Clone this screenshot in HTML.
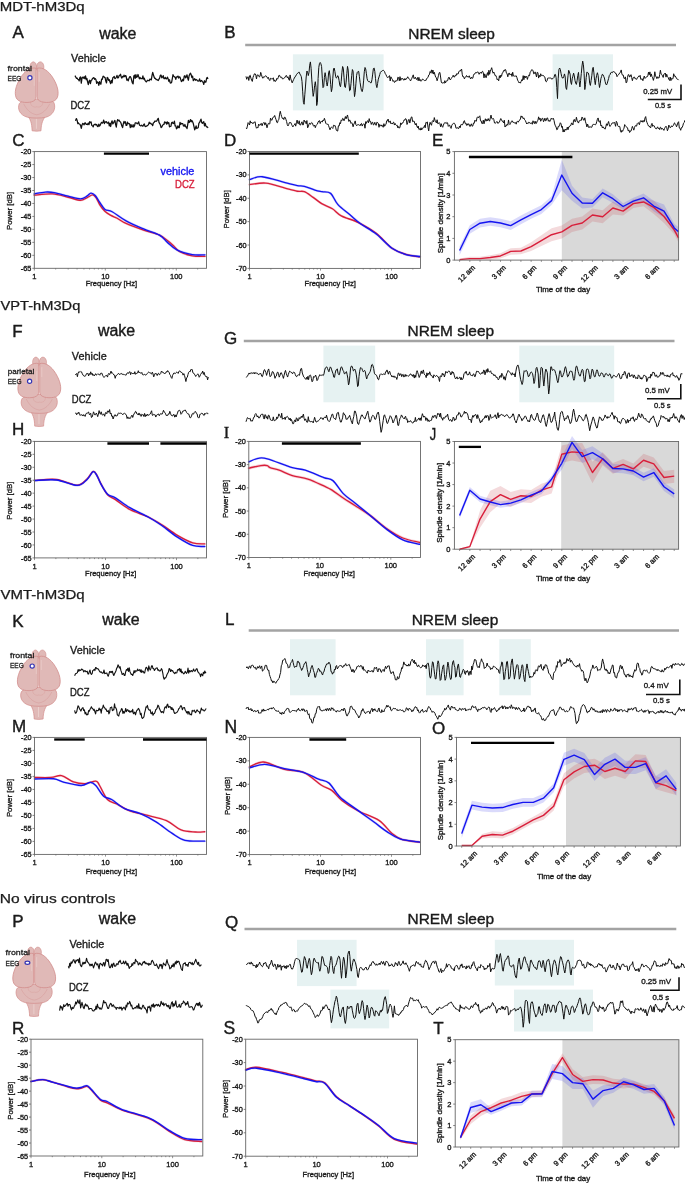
<!DOCTYPE html>
<html><head><meta charset="utf-8"><style>
html,body{margin:0;padding:0;background:#fff;}
body{width:685px;height:1183px;overflow:hidden;font-family:"Liberation Sans",sans-serif;}
svg{display:block;will-change:transform;filter:blur(0.35px);}
</style></head><body>
<svg width="685" height="1183" viewBox="0 0 685 1183" font-family="'Liberation Sans', sans-serif"><rect x="0" y="0" width="685" height="1183" fill="#ffffff"/>
<text x="-0.3" y="10.9" font-size="12.8" fill="#1a1a1a" textLength="85" lengthAdjust="spacingAndGlyphs" stroke="#1a1a1a" stroke-width="0.25">MDT-hM3Dq</text>
<text x="0.5" y="309.7" font-size="12.8" fill="#1a1a1a" textLength="79.8" lengthAdjust="spacingAndGlyphs" stroke="#1a1a1a" stroke-width="0.25">VPT-hM3Dq</text>
<text x="0.5" y="599.2" font-size="12.8" fill="#1a1a1a" textLength="84.2" lengthAdjust="spacingAndGlyphs" stroke="#1a1a1a" stroke-width="0.25">VMT-hM3Dq</text>
<text x="-0.3" y="903.2" font-size="12.8" fill="#1a1a1a" textLength="115.8" lengthAdjust="spacingAndGlyphs" stroke="#1a1a1a" stroke-width="0.25">No virus controls</text>
<text x="12.4" y="37.6" font-size="17.0" fill="#1a1a1a" stroke="#1a1a1a" stroke-width="0.40">A</text>
<text x="99.2" y="38.8" font-size="16" fill="#1a1a1a" textLength="37.2" lengthAdjust="spacingAndGlyphs" stroke="#1a1a1a" stroke-width="0.39">wake</text>
<g transform="translate(36.70,61.80)"><path d="M-9.8,53 C-6.5,57 -4.8,61 -4.6,69 Q0,69.8 4.3,69 C4.5,61 6.5,57 10,53 Z" fill="#e0b9b7" stroke="#d28d8b" stroke-width="0.7"/><path d="M-0.3,57 L-0.3,67" stroke="#ecd3d1" stroke-width="0.8"/><path d="M-17.5,42 C-19.5,47 -17,53.5 -9,55.5 C-4,56.5 4,56.5 9,55.5 C16.5,53.5 19.5,47 17.3,41 C15,36 -15,36 -17.5,42 Z" fill="#e0b9b7" stroke="#d28d8b" stroke-width="0.7"/><path d="M-13,42 C-10,48 -6,52 0,53 C6,52 10,48 13,42" fill="none" stroke="#d28d8b" stroke-width="0.5" opacity="0.7"/><path d="M-6,39 C-7,44 -3,46 0,45 C3,46 7,44 6,39" fill="none" stroke="#d28d8b" stroke-width="0.45" opacity="0.6"/><ellipse cx="-3.4" cy="5.2" rx="3.3" ry="5.2" fill="#e0b9b7" stroke="#d28d8b" stroke-width="0.6"/><ellipse cx="3.6" cy="5.2" rx="3.6" ry="5.2" fill="#e0b9b7" stroke="#d28d8b" stroke-width="0.6"/><path d="M-0.6,6.5 C-6,5 -12,9 -16.5,16.5 C-21,24 -22.6,31 -20.5,36 C-18.5,40.5 -11,41.5 -5,40 C-2,39 -0.6,37.5 -0.6,35 Z" fill="#e0b9b7" stroke="#d28d8b" stroke-width="0.8"/><path d="M0.4,6.5 C6,5 12,9 16.5,16.5 C21,24 22.6,31 20.5,36 C18.5,40.5 11,41.5 5,40 C2,39 0.4,37.5 0.4,35 Z" fill="#e0b9b7" stroke="#d28d8b" stroke-width="0.8"/><path d="M-2.5,14 L-2.5,24" stroke="#ecd0ce" stroke-width="0.6"/><path d="M2.5,10 L2.5,20" stroke="#ecd0ce" stroke-width="0.6"/></g>
<ellipse cx="29.90" cy="77.70" rx="2.1" ry="2.1" fill="#fff" stroke="#3535b5" stroke-width="1.2"/>
<text x="7.6" y="70.6" font-size="7.6" fill="#1a1a1a" textLength="24.4" lengthAdjust="spacingAndGlyphs" stroke="#1a1a1a" stroke-width="0.28">frontal</text>
<text x="7.6" y="80.6" font-size="7.6" fill="#1a1a1a" textLength="13.8" lengthAdjust="spacingAndGlyphs" stroke="#1a1a1a" stroke-width="0.28">EEG</text>
<text x="71" y="62.3" font-size="10.5" fill="#1a1a1a" textLength="35" lengthAdjust="spacingAndGlyphs" stroke="#1a1a1a" stroke-width="0.33">Vehicle</text>
<text x="70.5" y="108.8" font-size="10.5" fill="#1a1a1a" textLength="19.5" lengthAdjust="spacingAndGlyphs" stroke="#1a1a1a" stroke-width="0.33">DCZ</text>
<path d="M75.00,75.61 L75.70,76.99 L76.40,78.32 L77.10,78.07 L77.80,79.28 L78.50,79.57 L79.20,80.89 L79.90,77.45 L80.60,76.90 L81.30,83.12 L82.00,77.84 L82.70,77.12 L83.40,78.16 L84.10,76.79 L84.80,78.68 L85.50,75.87 L86.20,79.65 L86.90,78.50 L87.60,81.90 L88.30,84.59 L89.00,81.10 L89.70,80.24 L90.40,83.58 L91.10,80.62 L91.80,80.10 L92.50,78.59 L93.20,78.02 L93.90,77.64 L94.60,79.31 L95.30,78.68 L96.00,79.79 L96.70,83.27 L97.40,81.88 L98.10,82.47 L98.80,85.40 L99.50,81.53 L100.20,83.64 L100.90,84.11 L101.60,79.20 L102.30,79.29 L103.00,76.41 L103.70,76.24 L104.40,77.40 L105.10,77.62 L105.80,81.10 L106.50,82.92 L107.20,77.46 L107.90,78.02 L108.60,80.45 L109.30,79.78 L110.00,81.96 L110.70,83.65 L111.40,80.27 L112.10,82.80 L112.80,77.85 L113.50,77.28 L114.20,76.45 L114.90,78.60 L115.60,78.27 L116.30,77.25 L117.00,75.43 L117.70,77.96 L118.40,77.67 L119.10,75.79 L119.80,75.19 L120.50,74.26 L121.20,76.98 L121.90,78.08 L122.60,76.44 L123.30,76.90 L124.00,75.17 L124.70,76.72 L125.40,75.62 L126.10,76.13 L126.80,80.19 L127.50,79.25 L128.20,80.82 L128.90,78.47 L129.60,76.93 L130.30,76.58 L131.00,77.92 L131.70,80.47 L132.40,82.97 L133.10,83.85 L133.80,76.19 L134.50,75.18 L135.20,78.47 L135.90,74.69 L136.60,77.34 L137.30,76.83 L138.00,74.49 L138.70,76.68 L139.40,78.83 L140.10,77.49 L140.80,78.71 L141.50,78.48 L142.20,78.74 L142.90,75.92 L143.60,79.02 L144.30,78.16 L145.00,80.46 L145.70,81.33 L146.40,81.89 L147.10,80.89 L147.80,80.20 L148.50,80.54 L149.20,80.76 L149.90,79.05 L150.60,79.56 L151.30,79.95 L152.00,75.54 L152.70,72.47 L153.40,74.80 L154.10,77.08 L154.80,78.33 L155.50,78.40 L156.20,79.71 L156.90,79.59 L157.60,80.11 L158.30,80.50 L159.00,79.05 L159.70,77.93 L160.40,75.11 L161.10,75.12 L161.80,77.93 L162.50,77.09 L163.20,75.65 L163.90,78.73 L164.60,78.70 L165.30,77.40 L166.00,78.85 L166.70,78.83 L167.40,77.13 L168.10,78.66 L168.80,81.26 L169.50,79.74 L170.20,82.95 L170.90,83.07 L171.60,82.40 L172.30,78.70 L173.00,74.65 L173.70,76.17 L174.40,76.83 L175.10,77.12 L175.80,79.40 L176.50,76.83 L177.20,76.84 L177.90,76.05 L178.60,78.05 L179.30,76.83 L180.00,77.08 L180.70,79.36 L181.40,81.59 L182.10,81.00 L182.80,79.35 L183.50,80.76 L184.20,76.32 L184.90,75.67 L185.60,77.79 L186.30,76.88 L187.00,74.80 L187.70,78.05 L188.40,80.24 L189.10,75.77 L189.80,74.16 L190.50,73.20 L191.20,74.83 L191.90,77.52 L192.60,76.07 L193.30,80.56 L194.00,79.64 L194.70,78.65 L195.40,80.26 L196.10,79.49 L196.80,79.78 L197.50,80.64 L198.20,81.13 L198.90,80.73 L199.60,78.88 L200.30,81.64 L201.00,80.85 L201.70,80.46 L202.40,81.70 L203.10,82.16 L203.80,84.46 L204.50,80.74 L205.20,82.24 L205.90,82.16 L206.60,78.28 L207.30,77.53 L208.00,79.09" fill="none" stroke="#111111" stroke-width="1.25" stroke-linejoin="round"/>
<path d="M75.00,120.30 L75.70,120.24 L76.40,118.62 L77.10,120.19 L77.80,123.56 L78.50,123.01 L79.20,124.02 L79.90,124.24 L80.60,125.60 L81.30,128.28 L82.00,124.96 L82.70,123.41 L83.40,123.87 L84.10,124.80 L84.80,122.95 L85.50,122.95 L86.20,124.45 L86.90,124.23 L87.60,124.58 L88.30,123.11 L89.00,124.65 L89.70,121.65 L90.40,122.63 L91.10,121.96 L91.80,125.50 L92.50,125.79 L93.20,126.91 L93.90,124.75 L94.60,124.45 L95.30,124.19 L96.00,125.05 L96.70,124.52 L97.40,126.39 L98.10,126.61 L98.80,124.12 L99.50,126.12 L100.20,125.20 L100.90,123.36 L101.60,122.36 L102.30,123.19 L103.00,122.31 L103.70,120.05 L104.40,123.64 L105.10,121.84 L105.80,122.13 L106.50,121.64 L107.20,123.20 L107.90,123.19 L108.60,122.10 L109.30,125.86 L110.00,123.47 L110.70,126.51 L111.40,122.42 L112.10,120.78 L112.80,123.91 L113.50,122.97 L114.20,121.41 L114.90,120.40 L115.60,124.46 L116.30,127.05 L117.00,121.75 L117.70,119.56 L118.40,120.74 L119.10,120.21 L119.80,121.57 L120.50,121.95 L121.20,123.75 L121.90,126.01 L122.60,127.59 L123.30,123.92 L124.00,121.43 L124.70,123.13 L125.40,121.70 L126.10,125.41 L126.80,125.31 L127.50,122.09 L128.20,123.66 L128.90,123.66 L129.60,123.90 L130.30,127.58 L131.00,124.53 L131.70,126.96 L132.40,126.94 L133.10,124.56 L133.80,127.07 L134.50,125.80 L135.20,122.96 L135.90,122.87 L136.60,123.00 L137.30,123.83 L138.00,123.34 L138.70,121.83 L139.40,124.93 L140.10,125.49 L140.80,125.92 L141.50,125.23 L142.20,125.83 L142.90,126.27 L143.60,124.70 L144.30,123.97 L145.00,126.23 L145.70,126.56 L146.40,126.18 L147.10,125.86 L147.80,125.24 L148.50,124.58 L149.20,122.22 L149.90,123.32 L150.60,123.16 L151.30,124.15 L152.00,124.13 L152.70,125.69 L153.40,122.78 L154.10,122.46 L154.80,121.10 L155.50,121.20 L156.20,121.29 L156.90,120.68 L157.60,119.18 L158.30,118.29 L159.00,122.34 L159.70,123.57 L160.40,125.01 L161.10,127.57 L161.80,126.92 L162.50,125.42 L163.20,124.67 L163.90,124.51 L164.60,121.86 L165.30,122.84 L166.00,122.12 L166.70,124.22 L167.40,121.83 L168.10,123.48 L168.80,122.65 L169.50,126.78 L170.20,126.48 L170.90,126.27 L171.60,122.74 L172.30,122.18 L173.00,123.57 L173.70,123.40 L174.40,121.12 L175.10,125.95 L175.80,125.97 L176.50,128.83 L177.20,128.04 L177.90,125.78 L178.60,127.52 L179.30,127.61 L180.00,122.27 L180.70,124.29 L181.40,123.36 L182.10,123.71 L182.80,123.68 L183.50,126.01 L184.20,126.14 L184.90,124.46 L185.60,126.86 L186.30,126.90 L187.00,128.59 L187.70,124.68 L188.40,120.47 L189.10,122.52 L189.80,121.55 L190.50,119.55 L191.20,121.78 L191.90,120.45 L192.60,121.73 L193.30,123.55 L194.00,126.68 L194.70,129.81 L195.40,128.27 L196.10,125.93 L196.80,128.49 L197.50,128.03 L198.20,127.78 L198.90,123.16 L199.60,122.50 L200.30,120.83 L201.00,119.12 L201.70,122.49 L202.40,123.35 L203.10,122.50 L203.80,121.70 L204.50,125.96 L205.20,123.30 L205.90,125.93 L206.60,126.98 L207.30,126.77 L208.00,128.07" fill="none" stroke="#111111" stroke-width="1.25" stroke-linejoin="round"/>
<text x="224.2" y="37.5" font-size="17.0" fill="#1a1a1a" stroke="#1a1a1a" stroke-width="0.40">B</text>
<line x1="245.2" y1="45" x2="676" y2="45" stroke="#a3a3a3" stroke-width="2.6"/>
<text x="408.3" y="39.4" font-size="14.5" fill="#1a1a1a" textLength="86.6" lengthAdjust="spacingAndGlyphs" stroke="#1a1a1a" stroke-width="0.37">NREM sleep</text>
<rect x="292.90" y="54.30" width="90.70" height="56.10" fill="#e6f2f2"/>
<rect x="552.60" y="54.30" width="60.40" height="56.10" fill="#e6f2f2"/>
<path d="M246.00,76.38 L246.70,79.30 L247.40,77.27 L248.10,76.76 L248.80,80.47 L249.50,75.87 L250.20,75.22 L250.90,78.18 L251.60,80.03 L252.30,81.45 L253.00,77.51 L253.70,75.53 L254.40,73.88 L255.10,73.74 L255.80,75.29 L256.50,78.99 L257.20,74.75 L257.90,75.39 L258.60,75.22 L259.30,77.03 L260.00,76.43 L260.70,72.36 L261.40,74.42 L262.10,76.95 L262.80,78.26 L263.50,76.87 L264.20,77.37 L264.90,76.22 L265.60,75.82 L266.30,76.11 L267.00,77.10 L267.70,78.46 L268.40,77.36 L269.10,79.62 L269.80,80.58 L270.50,78.28 L271.20,78.36 L271.90,79.37 L272.60,78.74 L273.30,77.79 L274.00,81.30 L274.70,79.88 L275.40,81.53 L276.10,80.73 L276.80,78.43 L277.50,79.19 L278.20,77.70 L278.90,75.37 L279.60,75.36 L280.30,77.18 L281.00,77.45 L281.70,77.14 L282.40,78.94 L283.10,78.48 L283.80,78.62 L284.50,77.96 L285.20,76.91 L285.90,75.65 L286.60,75.61 L287.30,77.82 L288.00,76.75 L288.70,79.27 L289.40,80.36 L290.10,74.91 L290.80,78.79 L291.50,80.91 L292.20,82.86 L292.90,81.06 L293.60,79.61 L294.30,78.07 L295.00,76.96 L295.70,76.06 L296.40,74.70 L297.10,73.63 L297.80,73.32 L298.50,72.35 L299.20,72.11 L299.90,74.03 L300.60,75.10 L301.30,76.65 L302.00,81.43 L302.70,91.83 L303.40,102.37 L304.10,104.26 L304.80,94.78 L305.50,86.04 L306.20,76.99 L306.90,71.02 L307.60,72.03 L308.30,75.58 L309.00,72.53 L309.70,65.16 L310.40,61.91 L311.10,68.34 L311.80,79.92 L312.50,88.87 L313.20,96.35 L313.90,92.54 L314.60,85.71 L315.30,81.71 L316.00,87.39 L316.70,105.52 L317.40,102.28 L318.10,78.59 L318.80,67.40 L319.50,63.37 L320.20,62.46 L320.90,63.77 L321.60,66.63 L322.30,78.20 L323.00,87.63 L323.70,86.51 L324.40,77.51 L325.10,72.68 L325.80,76.80 L326.50,82.60 L327.20,86.04 L327.90,81.64 L328.60,72.94 L329.30,70.68 L330.00,75.99 L330.70,84.44 L331.40,91.70 L332.10,88.43 L332.80,78.20 L333.50,68.90 L334.20,68.03 L334.90,71.45 L335.60,76.19 L336.30,78.05 L337.00,77.46 L337.70,75.65 L338.40,76.84 L339.10,80.65 L339.80,85.28 L340.50,86.76 L341.20,81.72 L341.90,72.76 L342.60,66.50 L343.30,68.24 L344.00,77.30 L344.70,86.74 L345.40,87.53 L346.10,82.17 L346.80,73.72 L347.50,66.40 L348.20,70.07 L348.90,82.25 L349.60,90.78 L350.30,90.10 L351.00,83.60 L351.70,75.66 L352.40,69.54 L353.10,71.23 L353.80,86.41 L354.50,96.58 L355.20,92.48 L355.90,83.83 L356.60,75.36 L357.30,72.17 L358.00,71.45 L358.70,71.45 L359.40,76.73 L360.10,82.64 L360.80,87.07 L361.50,90.62 L362.20,91.63 L362.90,88.43 L363.60,80.85 L364.30,71.71 L365.00,67.47 L365.70,68.88 L366.40,73.76 L367.10,78.74 L367.80,80.84 L368.50,81.61 L369.20,81.47 L369.90,81.81 L370.60,82.89 L371.30,82.72 L372.00,79.48 L372.70,74.08 L373.40,68.61 L374.10,67.94 L374.80,71.43 L375.50,78.41 L376.20,84.92 L376.90,87.62 L377.60,83.47 L378.30,79.14 L379.00,76.97 L379.70,74.67 L380.40,72.35 L381.10,71.42 L381.80,71.39 L382.50,70.49 L383.20,70.24 L383.90,70.71 L384.60,71.68 L385.30,73.84 L386.00,74.76 L386.70,76.34 L387.40,77.58 L388.10,77.31 L388.80,76.80 L389.50,75.61 L390.20,80.99 L390.90,76.82 L391.60,78.29 L392.30,79.25 L393.00,81.33 L393.70,80.60 L394.40,82.42 L395.10,81.99 L395.80,80.56 L396.50,80.80 L397.20,80.72 L397.90,77.14 L398.60,77.63 L399.30,80.83 L400.00,76.67 L400.70,80.38 L401.40,78.61 L402.10,78.59 L402.80,78.50 L403.50,80.07 L404.20,80.05 L404.90,78.46 L405.60,79.88 L406.30,78.66 L407.00,78.41 L407.70,76.75 L408.40,78.21 L409.10,78.52 L409.80,79.57 L410.50,80.96 L411.20,79.71 L411.90,78.23 L412.60,76.24 L413.30,74.85 L414.00,78.73 L414.70,78.22 L415.40,77.19 L416.10,79.11 L416.80,79.52 L417.50,77.54 L418.20,80.76 L418.90,77.35 L419.60,80.58 L420.30,79.60 L421.00,81.29 L421.70,80.49 L422.40,79.08 L423.10,79.26 L423.80,80.17 L424.50,80.56 L425.20,80.37 L425.90,80.57 L426.60,78.71 L427.30,77.93 L428.00,77.44 L428.70,75.03 L429.40,74.70 L430.10,71.59 L430.80,72.80 L431.50,69.87 L432.20,73.42 L432.90,70.01 L433.60,74.07 L434.30,72.25 L435.00,75.04 L435.70,77.26 L436.40,77.70 L437.10,80.76 L437.80,78.39 L438.50,75.30 L439.20,72.72 L439.90,72.42 L440.60,77.02 L441.30,82.17 L442.00,83.16 L442.70,82.87 L443.40,82.53 L444.10,83.34 L444.80,80.66 L445.50,82.87 L446.20,81.24 L446.90,80.62 L447.60,80.73 L448.30,78.08 L449.00,77.11 L449.70,79.02 L450.40,79.97 L451.10,78.47 L451.80,77.80 L452.50,76.81 L453.20,75.22 L453.90,77.03 L454.60,77.03 L455.30,75.13 L456.00,75.82 L456.70,73.67 L457.40,73.98 L458.10,74.03 L458.80,71.83 L459.50,70.84 L460.20,71.17 L460.90,69.96 L461.60,69.08 L462.30,74.76 L463.00,76.96 L463.70,76.70 L464.40,78.86 L465.10,77.62 L465.80,76.58 L466.50,75.52 L467.20,77.15 L467.90,76.31 L468.60,77.28 L469.30,75.79 L470.00,77.82 L470.70,78.97 L471.40,77.19 L472.10,78.27 L472.80,78.18 L473.50,75.22 L474.20,73.91 L474.90,73.87 L475.60,72.48 L476.30,72.66 L477.00,72.81 L477.70,71.76 L478.40,72.44 L479.10,74.31 L479.80,72.69 L480.50,72.50 L481.20,73.41 L481.90,71.80 L482.60,71.27 L483.30,72.93 L484.00,77.88 L484.70,73.85 L485.40,75.97 L486.10,77.76 L486.80,75.02 L487.50,72.64 L488.20,75.44 L488.90,70.20 L489.60,74.32 L490.30,71.07 L491.00,69.51 L491.70,67.69 L492.40,70.92 L493.10,73.23 L493.80,72.00 L494.50,73.80 L495.20,75.74 L495.90,75.53 L496.60,77.46 L497.30,80.02 L498.00,79.30 L498.70,80.81 L499.40,75.73 L500.10,78.00 L500.80,75.09 L501.50,76.36 L502.20,73.16 L502.90,72.69 L503.60,70.55 L504.30,70.96 L505.00,69.38 L505.70,69.87 L506.40,72.97 L507.10,73.85 L507.80,76.80 L508.50,73.71 L509.20,72.93 L509.90,74.89 L510.60,74.42 L511.30,73.75 L512.00,76.42 L512.70,72.22 L513.40,75.93 L514.10,76.18 L514.80,76.15 L515.50,76.08 L516.20,75.79 L516.90,77.52 L517.60,80.10 L518.30,81.34 L519.00,82.92 L519.70,82.29 L520.40,83.17 L521.10,81.42 L521.80,79.64 L522.50,80.56 L523.20,75.64 L523.90,79.71 L524.60,75.93 L525.30,77.83 L526.00,76.05 L526.70,76.81 L527.40,79.42 L528.10,76.61 L528.80,75.15 L529.50,75.80 L530.20,72.06 L530.90,71.31 L531.60,69.74 L532.30,70.03 L533.00,70.37 L533.70,73.82 L534.40,73.53 L535.10,71.88 L535.80,74.00 L536.50,76.94 L537.20,72.31 L537.90,72.65 L538.60,78.08 L539.30,75.36 L540.00,76.91 L540.70,73.75 L541.40,75.56 L542.10,75.85 L542.80,75.21 L543.50,75.52 L544.20,76.69 L544.90,77.14 L545.60,81.16 L546.30,81.79 L547.00,80.78 L547.70,78.20 L548.40,78.07 L549.10,77.64 L549.80,78.25 L550.50,78.02 L551.20,78.21 L551.90,79.32 L552.60,78.39 L553.30,78.24 L554.00,77.54 L554.70,74.64 L555.40,74.41 L556.10,77.51 L556.80,87.49 L557.50,98.55 L558.20,78.82 L558.90,69.63 L559.60,68.02 L560.30,69.40 L561.00,73.26 L561.70,76.55 L562.40,78.03 L563.10,78.10 L563.80,76.34 L564.50,73.92 L565.20,77.03 L565.90,87.72 L566.60,89.45 L567.30,82.99 L568.00,75.80 L568.70,70.30 L569.40,72.06 L570.10,74.11 L570.80,82.09 L571.50,84.44 L572.20,78.82 L572.90,76.13 L573.60,73.14 L574.30,75.98 L575.00,80.53 L575.70,83.15 L576.40,84.41 L577.10,80.67 L577.80,75.48 L578.50,72.39 L579.20,81.28 L579.90,86.93 L580.60,80.60 L581.30,73.47 L582.00,65.95 L582.70,61.13 L583.40,64.77 L584.10,73.26 L584.80,89.56 L585.50,84.74 L586.20,77.52 L586.90,72.06 L587.60,72.47 L588.30,73.03 L589.00,75.84 L589.70,83.46 L590.40,85.41 L591.10,80.62 L591.80,75.81 L592.50,69.16 L593.20,67.32 L593.90,72.87 L594.60,80.33 L595.30,84.65 L596.00,78.70 L596.70,75.22 L597.40,72.72 L598.10,75.38 L598.80,82.39 L599.50,87.51 L600.20,83.74 L600.90,78.70 L601.60,76.41 L602.30,74.30 L603.00,74.74 L603.70,76.39 L604.40,77.96 L605.10,81.44 L605.80,84.05 L606.50,84.95 L607.20,83.64 L607.90,80.96 L608.60,78.56 L609.30,75.53 L610.00,74.73 L610.70,72.81 L611.40,72.35 L612.10,72.90 L612.80,71.70 L613.50,71.64 L614.20,71.94 L614.90,72.28 L615.60,73.73 L616.30,73.73 L617.00,76.65 L617.70,75.49 L618.40,74.84 L619.10,73.97 L619.80,72.66 L620.50,72.27 L621.20,69.93 L621.90,73.96 L622.60,75.22 L623.30,75.12 L624.00,78.48 L624.70,78.48 L625.40,76.88 L626.10,82.92 L626.80,82.28 L627.50,77.54 L628.20,74.68 L628.90,74.73 L629.60,77.13 L630.30,76.21 L631.00,74.66 L631.70,77.56 L632.40,80.70 L633.10,77.90 L633.80,77.12 L634.50,77.06 L635.20,78.93 L635.90,78.64 L636.60,79.44 L637.30,77.76 L638.00,77.35 L638.70,76.05 L639.40,76.62 L640.10,75.33 L640.80,79.35 L641.50,79.13 L642.20,78.85 L642.90,80.70 L643.60,77.64 L644.30,76.07 L645.00,78.44 L645.70,77.55 L646.40,77.00 L647.10,76.87 L647.80,75.91 L648.50,72.20 L649.20,74.81 L649.90,71.88 L650.60,76.57 L651.30,73.91 L652.00,76.68 L652.70,77.84 L653.40,80.39 L654.10,77.41 L654.80,71.75 L655.50,75.87 L656.20,76.94 L656.90,78.67 L657.60,76.77 L658.30,78.01 L659.00,78.07 L659.70,74.51 L660.40,70.23 L661.10,73.99 L661.80,74.63 L662.50,75.87 L663.20,77.45 L663.90,74.12 L664.60,73.78 L665.30,73.01 L666.00,77.11 L666.70,74.25 L667.40,76.41 L668.10,77.33 L668.80,79.27 L669.50,80.45 L670.20,76.99 L670.90,80.67 L671.60,78.38 L672.30,78.77 L673.00,78.70 L673.70,73.74 L674.40,76.17 L675.10,75.89 L675.80,76.93 L676.50,78.62 L677.20,79.10 L677.90,79.21 L678.60,80.14" fill="none" stroke="#111111" stroke-width="1.00" stroke-linejoin="round"/>
<path d="M246.00,127.94 L246.70,128.79 L247.40,126.14 L248.10,122.63 L248.80,123.54 L249.50,125.02 L250.20,120.84 L250.90,123.14 L251.60,122.11 L252.30,123.16 L253.00,123.83 L253.70,122.39 L254.40,122.27 L255.10,121.66 L255.80,126.37 L256.50,128.24 L257.20,127.33 L257.90,128.03 L258.60,124.12 L259.30,125.10 L260.00,125.35 L260.70,123.76 L261.40,123.45 L262.10,125.80 L262.80,123.59 L263.50,122.66 L264.20,122.50 L264.90,125.14 L265.60,122.74 L266.30,124.49 L267.00,127.79 L267.70,125.10 L268.40,123.33 L269.10,123.88 L269.80,123.88 L270.50,118.07 L271.20,119.73 L271.90,120.34 L272.60,117.93 L273.30,117.16 L274.00,116.97 L274.70,115.46 L275.40,117.91 L276.10,119.74 L276.80,122.36 L277.50,122.71 L278.20,120.38 L278.90,119.26 L279.60,114.15 L280.30,111.26 L281.00,114.43 L281.70,116.73 L282.40,118.52 L283.10,117.92 L283.80,119.59 L284.50,117.20 L285.20,117.35 L285.90,119.27 L286.60,121.54 L287.30,124.67 L288.00,125.95 L288.70,124.51 L289.40,122.55 L290.10,122.71 L290.80,122.48 L291.50,124.20 L292.20,125.67 L292.90,126.89 L293.60,125.52 L294.30,124.87 L295.00,123.58 L295.70,126.15 L296.40,122.79 L297.10,120.08 L297.80,123.48 L298.50,123.65 L299.20,120.75 L299.90,125.01 L300.60,125.06 L301.30,123.06 L302.00,121.79 L302.70,124.90 L303.40,124.77 L304.10,120.06 L304.80,121.83 L305.50,121.57 L306.20,123.86 L306.90,120.54 L307.60,127.84 L308.30,126.78 L309.00,124.06 L309.70,122.91 L310.40,124.38 L311.10,123.15 L311.80,122.50 L312.50,123.19 L313.20,125.64 L313.90,126.15 L314.60,125.04 L315.30,127.70 L316.00,125.65 L316.70,124.61 L317.40,124.10 L318.10,122.04 L318.80,120.97 L319.50,120.62 L320.20,123.56 L320.90,121.57 L321.60,121.50 L322.30,121.97 L323.00,119.98 L323.70,120.65 L324.40,118.32 L325.10,120.52 L325.80,123.30 L326.50,124.04 L327.20,124.39 L327.90,123.97 L328.60,125.68 L329.30,127.78 L330.00,129.80 L330.70,127.68 L331.40,127.19 L332.10,127.74 L332.80,128.47 L333.50,125.25 L334.20,125.77 L334.90,125.32 L335.60,127.18 L336.30,130.18 L337.00,130.93 L337.70,131.04 L338.40,125.84 L339.10,126.05 L339.80,122.70 L340.50,123.68 L341.20,119.93 L341.90,120.65 L342.60,118.37 L343.30,118.81 L344.00,120.76 L344.70,119.15 L345.40,116.52 L346.10,118.82 L346.80,116.73 L347.50,114.97 L348.20,118.58 L348.90,121.47 L349.60,119.88 L350.30,121.06 L351.00,123.38 L351.70,122.68 L352.40,123.91 L353.10,126.78 L353.80,124.13 L354.50,123.03 L355.20,120.90 L355.90,124.64 L356.60,125.71 L357.30,124.85 L358.00,124.77 L358.70,124.66 L359.40,124.97 L360.10,125.75 L360.80,124.00 L361.50,123.43 L362.20,126.07 L362.90,124.50 L363.60,123.77 L364.30,124.08 L365.00,128.22 L365.70,121.65 L366.40,123.35 L367.10,121.15 L367.80,120.72 L368.50,122.75 L369.20,118.64 L369.90,121.56 L370.60,121.51 L371.30,124.44 L372.00,122.44 L372.70,122.31 L373.40,124.96 L374.10,124.44 L374.80,122.29 L375.50,124.79 L376.20,125.39 L376.90,122.18 L377.60,122.52 L378.30,123.34 L379.00,127.30 L379.70,124.43 L380.40,125.27 L381.10,126.20 L381.80,124.88 L382.50,126.15 L383.20,127.28 L383.90,123.67 L384.60,126.27 L385.30,124.92 L386.00,124.38 L386.70,120.78 L387.40,120.90 L388.10,119.04 L388.80,122.28 L389.50,122.09 L390.20,120.90 L390.90,123.72 L391.60,122.93 L392.30,124.05 L393.00,122.69 L393.70,122.12 L394.40,125.05 L395.10,123.45 L395.80,124.89 L396.50,125.57 L397.20,125.22 L397.90,127.95 L398.60,126.57 L399.30,128.20 L400.00,127.14 L400.70,122.85 L401.40,124.48 L402.10,122.97 L402.80,123.01 L403.50,121.46 L404.20,119.74 L404.90,120.21 L405.60,118.57 L406.30,119.33 L407.00,124.49 L407.70,122.75 L408.40,119.81 L409.10,119.29 L409.80,123.05 L410.50,119.95 L411.20,117.25 L411.90,116.85 L412.60,121.61 L413.30,121.30 L414.00,120.95 L414.70,123.18 L415.40,124.99 L416.10,123.30 L416.80,125.98 L417.50,127.73 L418.20,126.01 L418.90,129.46 L419.60,128.78 L420.30,130.13 L421.00,127.74 L421.70,129.94 L422.40,128.14 L423.10,127.93 L423.80,127.53 L424.50,125.47 L425.20,127.78 L425.90,122.40 L426.60,122.93 L427.30,121.85 L428.00,127.25 L428.70,130.92 L429.40,124.99 L430.10,122.28 L430.80,124.09 L431.50,125.29 L432.20,121.47 L432.90,120.52 L433.60,121.99 L434.30,117.59 L435.00,120.24 L435.70,121.76 L436.40,122.87 L437.10,119.76 L437.80,123.69 L438.50,123.52 L439.20,122.58 L439.90,123.65 L440.60,126.77 L441.30,123.72 L442.00,126.32 L442.70,127.27 L443.40,125.14 L444.10,123.28 L444.80,122.77 L445.50,122.67 L446.20,123.56 L446.90,122.33 L447.60,122.95 L448.30,126.36 L449.00,125.49 L449.70,125.12 L450.40,127.41 L451.10,128.43 L451.80,125.32 L452.50,124.20 L453.20,123.75 L453.90,122.89 L454.60,123.54 L455.30,124.95 L456.00,128.26 L456.70,128.03 L457.40,127.51 L458.10,128.71 L458.80,128.39 L459.50,126.07 L460.20,127.71 L460.90,124.61 L461.60,124.53 L462.30,124.90 L463.00,123.96 L463.70,121.46 L464.40,120.61 L465.10,123.46 L465.80,123.06 L466.50,125.39 L467.20,123.74 L467.90,125.26 L468.60,123.69 L469.30,124.65 L470.00,126.54 L470.70,125.09 L471.40,123.82 L472.10,126.26 L472.80,125.97 L473.50,123.04 L474.20,123.32 L474.90,120.22 L475.60,121.11 L476.30,121.24 L477.00,117.75 L477.70,116.82 L478.40,117.84 L479.10,116.63 L479.80,115.81 L480.50,120.81 L481.20,120.86 L481.90,123.60 L482.60,123.52 L483.30,120.11 L484.00,123.82 L484.70,121.04 L485.40,118.77 L486.10,121.19 L486.80,119.40 L487.50,120.76 L488.20,118.57 L488.90,120.58 L489.60,121.00 L490.30,117.96 L491.00,115.10 L491.70,118.49 L492.40,119.16 L493.10,118.26 L493.80,119.51 L494.50,122.97 L495.20,123.42 L495.90,122.78 L496.60,121.63 L497.30,121.76 L498.00,123.47 L498.70,122.43 L499.40,122.16 L500.10,120.10 L500.80,118.54 L501.50,119.62 L502.20,121.32 L502.90,121.42 L503.60,122.93 L504.30,120.18 L505.00,127.04 L505.70,125.70 L506.40,125.89 L507.10,124.19 L507.80,125.23 L508.50,119.96 L509.20,123.75 L509.90,124.56 L510.60,123.34 L511.30,121.62 L512.00,120.72 L512.70,122.10 L513.40,122.10 L514.10,123.01 L514.80,122.80 L515.50,122.62 L516.20,124.17 L516.90,121.63 L517.60,121.43 L518.30,122.11 L519.00,120.63 L519.70,120.26 L520.40,118.94 L521.10,115.89 L521.80,117.30 L522.50,116.62 L523.20,118.78 L523.90,117.91 L524.60,119.76 L525.30,120.40 L526.00,122.13 L526.70,124.01 L527.40,123.07 L528.10,123.59 L528.80,122.14 L529.50,122.44 L530.20,123.58 L530.90,122.98 L531.60,122.85 L532.30,124.26 L533.00,120.79 L533.70,122.65 L534.40,123.63 L535.10,121.15 L535.80,123.59 L536.50,123.28 L537.20,121.03 L537.90,120.53 L538.60,116.85 L539.30,119.57 L540.00,118.01 L540.70,121.26 L541.40,119.86 L542.10,118.32 L542.80,118.35 L543.50,121.72 L544.20,120.60 L544.90,118.17 L545.60,120.82 L546.30,120.44 L547.00,117.85 L547.70,118.13 L548.40,121.23 L549.10,120.19 L549.80,121.53 L550.50,120.51 L551.20,118.23 L551.90,119.11 L552.60,118.95 L553.30,118.22 L554.00,120.38 L554.70,123.95 L555.40,125.83 L556.10,127.06 L556.80,129.77 L557.50,129.32 L558.20,126.47 L558.90,126.71 L559.60,124.81 L560.30,122.75 L561.00,123.76 L561.70,127.35 L562.40,126.34 L563.10,132.05 L563.80,129.57 L564.50,131.73 L565.20,129.00 L565.90,129.92 L566.60,129.84 L567.30,127.18 L568.00,129.76 L568.70,126.93 L569.40,126.88 L570.10,125.55 L570.80,125.51 L571.50,123.01 L572.20,123.35 L572.90,124.94 L573.60,120.21 L574.30,119.38 L575.00,121.83 L575.70,121.51 L576.40,117.24 L577.10,120.32 L577.80,121.95 L578.50,123.09 L579.20,120.82 L579.90,120.56 L580.60,120.29 L581.30,120.40 L582.00,116.98 L582.70,117.68 L583.40,120.00 L584.10,120.23 L584.80,117.82 L585.50,121.85 L586.20,123.88 L586.90,126.95 L587.60,124.05 L588.30,126.31 L589.00,127.78 L589.70,126.57 L590.40,126.92 L591.10,127.37 L591.80,127.22 L592.50,125.06 L593.20,124.25 L593.90,124.48 L594.60,124.47 L595.30,124.74 L596.00,124.29 L596.70,121.75 L597.40,119.27 L598.10,117.95 L598.80,121.47 L599.50,122.27 L600.20,120.58 L600.90,125.93 L601.60,125.08 L602.30,127.79 L603.00,126.78 L603.70,128.01 L604.40,128.13 L605.10,129.18 L605.80,126.88 L606.50,123.75 L607.20,125.53 L607.90,123.34 L608.60,121.49 L609.30,124.89 L610.00,126.48 L610.70,125.37 L611.40,124.48 L612.10,122.98 L612.80,122.88 L613.50,123.17 L614.20,122.20 L614.90,123.70 L615.60,126.30 L616.30,121.31 L617.00,122.49 L617.70,125.52 L618.40,126.55 L619.10,126.29 L619.80,126.61 L620.50,130.90 L621.20,132.32 L621.90,130.34 L622.60,131.40 L623.30,129.63 L624.00,128.17 L624.70,124.58 L625.40,125.74 L626.10,126.68 L626.80,127.37 L627.50,127.73 L628.20,130.83 L628.90,129.94 L629.60,132.47 L630.30,131.09 L631.00,131.08 L631.70,128.59 L632.40,126.36 L633.10,128.12 L633.80,130.17 L634.50,127.55 L635.20,125.79 L635.90,125.58 L636.60,126.14 L637.30,123.45 L638.00,122.71 L638.70,122.96 L639.40,124.74 L640.10,121.76 L640.80,120.60 L641.50,122.02 L642.20,120.61 L642.90,122.25 L643.60,120.58 L644.30,121.61 L645.00,117.94 L645.70,116.59 L646.40,120.84 L647.10,122.72 L647.80,124.56 L648.50,126.03 L649.20,126.08 L649.90,127.00 L650.60,127.93 L651.30,124.81 L652.00,123.38 L652.70,126.37 L653.40,125.64 L654.10,125.73 L654.80,127.30 L655.50,128.54 L656.20,129.02 L656.90,128.14 L657.60,126.84 L658.30,128.67 L659.00,127.95 L659.70,129.62 L660.40,127.16 L661.10,127.77 L661.80,129.37 L662.50,128.48 L663.20,129.07 L663.90,130.36 L664.60,128.33 L665.30,127.14 L666.00,126.19 L666.70,127.58 L667.40,130.76 L668.10,129.09 L668.80,125.08 L669.50,126.26 L670.20,127.81 L670.90,127.19 L671.60,125.78 L672.30,126.75 L673.00,125.55 L673.70,125.08 L674.40,122.86 L675.10,123.53 L675.80,124.67 L676.50,126.81 L677.20,125.01 L677.90,122.70 L678.60,121.69 L679.30,127.95 L680.00,128.25 L680.70,130.29 L681.40,127.60 L682.10,127.64 L682.80,125.82 L683.50,123.21 L684.20,122.54 L684.90,120.20" fill="none" stroke="#111111" stroke-width="1.00" stroke-linejoin="round"/>
<path d="M647.80,99.50 L681.00,99.50 L681.00,84.50" fill="none" stroke="#111" stroke-width="1.6"/>
<text x="643.3" y="93.6" font-size="7.8" fill="#1a1a1a" textLength="28.9" lengthAdjust="spacingAndGlyphs" stroke="#1a1a1a" stroke-width="0.35">0.25 mV</text>
<text x="654.9" y="108.3" font-size="7.8" fill="#1a1a1a" textLength="16.2" lengthAdjust="spacingAndGlyphs" stroke="#1a1a1a" stroke-width="0.35">0.5 s</text>
<text x="12.3" y="145.8" font-size="17.0" fill="#1a1a1a" stroke="#1a1a1a" stroke-width="0.40">C</text>
<path d="M34.30,195.17 C37.32,194.95 46.78,193.53 52.42,193.87 C58.07,194.22 63.51,196.16 68.18,197.24 C72.84,198.32 77.29,200.27 80.40,200.35 C83.52,200.44 84.82,198.67 86.87,197.76 C88.91,196.85 91.08,194.82 92.67,194.91 C94.27,195.00 95.24,196.64 96.43,198.28 C97.62,199.92 98.41,202.60 99.81,204.76 C101.21,206.92 102.98,209.47 104.83,211.25 C106.69,213.02 108.86,214.23 110.92,215.40 C112.98,216.56 114.66,216.91 117.18,218.25 C119.70,219.59 121.65,221.45 126.05,223.44 C130.45,225.42 138.00,228.23 143.57,230.18 C149.15,232.12 155.53,233.38 159.50,235.11 C163.48,236.83 165.14,238.82 167.43,240.55 C169.72,242.28 171.20,243.62 173.26,245.48 C175.32,247.34 176.62,249.97 179.79,251.70 C182.97,253.43 188.11,255.07 192.30,255.85 C196.48,256.63 202.82,256.28 204.92,256.37" fill="none" stroke="#d81e3a" stroke-opacity="0.2" stroke-width="2.34" stroke-linejoin="round" stroke-linecap="round"/>
<path d="M34.30,195.17 C37.32,194.95 46.78,193.53 52.42,193.87 C58.07,194.22 63.51,196.16 68.18,197.24 C72.84,198.32 77.29,200.27 80.40,200.35 C83.52,200.44 84.82,198.67 86.87,197.76 C88.91,196.85 91.08,194.82 92.67,194.91 C94.27,195.00 95.24,196.64 96.43,198.28 C97.62,199.92 98.41,202.60 99.81,204.76 C101.21,206.92 102.98,209.47 104.83,211.25 C106.69,213.02 108.86,214.23 110.92,215.40 C112.98,216.56 114.66,216.91 117.18,218.25 C119.70,219.59 121.65,221.45 126.05,223.44 C130.45,225.42 138.00,228.23 143.57,230.18 C149.15,232.12 155.53,233.38 159.50,235.11 C163.48,236.83 165.14,238.82 167.43,240.55 C169.72,242.28 171.20,243.62 173.26,245.48 C175.32,247.34 176.62,249.97 179.79,251.70 C182.97,253.43 188.11,255.07 192.30,255.85 C196.48,256.63 202.82,256.28 204.92,256.37" fill="none" stroke="#d81e3a" stroke-width="1.35" stroke-linejoin="round" stroke-linecap="round"/>
<path d="M34.30,193.87 C36.14,193.57 42.03,192.27 45.33,192.06 C48.63,191.84 50.28,191.88 54.09,192.57 C57.90,193.27 63.79,195.17 68.18,196.21 C72.56,197.24 77.29,198.80 80.40,198.80 C83.52,198.80 85.12,197.16 86.87,196.21 C88.62,195.25 89.52,193.22 90.91,193.09 C92.29,192.96 93.69,193.87 95.17,195.43 C96.66,196.98 98.18,200.10 99.81,202.43 C101.45,204.76 102.93,207.88 104.99,209.43 C107.05,210.99 108.67,209.86 112.18,211.77 C115.69,213.67 120.82,217.99 126.05,220.84 C131.28,223.69 138.00,226.50 143.57,228.88 C149.15,231.26 155.53,232.86 159.50,235.11 C163.48,237.35 164.54,239.90 167.43,242.37 C170.32,244.83 172.71,247.86 176.85,249.89 C180.99,251.92 187.62,253.73 192.30,254.56 C196.98,255.38 202.82,254.77 204.92,254.81" fill="none" stroke="#1414f0" stroke-opacity="0.2" stroke-width="2.34" stroke-linejoin="round" stroke-linecap="round"/>
<path d="M34.30,193.87 C36.14,193.57 42.03,192.27 45.33,192.06 C48.63,191.84 50.28,191.88 54.09,192.57 C57.90,193.27 63.79,195.17 68.18,196.21 C72.56,197.24 77.29,198.80 80.40,198.80 C83.52,198.80 85.12,197.16 86.87,196.21 C88.62,195.25 89.52,193.22 90.91,193.09 C92.29,192.96 93.69,193.87 95.17,195.43 C96.66,196.98 98.18,200.10 99.81,202.43 C101.45,204.76 102.93,207.88 104.99,209.43 C107.05,210.99 108.67,209.86 112.18,211.77 C115.69,213.67 120.82,217.99 126.05,220.84 C131.28,223.69 138.00,226.50 143.57,228.88 C149.15,231.26 155.53,232.86 159.50,235.11 C163.48,237.35 164.54,239.90 167.43,242.37 C170.32,244.83 172.71,247.86 176.85,249.89 C180.99,251.92 187.62,253.73 192.30,254.56 C196.98,255.38 202.82,254.77 204.92,254.81" fill="none" stroke="#1414f0" stroke-width="1.35" stroke-linejoin="round" stroke-linecap="round"/>
<rect x="34.30" y="151.60" width="172.20" height="116.70" fill="none" stroke="#666" stroke-width="0.9"/>
<line x1="32.30" y1="151.60" x2="34.30" y2="151.60" stroke="#666" stroke-width="0.8"/>
<text x="31.3" y="154.2" font-size="7.3" fill="#1a1a1a" text-anchor="end" stroke="#1a1a1a" stroke-width="0.35">-20</text>
<line x1="32.30" y1="164.57" x2="34.30" y2="164.57" stroke="#666" stroke-width="0.8"/>
<text x="31.3" y="167.17" font-size="7.3" fill="#1a1a1a" text-anchor="end" stroke="#1a1a1a" stroke-width="0.35">-25</text>
<line x1="32.30" y1="177.53" x2="34.30" y2="177.53" stroke="#666" stroke-width="0.8"/>
<text x="31.3" y="180.13" font-size="7.3" fill="#1a1a1a" text-anchor="end" stroke="#1a1a1a" stroke-width="0.35">-30</text>
<line x1="32.30" y1="190.50" x2="34.30" y2="190.50" stroke="#666" stroke-width="0.8"/>
<text x="31.3" y="193.1" font-size="7.3" fill="#1a1a1a" text-anchor="end" stroke="#1a1a1a" stroke-width="0.35">-35</text>
<line x1="32.30" y1="203.47" x2="34.30" y2="203.47" stroke="#666" stroke-width="0.8"/>
<text x="31.3" y="206.07" font-size="7.3" fill="#1a1a1a" text-anchor="end" stroke="#1a1a1a" stroke-width="0.35">-40</text>
<line x1="32.30" y1="216.43" x2="34.30" y2="216.43" stroke="#666" stroke-width="0.8"/>
<text x="31.3" y="219.03" font-size="7.3" fill="#1a1a1a" text-anchor="end" stroke="#1a1a1a" stroke-width="0.35">-45</text>
<line x1="32.30" y1="229.40" x2="34.30" y2="229.40" stroke="#666" stroke-width="0.8"/>
<text x="31.3" y="232" font-size="7.3" fill="#1a1a1a" text-anchor="end" stroke="#1a1a1a" stroke-width="0.35">-50</text>
<line x1="32.30" y1="242.37" x2="34.30" y2="242.37" stroke="#666" stroke-width="0.8"/>
<text x="31.3" y="244.97" font-size="7.3" fill="#1a1a1a" text-anchor="end" stroke="#1a1a1a" stroke-width="0.35">-55</text>
<line x1="32.30" y1="255.33" x2="34.30" y2="255.33" stroke="#666" stroke-width="0.8"/>
<text x="31.3" y="257.93" font-size="7.3" fill="#1a1a1a" text-anchor="end" stroke="#1a1a1a" stroke-width="0.35">-60</text>
<line x1="32.30" y1="268.30" x2="34.30" y2="268.30" stroke="#666" stroke-width="0.8"/>
<text x="31.3" y="270.9" font-size="7.3" fill="#1a1a1a" text-anchor="end" stroke="#1a1a1a" stroke-width="0.35">-65</text>
<line x1="34.30" y1="268.30" x2="34.30" y2="270.50" stroke="#666" stroke-width="0.7"/>
<line x1="55.67" y1="268.30" x2="55.67" y2="269.50" stroke="#666" stroke-width="0.7"/>
<line x1="68.18" y1="268.30" x2="68.18" y2="269.50" stroke="#666" stroke-width="0.7"/>
<line x1="77.05" y1="268.30" x2="77.05" y2="269.50" stroke="#666" stroke-width="0.7"/>
<line x1="83.93" y1="268.30" x2="83.93" y2="269.50" stroke="#666" stroke-width="0.7"/>
<line x1="89.55" y1="268.30" x2="89.55" y2="269.50" stroke="#666" stroke-width="0.7"/>
<line x1="94.30" y1="268.30" x2="94.30" y2="269.50" stroke="#666" stroke-width="0.7"/>
<line x1="98.42" y1="268.30" x2="98.42" y2="269.50" stroke="#666" stroke-width="0.7"/>
<line x1="102.05" y1="268.30" x2="102.05" y2="269.50" stroke="#666" stroke-width="0.7"/>
<text x="34.3" y="278.9" font-size="7.5" fill="#1a1a1a" text-anchor="middle" stroke="#1a1a1a" stroke-width="0.35">1</text>
<line x1="105.30" y1="268.30" x2="105.30" y2="270.50" stroke="#666" stroke-width="0.7"/>
<line x1="126.67" y1="268.30" x2="126.67" y2="269.50" stroke="#666" stroke-width="0.7"/>
<line x1="139.18" y1="268.30" x2="139.18" y2="269.50" stroke="#666" stroke-width="0.7"/>
<line x1="148.05" y1="268.30" x2="148.05" y2="269.50" stroke="#666" stroke-width="0.7"/>
<line x1="154.93" y1="268.30" x2="154.93" y2="269.50" stroke="#666" stroke-width="0.7"/>
<line x1="160.55" y1="268.30" x2="160.55" y2="269.50" stroke="#666" stroke-width="0.7"/>
<line x1="165.30" y1="268.30" x2="165.30" y2="269.50" stroke="#666" stroke-width="0.7"/>
<line x1="169.42" y1="268.30" x2="169.42" y2="269.50" stroke="#666" stroke-width="0.7"/>
<line x1="173.05" y1="268.30" x2="173.05" y2="269.50" stroke="#666" stroke-width="0.7"/>
<text x="105.3" y="278.9" font-size="7.5" fill="#1a1a1a" text-anchor="middle" stroke="#1a1a1a" stroke-width="0.35">10</text>
<line x1="176.30" y1="268.30" x2="176.30" y2="270.50" stroke="#666" stroke-width="0.7"/>
<line x1="197.67" y1="268.30" x2="197.67" y2="269.50" stroke="#666" stroke-width="0.7"/>
<text x="176.3" y="278.9" font-size="7.5" fill="#1a1a1a" text-anchor="middle" stroke="#1a1a1a" stroke-width="0.35">100</text>
<line x1="103.90" y1="153.70" x2="149.00" y2="153.70" stroke="#000" stroke-width="2.3"/>
<text x="160.6" y="174.6" font-size="10.5" fill="#1414f0" textLength="33.8" lengthAdjust="spacingAndGlyphs" stroke="#1414f0" stroke-width="0.33">vehicle</text>
<text x="175" y="187.9" font-size="10.5" fill="#d81e3a" textLength="19.7" lengthAdjust="spacingAndGlyphs" stroke="#d81e3a" stroke-width="0.33">DCZ</text>
<text transform="translate(12.3,210.9) rotate(-90)" x="0" y="0" font-size="8.0" fill="#1a1a1a" text-anchor="middle" textLength="38.2" lengthAdjust="spacingAndGlyphs" stroke="#1a1a1a" stroke-width="0.35">Power [dB]</text>
<text x="85.7" y="286.1" font-size="7.8" fill="#1a1a1a" textLength="51.4" lengthAdjust="spacingAndGlyphs" stroke="#1a1a1a" stroke-width="0.35">Frequency [Hz]</text>
<text x="224.1" y="146" font-size="17.0" fill="#1a1a1a" stroke="#1a1a1a" stroke-width="0.40">D</text>
<path d="M249.50,184.70 C252.23,184.43 259.93,182.48 265.86,183.06 C271.79,183.65 279.84,186.84 285.08,188.21 C290.31,189.57 294.07,190.66 297.28,191.25 C300.49,191.83 301.70,190.70 304.33,191.71 C306.97,192.73 310.18,195.34 313.08,197.32 C315.97,199.31 318.49,201.73 321.71,203.64 C324.93,205.55 329.12,206.75 332.38,208.78 C335.64,210.81 336.84,213.46 341.25,215.79 C345.66,218.13 353.03,219.89 358.86,222.81 C364.70,225.73 370.73,229.08 376.26,233.33 C381.78,237.58 387.06,244.79 392.02,248.29 C396.98,251.80 401.33,252.93 405.99,254.37 C410.66,255.81 417.66,256.52 420.00,256.94" fill="none" stroke="#d81e3a" stroke-opacity="0.2" stroke-width="2.34" stroke-linejoin="round" stroke-linecap="round"/>
<path d="M249.50,184.70 C252.23,184.43 259.93,182.48 265.86,183.06 C271.79,183.65 279.84,186.84 285.08,188.21 C290.31,189.57 294.07,190.66 297.28,191.25 C300.49,191.83 301.70,190.70 304.33,191.71 C306.97,192.73 310.18,195.34 313.08,197.32 C315.97,199.31 318.49,201.73 321.71,203.64 C324.93,205.55 329.12,206.75 332.38,208.78 C335.64,210.81 336.84,213.46 341.25,215.79 C345.66,218.13 353.03,219.89 358.86,222.81 C364.70,225.73 370.73,229.08 376.26,233.33 C381.78,237.58 387.06,244.79 392.02,248.29 C396.98,251.80 401.33,252.93 405.99,254.37 C410.66,255.81 417.66,256.52 420.00,256.94" fill="none" stroke="#d81e3a" stroke-width="1.35" stroke-linejoin="round" stroke-linecap="round"/>
<path d="M249.50,179.56 C251.62,179.09 256.28,176.24 262.21,176.75 C268.14,177.26 279.23,181.11 285.08,182.60 C290.92,184.08 294.07,185.01 297.28,185.63 C300.49,186.26 301.39,185.60 304.33,186.34 C307.28,187.08 311.99,189.18 314.94,190.08 C317.88,190.97 319.39,191.17 322.00,191.71 C324.62,192.26 328.03,191.25 330.65,193.35 C333.28,195.45 334.54,200.75 337.76,204.34 C340.97,207.92 346.16,211.63 349.96,214.86 C353.77,218.09 356.21,220.55 360.59,223.74 C364.97,226.94 371.02,229.94 376.26,234.03 C381.50,238.12 387.06,244.86 392.02,248.29 C396.98,251.72 401.33,253.24 405.99,254.61 C410.66,255.97 417.66,256.16 420.00,256.48" fill="none" stroke="#1414f0" stroke-opacity="0.2" stroke-width="2.34" stroke-linejoin="round" stroke-linecap="round"/>
<path d="M249.50,179.56 C251.62,179.09 256.28,176.24 262.21,176.75 C268.14,177.26 279.23,181.11 285.08,182.60 C290.92,184.08 294.07,185.01 297.28,185.63 C300.49,186.26 301.39,185.60 304.33,186.34 C307.28,187.08 311.99,189.18 314.94,190.08 C317.88,190.97 319.39,191.17 322.00,191.71 C324.62,192.26 328.03,191.25 330.65,193.35 C333.28,195.45 334.54,200.75 337.76,204.34 C340.97,207.92 346.16,211.63 349.96,214.86 C353.77,218.09 356.21,220.55 360.59,223.74 C364.97,226.94 371.02,229.94 376.26,234.03 C381.50,238.12 387.06,244.86 392.02,248.29 C396.98,251.72 401.33,253.24 405.99,254.61 C410.66,255.97 417.66,256.16 420.00,256.48" fill="none" stroke="#1414f0" stroke-width="1.35" stroke-linejoin="round" stroke-linecap="round"/>
<rect x="249.50" y="151.50" width="171.00" height="116.90" fill="none" stroke="#666" stroke-width="0.9"/>
<line x1="247.50" y1="151.50" x2="249.50" y2="151.50" stroke="#666" stroke-width="0.8"/>
<text x="246.5" y="154.1" font-size="7.3" fill="#1a1a1a" text-anchor="end" stroke="#1a1a1a" stroke-width="0.35">-20</text>
<line x1="247.50" y1="174.88" x2="249.50" y2="174.88" stroke="#666" stroke-width="0.8"/>
<text x="246.5" y="177.48" font-size="7.3" fill="#1a1a1a" text-anchor="end" stroke="#1a1a1a" stroke-width="0.35">-30</text>
<line x1="247.50" y1="198.26" x2="249.50" y2="198.26" stroke="#666" stroke-width="0.8"/>
<text x="246.5" y="200.86" font-size="7.3" fill="#1a1a1a" text-anchor="end" stroke="#1a1a1a" stroke-width="0.35">-40</text>
<line x1="247.50" y1="221.64" x2="249.50" y2="221.64" stroke="#666" stroke-width="0.8"/>
<text x="246.5" y="224.24" font-size="7.3" fill="#1a1a1a" text-anchor="end" stroke="#1a1a1a" stroke-width="0.35">-50</text>
<line x1="247.50" y1="245.02" x2="249.50" y2="245.02" stroke="#666" stroke-width="0.8"/>
<text x="246.5" y="247.62" font-size="7.3" fill="#1a1a1a" text-anchor="end" stroke="#1a1a1a" stroke-width="0.35">-60</text>
<line x1="247.50" y1="268.40" x2="249.50" y2="268.40" stroke="#666" stroke-width="0.8"/>
<text x="246.5" y="271" font-size="7.3" fill="#1a1a1a" text-anchor="end" stroke="#1a1a1a" stroke-width="0.35">-70</text>
<line x1="249.50" y1="268.40" x2="249.50" y2="270.60" stroke="#666" stroke-width="0.7"/>
<line x1="270.87" y1="268.40" x2="270.87" y2="269.60" stroke="#666" stroke-width="0.7"/>
<line x1="283.38" y1="268.40" x2="283.38" y2="269.60" stroke="#666" stroke-width="0.7"/>
<line x1="292.25" y1="268.40" x2="292.25" y2="269.60" stroke="#666" stroke-width="0.7"/>
<line x1="299.13" y1="268.40" x2="299.13" y2="269.60" stroke="#666" stroke-width="0.7"/>
<line x1="304.75" y1="268.40" x2="304.75" y2="269.60" stroke="#666" stroke-width="0.7"/>
<line x1="309.50" y1="268.40" x2="309.50" y2="269.60" stroke="#666" stroke-width="0.7"/>
<line x1="313.62" y1="268.40" x2="313.62" y2="269.60" stroke="#666" stroke-width="0.7"/>
<line x1="317.25" y1="268.40" x2="317.25" y2="269.60" stroke="#666" stroke-width="0.7"/>
<text x="249.5" y="279" font-size="7.5" fill="#1a1a1a" text-anchor="middle" stroke="#1a1a1a" stroke-width="0.35">1</text>
<line x1="320.50" y1="268.40" x2="320.50" y2="270.60" stroke="#666" stroke-width="0.7"/>
<line x1="341.87" y1="268.40" x2="341.87" y2="269.60" stroke="#666" stroke-width="0.7"/>
<line x1="354.38" y1="268.40" x2="354.38" y2="269.60" stroke="#666" stroke-width="0.7"/>
<line x1="363.25" y1="268.40" x2="363.25" y2="269.60" stroke="#666" stroke-width="0.7"/>
<line x1="370.13" y1="268.40" x2="370.13" y2="269.60" stroke="#666" stroke-width="0.7"/>
<line x1="375.75" y1="268.40" x2="375.75" y2="269.60" stroke="#666" stroke-width="0.7"/>
<line x1="380.50" y1="268.40" x2="380.50" y2="269.60" stroke="#666" stroke-width="0.7"/>
<line x1="384.62" y1="268.40" x2="384.62" y2="269.60" stroke="#666" stroke-width="0.7"/>
<line x1="388.25" y1="268.40" x2="388.25" y2="269.60" stroke="#666" stroke-width="0.7"/>
<text x="320.5" y="279" font-size="7.5" fill="#1a1a1a" text-anchor="middle" stroke="#1a1a1a" stroke-width="0.35">10</text>
<line x1="391.50" y1="268.40" x2="391.50" y2="270.60" stroke="#666" stroke-width="0.7"/>
<line x1="412.87" y1="268.40" x2="412.87" y2="269.60" stroke="#666" stroke-width="0.7"/>
<text x="391.5" y="279" font-size="7.5" fill="#1a1a1a" text-anchor="middle" stroke="#1a1a1a" stroke-width="0.35">100</text>
<line x1="249.50" y1="153.60" x2="358.80" y2="153.60" stroke="#000" stroke-width="2.3"/>
<text transform="translate(228.6,209.3) rotate(-90)" x="0" y="0" font-size="8.0" fill="#1a1a1a" text-anchor="middle" textLength="38.2" lengthAdjust="spacingAndGlyphs" stroke="#1a1a1a" stroke-width="0.35">Power [dB]</text>
<text x="304.5" y="286" font-size="7.8" fill="#1a1a1a" textLength="51.4" lengthAdjust="spacingAndGlyphs" stroke="#1a1a1a" stroke-width="0.35">Frequency [Hz]</text>
<text x="431.9" y="146.3" font-size="17.0" fill="#1a1a1a" stroke="#1a1a1a" stroke-width="0.40">E</text>
<rect x="561.80" y="151.60" width="116.80" height="108.50" fill="#d9d9d9"/>
<path d="M459.60,258.58 L469.82,256.85 L480.04,256.85 L490.26,255.33 L500.48,253.37 L510.70,248.17 L520.92,247.73 L531.14,242.31 L541.36,235.15 L551.58,228.20 L561.80,225.38 L572.02,218.87 L582.24,216.48 L592.46,208.45 L602.68,210.19 L612.90,201.51 L623.12,206.72 L633.34,199.34 L643.56,197.60 L653.78,200.86 L664.00,209.97 L674.22,225.60 L678.60,233.84 L678.60,242.52 L674.22,234.28 L664.00,222.99 L653.78,213.88 L643.56,206.28 L633.34,208.02 L623.12,215.40 L612.90,214.53 L602.68,223.21 L592.46,221.47 L582.24,229.50 L572.02,231.89 L561.80,238.40 L551.58,241.22 L541.36,246.00 L531.14,250.99 L520.92,254.24 L510.70,254.68 L500.48,258.58 L490.26,259.67 L480.04,260.10 L469.82,260.10 L459.60,260.10 Z" fill="rgba(200,70,80,0.2)" stroke="none"/>
<path d="M459.60,246.21 L469.82,225.16 L480.04,218.87 L490.26,217.13 L500.48,218.65 L510.70,221.26 L520.92,215.62 L531.14,210.19 L541.36,205.20 L551.58,196.30 L561.80,159.85 L572.02,185.67 L582.24,197.60 L592.46,198.91 L602.68,188.49 L612.90,194.35 L623.12,203.25 L633.34,197.82 L643.56,193.48 L653.78,200.64 L664.00,204.55 L674.22,223.64 L678.60,227.33 L678.60,236.01 L674.22,232.32 L664.00,217.57 L653.78,211.49 L643.56,202.16 L633.34,204.33 L623.12,209.76 L612.90,203.03 L602.68,197.17 L592.46,207.59 L582.24,208.45 L572.02,200.86 L561.80,190.23 L551.58,204.98 L541.36,213.88 L531.14,218.87 L520.92,224.30 L510.70,229.94 L500.48,227.33 L490.26,225.81 L480.04,227.55 L469.82,233.84 L459.60,254.89 Z" fill="rgba(70,70,235,0.2)" stroke="none"/>
<path d="M459.60,259.67 L469.82,258.58 L480.04,258.58 L490.26,257.50 L500.48,255.98 L510.70,251.42 L520.92,250.99 L531.14,246.65 L541.36,240.57 L551.58,234.71 L561.80,231.89 L572.02,225.38 L582.24,222.99 L592.46,214.96 L602.68,216.70 L612.90,208.02 L623.12,211.06 L633.34,203.68 L643.56,201.94 L653.78,207.37 L664.00,216.48 L674.22,229.94 L678.60,238.18" fill="none" stroke="#d81e3a" stroke-width="1.4" stroke-linejoin="round"/>
<path d="M459.60,250.55 L469.82,229.50 L480.04,223.21 L490.26,221.47 L500.48,222.99 L510.70,225.60 L520.92,219.96 L531.14,214.53 L541.36,209.54 L551.58,200.64 L561.80,175.04 L572.02,193.26 L582.24,203.03 L592.46,203.25 L602.68,192.83 L612.90,198.69 L623.12,206.50 L633.34,201.08 L643.56,197.82 L653.78,206.07 L664.00,211.06 L674.22,227.98 L678.60,231.67" fill="none" stroke="#1414f0" stroke-width="1.4" stroke-linejoin="round"/>
<rect x="454.40" y="151.60" width="224.20" height="108.50" fill="none" stroke="#666" stroke-width="0.9"/>
<line x1="452.40" y1="260.10" x2="454.40" y2="260.10" stroke="#666" stroke-width="0.8"/>
<text x="450.5" y="262.7" font-size="7.5" fill="#1a1a1a" text-anchor="end" stroke="#1a1a1a" stroke-width="0.35">0</text>
<line x1="452.40" y1="238.40" x2="454.40" y2="238.40" stroke="#666" stroke-width="0.8"/>
<text x="450.5" y="241" font-size="7.5" fill="#1a1a1a" text-anchor="end" stroke="#1a1a1a" stroke-width="0.35">1</text>
<line x1="452.40" y1="216.70" x2="454.40" y2="216.70" stroke="#666" stroke-width="0.8"/>
<text x="450.5" y="219.3" font-size="7.5" fill="#1a1a1a" text-anchor="end" stroke="#1a1a1a" stroke-width="0.35">2</text>
<line x1="452.40" y1="195.00" x2="454.40" y2="195.00" stroke="#666" stroke-width="0.8"/>
<text x="450.5" y="197.6" font-size="7.5" fill="#1a1a1a" text-anchor="end" stroke="#1a1a1a" stroke-width="0.35">3</text>
<line x1="452.40" y1="173.30" x2="454.40" y2="173.30" stroke="#666" stroke-width="0.8"/>
<text x="450.5" y="175.9" font-size="7.5" fill="#1a1a1a" text-anchor="end" stroke="#1a1a1a" stroke-width="0.35">4</text>
<line x1="452.40" y1="151.60" x2="454.40" y2="151.60" stroke="#666" stroke-width="0.8"/>
<text x="450.5" y="154.2" font-size="7.5" fill="#1a1a1a" text-anchor="end" stroke="#1a1a1a" stroke-width="0.35">5</text>
<line x1="459.60" y1="260.10" x2="459.60" y2="261.90" stroke="#666" stroke-width="0.7"/>
<line x1="469.82" y1="260.10" x2="469.82" y2="261.90" stroke="#666" stroke-width="0.7"/>
<line x1="480.04" y1="260.10" x2="480.04" y2="261.90" stroke="#666" stroke-width="0.7"/>
<line x1="490.26" y1="260.10" x2="490.26" y2="261.90" stroke="#666" stroke-width="0.7"/>
<line x1="500.48" y1="260.10" x2="500.48" y2="261.90" stroke="#666" stroke-width="0.7"/>
<line x1="510.70" y1="260.10" x2="510.70" y2="261.90" stroke="#666" stroke-width="0.7"/>
<line x1="520.92" y1="260.10" x2="520.92" y2="261.90" stroke="#666" stroke-width="0.7"/>
<line x1="531.14" y1="260.10" x2="531.14" y2="261.90" stroke="#666" stroke-width="0.7"/>
<line x1="541.36" y1="260.10" x2="541.36" y2="261.90" stroke="#666" stroke-width="0.7"/>
<line x1="551.58" y1="260.10" x2="551.58" y2="261.90" stroke="#666" stroke-width="0.7"/>
<line x1="561.80" y1="260.10" x2="561.80" y2="261.90" stroke="#666" stroke-width="0.7"/>
<line x1="572.02" y1="260.10" x2="572.02" y2="261.90" stroke="#666" stroke-width="0.7"/>
<line x1="582.24" y1="260.10" x2="582.24" y2="261.90" stroke="#666" stroke-width="0.7"/>
<line x1="592.46" y1="260.10" x2="592.46" y2="261.90" stroke="#666" stroke-width="0.7"/>
<line x1="602.68" y1="260.10" x2="602.68" y2="261.90" stroke="#666" stroke-width="0.7"/>
<line x1="612.90" y1="260.10" x2="612.90" y2="261.90" stroke="#666" stroke-width="0.7"/>
<line x1="623.12" y1="260.10" x2="623.12" y2="261.90" stroke="#666" stroke-width="0.7"/>
<line x1="633.34" y1="260.10" x2="633.34" y2="261.90" stroke="#666" stroke-width="0.7"/>
<line x1="643.56" y1="260.10" x2="643.56" y2="261.90" stroke="#666" stroke-width="0.7"/>
<line x1="653.78" y1="260.10" x2="653.78" y2="261.90" stroke="#666" stroke-width="0.7"/>
<line x1="664.00" y1="260.10" x2="664.00" y2="261.90" stroke="#666" stroke-width="0.7"/>
<line x1="674.22" y1="260.10" x2="674.22" y2="261.90" stroke="#666" stroke-width="0.7"/>
<text transform="translate(475.6,268.1) rotate(-45)" x="0" y="0" font-size="7.4" fill="#1a1a1a" text-anchor="end" stroke="#1a1a1a" stroke-width="0.35">12 am</text>
<text transform="translate(506.26,268.1) rotate(-45)" x="0" y="0" font-size="7.4" fill="#1a1a1a" text-anchor="end" stroke="#1a1a1a" stroke-width="0.35">3 pm</text>
<text transform="translate(536.92,268.1) rotate(-45)" x="0" y="0" font-size="7.4" fill="#1a1a1a" text-anchor="end" stroke="#1a1a1a" stroke-width="0.35">6 pm</text>
<text transform="translate(567.58,268.1) rotate(-45)" x="0" y="0" font-size="7.4" fill="#1a1a1a" text-anchor="end" stroke="#1a1a1a" stroke-width="0.35">9 pm</text>
<text transform="translate(598.24,268.1) rotate(-45)" x="0" y="0" font-size="7.4" fill="#1a1a1a" text-anchor="end" stroke="#1a1a1a" stroke-width="0.35">12 pm</text>
<text transform="translate(628.9,268.1) rotate(-45)" x="0" y="0" font-size="7.4" fill="#1a1a1a" text-anchor="end" stroke="#1a1a1a" stroke-width="0.35">3 am</text>
<text transform="translate(659.56,268.1) rotate(-45)" x="0" y="0" font-size="7.4" fill="#1a1a1a" text-anchor="end" stroke="#1a1a1a" stroke-width="0.35">6 am</text>
<line x1="468.90" y1="157.00" x2="572.40" y2="157.00" stroke="#000" stroke-width="2.3"/>
<text transform="translate(442.5,213.3) rotate(-90)" x="0" y="0" font-size="7.9" fill="#1a1a1a" text-anchor="middle" textLength="79.8" lengthAdjust="spacingAndGlyphs" stroke="#1a1a1a" stroke-width="0.35">Spindle density [1/min]</text>
<text x="535.9" y="291.5" font-size="7.8" fill="#1a1a1a" textLength="54.3" lengthAdjust="spacingAndGlyphs" stroke="#1a1a1a" stroke-width="0.35">Time of the day</text>
<text x="12.3" y="337.3" font-size="17.0" fill="#1a1a1a" stroke="#1a1a1a" stroke-width="0.40">F</text>
<text x="98" y="335.5" font-size="16" fill="#1a1a1a" textLength="37.2" lengthAdjust="spacingAndGlyphs" stroke="#1a1a1a" stroke-width="0.39">wake</text>
<g transform="translate(39.30,357.10)"><path d="M-9.8,53 C-6.5,57 -4.8,61 -4.6,69 Q0,69.8 4.3,69 C4.5,61 6.5,57 10,53 Z" fill="#e0b9b7" stroke="#d28d8b" stroke-width="0.7"/><path d="M-0.3,57 L-0.3,67" stroke="#ecd3d1" stroke-width="0.8"/><path d="M-17.5,42 C-19.5,47 -17,53.5 -9,55.5 C-4,56.5 4,56.5 9,55.5 C16.5,53.5 19.5,47 17.3,41 C15,36 -15,36 -17.5,42 Z" fill="#e0b9b7" stroke="#d28d8b" stroke-width="0.7"/><path d="M-13,42 C-10,48 -6,52 0,53 C6,52 10,48 13,42" fill="none" stroke="#d28d8b" stroke-width="0.5" opacity="0.7"/><path d="M-6,39 C-7,44 -3,46 0,45 C3,46 7,44 6,39" fill="none" stroke="#d28d8b" stroke-width="0.45" opacity="0.6"/><ellipse cx="-3.4" cy="5.2" rx="3.3" ry="5.2" fill="#e0b9b7" stroke="#d28d8b" stroke-width="0.6"/><ellipse cx="3.6" cy="5.2" rx="3.6" ry="5.2" fill="#e0b9b7" stroke="#d28d8b" stroke-width="0.6"/><path d="M-0.6,6.5 C-6,5 -12,9 -16.5,16.5 C-21,24 -22.6,31 -20.5,36 C-18.5,40.5 -11,41.5 -5,40 C-2,39 -0.6,37.5 -0.6,35 Z" fill="#e0b9b7" stroke="#d28d8b" stroke-width="0.8"/><path d="M0.4,6.5 C6,5 12,9 16.5,16.5 C21,24 22.6,31 20.5,36 C18.5,40.5 11,41.5 5,40 C2,39 0.4,37.5 0.4,35 Z" fill="#e0b9b7" stroke="#d28d8b" stroke-width="0.8"/><path d="M-2.5,14 L-2.5,24" stroke="#ecd0ce" stroke-width="0.6"/><path d="M2.5,10 L2.5,20" stroke="#ecd0ce" stroke-width="0.6"/></g>
<ellipse cx="29.60" cy="381.30" rx="2.1" ry="2.1" fill="#fff" stroke="#3535b5" stroke-width="1.2"/>
<text x="7.7" y="373.6" font-size="7.6" fill="#1a1a1a" textLength="26.5" lengthAdjust="spacingAndGlyphs" stroke="#1a1a1a" stroke-width="0.28">parietal</text>
<text x="7.7" y="383.8" font-size="7.6" fill="#1a1a1a" textLength="13.8" lengthAdjust="spacingAndGlyphs" stroke="#1a1a1a" stroke-width="0.28">EEG</text>
<text x="71.8" y="360" font-size="10.5" fill="#1a1a1a" textLength="35" lengthAdjust="spacingAndGlyphs" stroke="#1a1a1a" stroke-width="0.33">Vehicle</text>
<text x="71.8" y="403.2" font-size="10.5" fill="#1a1a1a" textLength="19.5" lengthAdjust="spacingAndGlyphs" stroke="#1a1a1a" stroke-width="0.33">DCZ</text>
<path d="M75.30,374.60 L76.00,374.38 L76.70,373.46 L77.40,376.70 L78.10,373.09 L78.80,371.74 L79.50,371.98 L80.20,372.08 L80.90,371.39 L81.60,372.02 L82.30,373.79 L83.00,375.01 L83.70,375.86 L84.40,376.14 L85.10,376.38 L85.80,375.28 L86.50,373.62 L87.20,373.54 L87.90,373.38 L88.60,375.97 L89.30,373.53 L90.00,374.63 L90.70,371.81 L91.40,374.35 L92.10,373.25 L92.80,375.37 L93.50,374.61 L94.20,375.97 L94.90,375.05 L95.60,373.69 L96.30,375.14 L97.00,374.57 L97.70,373.86 L98.40,374.20 L99.10,374.27 L99.80,375.23 L100.50,373.39 L101.20,373.27 L101.90,373.15 L102.60,375.28 L103.30,376.48 L104.00,377.48 L104.70,376.53 L105.40,376.05 L106.10,375.30 L106.80,375.58 L107.50,377.09 L108.20,374.26 L108.90,373.31 L109.60,374.60 L110.30,373.40 L111.00,371.11 L111.70,373.26 L112.40,372.97 L113.10,373.62 L113.80,374.94 L114.50,375.11 L115.20,378.32 L115.90,375.64 L116.60,375.45 L117.30,374.49 L118.00,373.84 L118.70,373.35 L119.40,374.57 L120.10,374.06 L120.80,373.77 L121.50,373.43 L122.20,374.56 L122.90,373.97 L123.60,374.37 L124.30,375.08 L125.00,374.37 L125.70,375.40 L126.40,374.74 L127.10,373.04 L127.80,372.79 L128.50,373.39 L129.20,372.02 L129.90,371.64 L130.60,374.63 L131.30,372.54 L132.00,373.42 L132.70,373.51 L133.40,373.34 L134.10,374.06 L134.80,371.70 L135.50,374.33 L136.20,373.34 L136.90,373.54 L137.60,372.94 L138.30,370.71 L139.00,372.94 L139.70,372.28 L140.40,372.97 L141.10,373.48 L141.80,372.43 L142.50,374.60 L143.20,374.97 L143.90,374.55 L144.60,374.22 L145.30,375.01 L146.00,375.16 L146.70,374.34 L147.40,373.35 L148.10,372.47 L148.80,371.95 L149.50,372.63 L150.20,372.68 L150.90,373.32 L151.60,374.21 L152.30,372.13 L153.00,373.76 L153.70,376.87 L154.40,375.46 L155.10,373.34 L155.80,373.62 L156.50,373.73 L157.20,375.52 L157.90,373.78 L158.60,373.20 L159.30,374.72 L160.00,374.44 L160.70,373.55 L161.40,371.12 L162.10,372.08 L162.80,371.98 L163.50,373.06 L164.20,373.26 L164.90,373.85 L165.60,372.93 L166.30,371.65 L167.00,372.19 L167.70,370.59 L168.40,371.65 L169.10,372.23 L169.80,374.51 L170.50,375.48 L171.20,377.45 L171.90,378.41 L172.60,375.30 L173.30,374.06 L174.00,372.81 L174.70,373.36 L175.40,373.54 L176.10,372.56 L176.80,372.10 L177.50,372.64 L178.20,373.42 L178.90,371.36 L179.60,371.02 L180.30,371.25 L181.00,372.51 L181.70,372.34 L182.40,373.28 L183.10,375.17 L183.80,373.59 L184.50,375.39 L185.20,378.29 L185.90,381.54 L186.60,377.72 L187.30,377.30 L188.00,374.42 L188.70,372.26 L189.40,371.47 L190.10,371.86 L190.80,369.56 L191.50,369.51 L192.20,369.47 L192.90,372.79 L193.60,373.06 L194.30,374.14 L195.00,375.01 L195.70,376.48 L196.40,375.50 L197.10,374.77 L197.80,373.81 L198.50,374.83 L199.20,377.27 L199.90,376.16 L200.60,374.43 L201.30,373.25 L202.00,373.01 L202.70,371.06 L203.40,374.36 L204.10,372.33 L204.80,375.12 L205.50,376.07 L206.20,377.03 L206.90,376.36 L207.60,379.92 L208.30,377.02" fill="none" stroke="#111111" stroke-width="1.00" stroke-linejoin="round"/>
<path d="M75.30,413.09 L76.00,413.15 L76.70,414.75 L77.40,412.84 L78.10,413.56 L78.80,412.15 L79.50,414.41 L80.20,415.48 L80.90,414.41 L81.60,414.90 L82.30,414.97 L83.00,416.06 L83.70,414.60 L84.40,415.33 L85.10,416.46 L85.80,414.20 L86.50,413.19 L87.20,413.50 L87.90,412.42 L88.60,412.03 L89.30,414.51 L90.00,414.48 L90.70,413.27 L91.40,417.48 L92.10,417.03 L92.80,414.88 L93.50,411.82 L94.20,413.36 L94.90,415.02 L95.60,414.68 L96.30,412.99 L97.00,414.46 L97.70,416.64 L98.40,414.06 L99.10,410.58 L99.80,413.21 L100.50,414.25 L101.20,411.80 L101.90,414.35 L102.60,415.27 L103.30,414.10 L104.00,414.20 L104.70,416.28 L105.40,412.79 L106.10,412.52 L106.80,413.77 L107.50,411.07 L108.20,410.94 L108.90,412.38 L109.60,409.55 L110.30,413.99 L111.00,413.00 L111.70,416.28 L112.40,415.96 L113.10,419.00 L113.80,416.99 L114.50,415.14 L115.20,414.62 L115.90,416.16 L116.60,415.82 L117.30,415.67 L118.00,413.76 L118.70,412.85 L119.40,413.45 L120.10,412.80 L120.80,413.42 L121.50,413.36 L122.20,414.22 L122.90,414.75 L123.60,413.57 L124.30,412.99 L125.00,413.75 L125.70,414.26 L126.40,415.08 L127.10,418.56 L127.80,416.87 L128.50,418.44 L129.20,417.64 L129.90,418.77 L130.60,417.73 L131.30,416.19 L132.00,415.13 L132.70,417.46 L133.40,415.59 L134.10,413.50 L134.80,413.16 L135.50,411.34 L136.20,411.86 L136.90,413.98 L137.60,414.19 L138.30,415.04 L139.00,412.94 L139.70,414.88 L140.40,414.42 L141.10,416.41 L141.80,414.22 L142.50,414.75 L143.20,414.66 L143.90,416.50 L144.60,413.41 L145.30,416.63 L146.00,414.71 L146.70,416.08 L147.40,414.07 L148.10,415.26 L148.80,415.16 L149.50,414.63 L150.20,414.09 L150.90,412.29 L151.60,410.76 L152.30,415.21 L153.00,415.38 L153.70,414.32 L154.40,414.67 L155.10,414.80 L155.80,417.06 L156.50,415.23 L157.20,415.01 L157.90,414.18 L158.60,413.96 L159.30,415.73 L160.00,414.26 L160.70,413.69 L161.40,413.95 L162.10,414.19 L162.80,412.38 L163.50,410.29 L164.20,412.09 L164.90,412.46 L165.60,413.84 L166.30,415.62 L167.00,415.19 L167.70,415.47 L168.40,413.89 L169.10,414.12 L169.80,411.30 L170.50,413.28 L171.20,415.29 L171.90,415.79 L172.60,416.02 L173.30,414.63 L174.00,414.39 L174.70,417.16 L175.40,414.89 L176.10,416.95 L176.80,414.86 L177.50,413.05 L178.20,410.90 L178.90,410.57 L179.60,410.24 L180.30,411.41 L181.00,414.31 L181.70,413.56 L182.40,411.87 L183.10,410.66 L183.80,411.21 L184.50,410.34 L185.20,409.91 L185.90,411.04 L186.60,412.51 L187.30,413.47 L188.00,413.97 L188.70,413.94 L189.40,415.92 L190.10,417.86 L190.80,417.58 L191.50,416.20 L192.20,413.84 L192.90,413.53 L193.60,414.10 L194.30,412.38 L195.00,411.45 L195.70,411.76 L196.40,413.38 L197.10,413.78 L197.80,417.32 L198.50,417.67 L199.20,417.79 L199.90,414.29 L200.60,414.14 L201.30,413.54 L202.00,412.97 L202.70,413.69 L203.40,414.98 L204.10,415.54 L204.80,413.24 L205.50,414.05 L206.20,413.52 L206.90,412.75 L207.60,413.72 L208.30,413.68" fill="none" stroke="#111111" stroke-width="1.00" stroke-linejoin="round"/>
<text x="224" y="343.9" font-size="17.0" fill="#1a1a1a" stroke="#1a1a1a" stroke-width="0.40">G</text>
<line x1="243.8" y1="341" x2="674.5" y2="341" stroke="#a3a3a3" stroke-width="2.6"/>
<text x="407.5" y="335.8" font-size="14.5" fill="#1a1a1a" textLength="86.6" lengthAdjust="spacingAndGlyphs" stroke="#1a1a1a" stroke-width="0.37">NREM sleep</text>
<rect x="323.40" y="345.60" width="51.80" height="56.70" fill="#e6f2f2"/>
<rect x="519.30" y="345.60" width="94.90" height="56.70" fill="#e6f2f2"/>
<path d="M246.30,377.47 L247.00,376.25 L247.70,375.81 L248.40,374.28 L249.10,372.94 L249.80,374.10 L250.50,373.37 L251.20,372.52 L251.90,373.61 L252.60,373.14 L253.30,373.42 L254.00,372.29 L254.70,373.93 L255.40,372.89 L256.10,372.47 L256.80,373.59 L257.50,373.31 L258.20,374.47 L258.90,374.71 L259.60,373.95 L260.30,373.03 L261.00,373.90 L261.70,376.24 L262.40,376.66 L263.10,374.29 L263.80,370.94 L264.50,369.59 L265.20,370.99 L265.90,372.52 L266.60,375.42 L267.30,372.76 L268.00,370.16 L268.70,368.94 L269.40,372.88 L270.10,376.76 L270.80,376.06 L271.50,374.86 L272.20,371.80 L272.90,371.63 L273.60,372.88 L274.30,375.00 L275.00,378.32 L275.70,376.32 L276.40,375.95 L277.10,372.58 L277.80,372.02 L278.50,373.83 L279.20,377.16 L279.90,375.77 L280.60,373.00 L281.30,372.66 L282.00,374.33 L282.70,375.72 L283.40,378.36 L284.10,375.47 L284.80,372.24 L285.50,370.42 L286.20,373.23 L286.90,375.27 L287.60,377.06 L288.30,374.61 L289.00,372.44 L289.70,371.11 L290.40,371.61 L291.10,372.51 L291.80,372.42 L292.50,373.85 L293.20,372.53 L293.90,371.95 L294.60,372.58 L295.30,374.59 L296.00,376.24 L296.70,376.74 L297.40,375.42 L298.10,374.98 L298.80,374.84 L299.50,375.30 L300.20,371.42 L300.90,368.68 L301.60,368.43 L302.30,373.03 L303.00,375.02 L303.70,376.85 L304.40,377.46 L305.10,378.61 L305.80,379.40 L306.50,377.35 L307.20,379.40 L307.90,376.35 L308.60,379.64 L309.30,375.64 L310.00,374.87 L310.70,375.43 L311.40,378.65 L312.10,381.76 L312.80,380.95 L313.50,376.55 L314.20,377.15 L314.90,376.78 L315.60,375.02 L316.30,377.15 L317.00,380.63 L317.70,379.90 L318.40,377.25 L319.10,376.14 L319.80,374.65 L320.50,375.39 L321.20,375.09 L321.90,375.47 L322.60,374.94 L323.30,375.48 L324.00,373.87 L324.70,370.12 L325.40,367.89 L326.10,367.34 L326.80,366.84 L327.50,368.46 L328.20,370.26 L328.90,371.76 L329.60,368.84 L330.30,366.89 L331.00,367.80 L331.70,369.91 L332.40,372.00 L333.10,373.88 L333.80,377.17 L334.50,377.32 L335.20,373.30 L335.90,370.18 L336.60,369.98 L337.30,368.82 L338.00,373.24 L338.70,374.62 L339.40,374.67 L340.10,371.05 L340.80,367.77 L341.50,366.72 L342.20,368.00 L342.90,370.27 L343.60,371.17 L344.30,373.72 L345.00,373.71 L345.70,372.39 L346.40,371.62 L347.10,374.38 L347.80,378.15 L348.50,384.96 L349.20,382.77 L349.90,375.53 L350.60,368.09 L351.30,366.15 L352.00,366.20 L352.70,368.13 L353.40,370.96 L354.10,370.31 L354.80,369.15 L355.50,370.75 L356.20,374.10 L356.90,379.09 L357.60,386.57 L358.30,385.66 L359.00,376.40 L359.70,371.17 L360.40,367.79 L361.10,367.70 L361.80,368.45 L362.50,370.26 L363.20,371.82 L363.90,371.39 L364.60,370.40 L365.30,371.59 L366.00,376.23 L366.70,378.98 L367.40,376.28 L368.10,375.03 L368.80,373.88 L369.50,372.79 L370.20,371.54 L370.90,368.68 L371.60,364.94 L372.30,364.36 L373.00,365.91 L373.70,368.60 L374.40,373.24 L375.10,374.44 L375.80,374.68 L376.50,375.19 L377.20,376.99 L377.90,379.17 L378.60,379.84 L379.30,377.35 L380.00,374.60 L380.70,373.90 L381.40,374.13 L382.10,374.64 L382.80,374.44 L383.50,374.03 L384.20,373.92 L384.90,374.68 L385.60,371.77 L386.30,371.70 L387.00,369.92 L387.70,372.44 L388.40,374.20 L389.10,371.53 L389.80,371.49 L390.50,374.55 L391.20,375.06 L391.90,376.93 L392.60,375.85 L393.30,377.21 L394.00,375.87 L394.70,377.47 L395.40,376.99 L396.10,377.20 L396.80,379.44 L397.50,376.53 L398.20,373.13 L398.90,373.18 L399.60,375.70 L400.30,374.08 L401.00,373.69 L401.70,376.65 L402.40,374.83 L403.10,374.28 L403.80,377.00 L404.50,376.63 L405.20,374.40 L405.90,376.49 L406.60,375.03 L407.30,375.51 L408.00,376.32 L408.70,375.94 L409.40,375.51 L410.10,374.10 L410.80,373.89 L411.50,375.31 L412.20,374.90 L412.90,376.53 L413.60,374.50 L414.30,378.07 L415.00,375.02 L415.70,377.30 L416.40,372.64 L417.10,370.67 L417.80,372.78 L418.50,374.78 L419.20,377.51 L419.90,375.90 L420.60,373.29 L421.30,370.90 L422.00,373.73 L422.70,371.63 L423.40,369.92 L424.10,373.88 L424.80,374.89 L425.50,375.51 L426.20,377.65 L426.90,372.83 L427.60,375.50 L428.30,373.23 L429.00,374.43 L429.70,371.78 L430.40,374.08 L431.10,375.73 L431.80,375.57 L432.50,376.76 L433.20,378.05 L433.90,374.79 L434.60,375.68 L435.30,376.48 L436.00,375.88 L436.70,375.41 L437.40,376.44 L438.10,376.62 L438.80,378.48 L439.50,381.47 L440.20,376.01 L440.90,376.02 L441.60,376.63 L442.30,373.25 L443.00,374.93 L443.70,373.79 L444.40,377.03 L445.10,374.65 L445.80,371.37 L446.50,372.40 L447.20,372.94 L447.90,371.62 L448.60,371.20 L449.30,371.19 L450.00,372.10 L450.70,374.97 L451.40,374.13 L452.10,371.45 L452.80,373.20 L453.50,372.40 L454.20,375.11 L454.90,377.61 L455.60,378.98 L456.30,378.04 L457.00,376.81 L457.70,378.85 L458.40,378.53 L459.10,377.66 L459.80,377.04 L460.50,379.58 L461.20,377.44 L461.90,379.93 L462.60,379.16 L463.30,377.94 L464.00,373.51 L464.70,372.83 L465.40,373.12 L466.10,371.24 L466.80,373.83 L467.50,375.02 L468.20,374.93 L468.90,373.87 L469.60,371.86 L470.30,374.91 L471.00,375.25 L471.70,375.55 L472.40,375.89 L473.10,374.24 L473.80,373.82 L474.50,376.51 L475.20,376.63 L475.90,373.67 L476.60,371.21 L477.30,371.57 L478.00,371.03 L478.70,372.12 L479.40,372.96 L480.10,374.00 L480.80,374.16 L481.50,373.54 L482.20,372.17 L482.90,373.52 L483.60,370.11 L484.30,370.38 L485.00,374.79 L485.70,371.82 L486.40,369.63 L487.10,372.49 L487.80,368.60 L488.50,371.53 L489.20,372.02 L489.90,371.59 L490.60,370.79 L491.30,373.17 L492.00,374.01 L492.70,373.78 L493.40,374.20 L494.10,375.90 L494.80,374.74 L495.50,375.59 L496.20,377.49 L496.90,376.97 L497.60,378.51 L498.30,379.90 L499.00,378.91 L499.70,376.07 L500.40,375.43 L501.10,377.48 L501.80,373.25 L502.50,374.41 L503.20,376.63 L503.90,379.26 L504.60,376.71 L505.30,380.18 L506.00,376.21 L506.70,373.59 L507.40,372.47 L508.10,370.45 L508.80,371.20 L509.50,371.97 L510.20,372.77 L510.90,373.84 L511.60,375.18 L512.30,372.73 L513.00,374.67 L513.70,374.27 L514.40,373.81 L515.10,376.99 L515.80,371.84 L516.50,367.96 L517.20,365.88 L517.90,364.93 L518.60,366.75 L519.30,371.17 L520.00,376.03 L520.70,379.70 L521.40,382.11 L522.10,384.51 L522.80,382.20 L523.50,374.95 L524.20,370.73 L524.90,371.44 L525.60,370.89 L526.30,370.48 L527.00,371.07 L527.70,374.09 L528.40,376.81 L529.10,376.07 L529.80,374.33 L530.50,372.54 L531.20,371.97 L531.90,372.45 L532.60,373.74 L533.30,377.78 L534.00,383.50 L534.70,381.30 L535.40,373.86 L536.10,368.43 L536.80,367.35 L537.50,370.00 L538.20,374.01 L538.90,387.95 L539.60,387.37 L540.30,375.52 L541.00,367.52 L541.70,367.56 L542.40,368.23 L543.10,379.03 L543.80,386.04 L544.50,379.86 L545.20,371.91 L545.90,369.13 L546.60,370.92 L547.30,372.68 L548.00,384.64 L548.70,393.95 L549.40,388.86 L550.10,375.79 L550.80,366.83 L551.50,366.87 L552.20,370.16 L552.90,370.39 L553.60,369.51 L554.30,369.79 L555.00,370.88 L555.70,373.55 L556.40,376.06 L557.10,380.18 L557.80,382.65 L558.50,380.38 L559.20,374.72 L559.90,370.54 L560.60,371.23 L561.30,375.85 L562.00,377.10 L562.70,376.18 L563.40,374.16 L564.10,372.29 L564.80,368.15 L565.50,366.66 L566.20,369.15 L566.90,373.50 L567.60,376.87 L568.30,376.18 L569.00,374.10 L569.70,371.87 L570.40,370.94 L571.10,371.61 L571.80,371.22 L572.50,373.85 L573.20,378.30 L573.90,380.29 L574.60,378.73 L575.30,371.83 L576.00,366.49 L576.70,366.06 L577.40,368.15 L578.10,371.54 L578.80,373.77 L579.50,375.80 L580.20,376.12 L580.90,373.54 L581.60,370.78 L582.30,369.31 L583.00,370.33 L583.70,376.71 L584.40,381.67 L585.10,381.33 L585.80,374.15 L586.50,369.41 L587.20,369.08 L587.90,369.12 L588.60,370.69 L589.30,374.90 L590.00,378.85 L590.70,377.61 L591.40,372.96 L592.10,369.11 L592.80,369.80 L593.50,373.12 L594.20,376.40 L594.90,377.05 L595.60,374.65 L596.30,371.47 L597.00,369.77 L597.70,371.25 L598.40,374.31 L599.10,376.14 L599.80,376.10 L600.50,374.44 L601.20,372.86 L601.90,373.14 L602.60,373.51 L603.30,375.58 L604.00,377.14 L604.70,375.75 L605.40,373.93 L606.10,373.28 L606.80,374.07 L607.50,375.06 L608.20,375.86 L608.90,375.25 L609.60,373.80 L610.30,374.31 L611.00,376.94 L611.70,378.30 L612.40,377.50 L613.10,375.73 L613.80,375.26 L614.50,375.61 L615.20,376.29 L615.90,377.16 L616.60,376.80 L617.30,375.79 L618.00,374.48 L618.70,373.38 L619.40,374.95 L620.10,378.41 L620.80,378.68 L621.50,378.41 L622.20,375.51 L622.90,374.05 L623.60,375.07 L624.30,371.74 L625.00,371.45 L625.70,374.73 L626.40,376.63 L627.10,378.44 L627.80,374.01 L628.50,373.04 L629.20,372.87 L629.90,376.85 L630.60,375.61 L631.30,375.84 L632.00,374.52 L632.70,375.53 L633.40,377.76 L634.10,374.89 L634.80,376.02 L635.50,378.34 L636.20,378.50 L636.90,377.40 L637.60,378.86 L638.30,374.87 L639.00,375.74 L639.70,376.16 L640.40,379.00 L641.10,377.58 L641.80,379.25 L642.50,378.54 L643.20,376.77 L643.90,375.14 L644.60,375.36 L645.30,376.30 L646.00,376.10 L646.70,381.60 L647.40,380.38 L648.10,377.51 L648.80,377.37 L649.50,376.95 L650.20,378.20 L650.90,374.08 L651.60,376.17 L652.30,373.56 L653.00,371.95 L653.70,372.98 L654.40,372.83 L655.10,376.36 L655.80,375.97 L656.50,374.84 L657.20,377.30 L657.90,376.75 L658.60,377.05 L659.30,375.57 L660.00,375.73 L660.70,372.27 L661.40,373.49 L662.10,374.52 L662.80,372.30 L663.50,373.20 L664.20,375.61 L664.90,375.75 L665.60,375.54 L666.30,375.33 L667.00,376.72 L667.70,374.92 L668.40,376.53 L669.10,376.08 L669.80,377.26 L670.50,374.54 L671.20,374.56 L671.90,373.68 L672.60,372.67 L673.30,376.04 L674.00,375.23 L674.70,375.97 L675.40,377.28 L676.10,376.23 L676.80,375.55 L677.50,377.99 L678.20,377.67 L678.90,380.32 L679.60,378.94 L680.30,377.42 L681.00,373.52 L681.70,373.80 L682.40,373.81" fill="none" stroke="#111111" stroke-width="1.00" stroke-linejoin="round"/>
<path d="M246.00,421.76 L246.70,419.58 L247.40,417.65 L248.10,418.05 L248.80,418.81 L249.50,418.69 L250.20,418.33 L250.90,421.23 L251.60,420.77 L252.30,421.18 L253.00,419.47 L253.70,417.29 L254.40,417.10 L255.10,414.35 L255.80,413.52 L256.50,414.56 L257.20,417.01 L257.90,415.90 L258.60,417.88 L259.30,418.02 L260.00,417.00 L260.70,415.04 L261.40,414.28 L262.10,414.44 L262.80,414.04 L263.50,417.65 L264.20,419.05 L264.90,414.63 L265.60,414.96 L266.30,418.18 L267.00,416.47 L267.70,419.20 L268.40,415.16 L269.10,415.36 L269.80,417.86 L270.50,419.95 L271.20,420.31 L271.90,420.51 L272.60,420.46 L273.30,416.87 L274.00,420.54 L274.70,420.60 L275.40,420.10 L276.10,419.85 L276.80,416.92 L277.50,418.51 L278.20,416.60 L278.90,413.87 L279.60,415.42 L280.30,416.51 L281.00,417.72 L281.70,413.24 L282.40,419.24 L283.10,418.31 L283.80,418.76 L284.50,417.47 L285.20,419.59 L285.90,416.96 L286.60,417.03 L287.30,416.35 L288.00,417.18 L288.70,418.78 L289.40,420.01 L290.10,418.00 L290.80,420.88 L291.50,419.49 L292.20,421.88 L292.90,423.90 L293.60,423.61 L294.30,420.77 L295.00,419.80 L295.70,421.91 L296.40,417.76 L297.10,418.64 L297.80,420.99 L298.50,420.53 L299.20,417.54 L299.90,418.84 L300.60,418.15 L301.30,416.16 L302.00,417.61 L302.70,415.89 L303.40,414.14 L304.10,418.40 L304.80,420.52 L305.50,418.82 L306.20,420.44 L306.90,422.26 L307.60,422.16 L308.30,416.70 L309.00,421.31 L309.70,420.81 L310.40,421.86 L311.10,421.72 L311.80,421.38 L312.50,421.63 L313.20,422.90 L313.90,420.37 L314.60,417.32 L315.30,419.59 L316.00,422.01 L316.70,422.05 L317.40,421.07 L318.10,421.08 L318.80,420.47 L319.50,419.44 L320.20,418.88 L320.90,417.48 L321.60,418.32 L322.30,418.17 L323.00,419.61 L323.70,418.09 L324.40,417.28 L325.10,417.10 L325.80,418.04 L326.50,415.11 L327.20,417.96 L327.90,420.54 L328.60,420.87 L329.30,421.57 L330.00,420.62 L330.70,418.04 L331.40,416.45 L332.10,414.12 L332.80,414.31 L333.50,417.76 L334.20,418.52 L334.90,418.59 L335.60,419.68 L336.30,416.84 L337.00,413.18 L337.70,412.71 L338.40,412.42 L339.10,416.67 L339.80,419.43 L340.50,422.06 L341.20,422.16 L341.90,419.92 L342.60,417.88 L343.30,412.77 L344.00,413.41 L344.70,415.08 L345.40,415.24 L346.10,419.42 L346.80,419.06 L347.50,419.12 L348.20,417.33 L348.90,417.20 L349.60,415.37 L350.30,417.42 L351.00,420.24 L351.70,422.49 L352.40,423.90 L353.10,419.09 L353.80,416.47 L354.50,411.14 L355.20,411.06 L355.90,413.23 L356.60,416.11 L357.30,421.97 L358.00,424.03 L358.70,424.43 L359.40,421.38 L360.10,419.44 L360.80,417.19 L361.50,415.06 L362.20,414.86 L362.90,416.36 L363.60,417.18 L364.30,418.43 L365.00,419.07 L365.70,416.56 L366.40,414.88 L367.10,412.79 L367.80,411.21 L368.50,415.31 L369.20,419.19 L369.90,422.16 L370.60,421.24 L371.30,418.62 L372.00,416.50 L372.70,415.30 L373.40,415.64 L374.10,416.58 L374.80,419.19 L375.50,419.37 L376.20,417.77 L376.90,414.29 L377.60,412.83 L378.30,412.00 L379.00,415.41 L379.70,421.36 L380.40,426.95 L381.10,432.34 L381.80,429.88 L382.50,424.99 L383.20,420.46 L383.90,415.84 L384.60,414.79 L385.30,417.32 L386.00,418.50 L386.70,422.48 L387.40,423.57 L388.10,421.98 L388.80,419.65 L389.50,417.95 L390.20,415.71 L390.90,416.47 L391.60,417.98 L392.30,419.91 L393.00,422.95 L393.70,421.76 L394.40,419.60 L395.10,418.32 L395.80,415.45 L396.50,415.50 L397.20,420.09 L397.90,425.36 L398.60,425.43 L399.30,421.44 L400.00,418.14 L400.70,417.53 L401.40,414.91 L402.10,415.92 L402.80,417.51 L403.50,418.27 L404.20,419.01 L404.90,417.13 L405.60,416.23 L406.30,419.49 L407.00,418.79 L407.70,422.59 L408.40,421.12 L409.10,421.27 L409.80,421.90 L410.50,420.59 L411.20,421.42 L411.90,422.61 L412.60,422.93 L413.30,422.73 L414.00,421.04 L414.70,421.55 L415.40,417.42 L416.10,421.57 L416.80,420.44 L417.50,420.05 L418.20,419.13 L418.90,417.95 L419.60,420.18 L420.30,417.89 L421.00,420.55 L421.70,416.93 L422.40,413.68 L423.10,415.66 L423.80,417.22 L424.50,416.15 L425.20,417.14 L425.90,420.51 L426.60,417.82 L427.30,418.72 L428.00,421.46 L428.70,419.80 L429.40,421.45 L430.10,420.79 L430.80,420.40 L431.50,420.28 L432.20,416.96 L432.90,415.74 L433.60,417.52 L434.30,416.26 L435.00,415.10 L435.70,416.59 L436.40,418.49 L437.10,415.63 L437.80,413.21 L438.50,414.26 L439.20,413.72 L439.90,416.93 L440.60,413.12 L441.30,418.05 L442.00,417.86 L442.70,420.26 L443.40,417.62 L444.10,418.14 L444.80,418.14 L445.50,416.22 L446.20,416.24 L446.90,416.17 L447.60,414.08 L448.30,417.92 L449.00,420.17 L449.70,420.81 L450.40,419.54 L451.10,419.91 L451.80,421.58 L452.50,420.71 L453.20,417.03 L453.90,417.83 L454.60,420.58 L455.30,419.16 L456.00,419.61 L456.70,415.76 L457.40,414.84 L458.10,415.19 L458.80,412.34 L459.50,412.84 L460.20,414.22 L460.90,416.90 L461.60,416.98 L462.30,415.29 L463.00,414.66 L463.70,413.94 L464.40,411.29 L465.10,413.36 L465.80,412.00 L466.50,412.99 L467.20,413.25 L467.90,415.20 L468.60,418.77 L469.30,419.99 L470.00,419.06 L470.70,419.72 L471.40,422.66 L472.10,417.87 L472.80,415.48 L473.50,417.24 L474.20,415.12 L474.90,415.60 L475.60,414.38 L476.30,415.52 L477.00,418.63 L477.70,414.69 L478.40,417.39 L479.10,418.53 L479.80,421.34 L480.50,423.03 L481.20,420.69 L481.90,421.84 L482.60,419.33 L483.30,419.10 L484.00,418.77 L484.70,416.98 L485.40,415.59 L486.10,418.02 L486.80,415.55 L487.50,415.74 L488.20,415.83 L488.90,420.44 L489.60,419.30 L490.30,414.47 L491.00,417.45 L491.70,417.99 L492.40,417.43 L493.10,417.26 L493.80,416.73 L494.50,416.29 L495.20,414.73 L495.90,417.00 L496.60,418.84 L497.30,415.13 L498.00,412.67 L498.70,417.69 L499.40,415.41 L500.10,415.84 L500.80,414.57 L501.50,414.34 L502.20,415.26 L502.90,414.91 L503.60,415.25 L504.30,416.51 L505.00,416.55 L505.70,415.31 L506.40,414.90 L507.10,414.63 L507.80,415.90 L508.50,416.64 L509.20,417.96 L509.90,417.98 L510.60,417.66 L511.30,416.38 L512.00,416.50 L512.70,413.95 L513.40,413.91 L514.10,416.72 L514.80,420.31 L515.50,420.93 L516.20,422.94 L516.90,420.40 L517.60,418.60 L518.30,415.63 L519.00,414.14 L519.70,416.05 L520.40,417.36 L521.10,417.94 L521.80,420.73 L522.50,420.34 L523.20,418.41 L523.90,418.43 L524.60,416.37 L525.30,416.19 L526.00,416.58 L526.70,419.24 L527.40,419.84 L528.10,421.60 L528.80,420.59 L529.50,421.94 L530.20,418.61 L530.90,414.98 L531.60,414.44 L532.30,417.82 L533.00,418.22 L533.70,419.90 L534.40,420.33 L535.10,419.94 L535.80,417.38 L536.50,415.95 L537.20,412.99 L537.90,414.73 L538.60,418.81 L539.30,421.11 L540.00,421.98 L540.70,422.72 L541.40,419.79 L542.10,417.83 L542.80,415.13 L543.50,414.75 L544.20,417.56 L544.90,420.54 L545.60,424.74 L546.30,426.45 L547.00,423.32 L547.70,419.42 L548.40,416.15 L549.10,413.63 L549.80,416.07 L550.50,420.44 L551.20,422.52 L551.90,422.01 L552.60,419.95 L553.30,417.04 L554.00,415.93 L554.70,412.00 L555.40,419.62 L556.10,421.43 L556.80,426.62 L557.50,429.46 L558.20,430.36 L558.90,426.97 L559.60,419.74 L560.30,414.43 L561.00,412.11 L561.70,411.38 L562.40,411.78 L563.10,415.37 L563.80,417.76 L564.50,420.75 L565.20,418.24 L565.90,418.38 L566.60,418.65 L567.30,415.81 L568.00,415.62 L568.70,418.69 L569.40,420.12 L570.10,423.62 L570.80,423.10 L571.50,421.28 L572.20,417.30 L572.90,412.04 L573.60,409.06 L574.30,412.22 L575.00,416.64 L575.70,420.07 L576.40,421.94 L577.10,421.05 L577.80,418.79 L578.50,416.74 L579.20,415.04 L579.90,416.09 L580.60,416.98 L581.30,417.26 L582.00,418.87 L582.70,420.44 L583.40,420.80 L584.10,419.58 L584.80,418.45 L585.50,414.90 L586.20,414.31 L586.90,416.89 L587.60,419.07 L588.30,422.46 L589.00,426.81 L589.70,430.70 L590.40,426.97 L591.10,424.09 L591.80,421.85 L592.50,418.97 L593.20,416.92 L593.90,418.67 L594.60,421.37 L595.30,424.05 L596.00,426.11 L596.70,428.05 L597.40,427.65 L598.10,423.04 L598.80,419.95 L599.50,416.81 L600.20,417.74 L600.90,417.90 L601.60,420.24 L602.30,420.25 L603.00,420.47 L603.70,418.43 L604.40,417.84 L605.10,414.95 L605.80,416.77 L606.50,417.01 L607.20,418.43 L607.90,416.49 L608.60,417.64 L609.30,417.52 L610.00,416.72 L610.70,414.93 L611.40,414.26 L612.10,412.35 L612.80,415.24 L613.50,415.50 L614.20,419.23 L614.90,415.77 L615.60,417.23 L616.30,417.62 L617.00,417.58 L617.70,421.73 L618.40,422.10 L619.10,421.28 L619.80,423.05 L620.50,423.69 L621.20,421.73 L621.90,419.65 L622.60,418.44 L623.30,418.43 L624.00,418.88 L624.70,419.58 L625.40,420.59 L626.10,423.39 L626.80,422.08 L627.50,419.38 L628.20,422.75 L628.90,420.01 L629.60,420.70 L630.30,420.75 L631.00,417.78 L631.70,418.41 L632.40,418.42 L633.10,416.79 L633.80,419.88 L634.50,421.43 L635.20,418.98 L635.90,418.77 L636.60,419.88 L637.30,418.23 L638.00,415.95 L638.70,413.16 L639.40,416.01 L640.10,417.13 L640.80,417.71 L641.50,414.02 L642.20,414.38 L642.90,415.98 L643.60,418.17 L644.30,418.89 L645.00,418.78 L645.70,418.41 L646.40,420.66 L647.10,421.36 L647.80,420.97 L648.50,421.89 L649.20,422.78 L649.90,420.98 L650.60,418.83 L651.30,419.05 L652.00,417.40 L652.70,417.30 L653.40,415.86 L654.10,418.30 L654.80,420.61 L655.50,422.10 L656.20,423.26 L656.90,426.84 L657.60,426.24 L658.30,425.28 L659.00,422.27 L659.70,420.17 L660.40,419.47 L661.10,415.51 L661.80,416.44 L662.50,417.14 L663.20,416.15 L663.90,417.76 L664.60,417.17 L665.30,418.95 L666.00,418.73 L666.70,417.98 L667.40,419.63 L668.10,421.69 L668.80,419.36 L669.50,421.63 L670.20,417.53 L670.90,418.42 L671.60,417.28 L672.30,418.00 L673.00,415.79 L673.70,413.50 L674.40,416.81 L675.10,418.40 L675.80,416.65 L676.50,417.12 L677.20,418.72 L677.90,420.62 L678.60,420.99 L679.30,422.49 L680.00,418.20 L680.70,415.61 L681.40,414.60 L682.10,418.46 L682.80,415.58 L683.50,416.40 L684.20,419.50 L684.90,417.40" fill="none" stroke="#111111" stroke-width="1.00" stroke-linejoin="round"/>
<path d="M647.00,398.80 L680.80,398.80 L680.80,384.10" fill="none" stroke="#111" stroke-width="1.6"/>
<text x="644.9" y="392.7" font-size="7.8" fill="#1a1a1a" textLength="24.9" lengthAdjust="spacingAndGlyphs" stroke="#1a1a1a" stroke-width="0.35">0.5 mV</text>
<text x="654.1" y="407.8" font-size="7.8" fill="#1a1a1a" textLength="16.5" lengthAdjust="spacingAndGlyphs" stroke="#1a1a1a" stroke-width="0.35">0.5 s</text>
<text x="11.9" y="434.9" font-size="17.0" fill="#1a1a1a" stroke="#1a1a1a" stroke-width="0.40">H</text>
<path d="M34.50,480.49 C38.14,480.32 49.21,478.68 56.33,479.46 C63.46,480.23 72.12,485.24 77.25,485.15 C82.37,485.07 84.41,481.23 87.07,478.94 C89.72,476.65 91.49,471.99 93.15,471.43 C94.81,470.87 95.75,473.55 97.04,475.57 C98.32,477.60 99.09,480.41 100.85,483.60 C102.61,486.79 105.16,492.06 107.59,494.73 C110.02,497.41 111.73,497.19 115.43,499.65 C119.14,502.11 124.34,506.60 129.81,509.49 C135.28,512.38 142.97,514.49 148.25,517.00 C153.52,519.50 156.66,521.48 161.46,524.50 C166.26,527.52 171.82,532.05 177.02,535.12 C182.22,538.18 188.06,541.42 192.68,542.88 C197.30,544.35 202.74,543.75 204.75,543.92" fill="none" stroke="#d81e3a" stroke-opacity="0.2" stroke-width="2.16" stroke-linejoin="round" stroke-linecap="round"/>
<path d="M34.50,480.49 C38.14,480.32 49.21,478.68 56.33,479.46 C63.46,480.23 72.12,485.24 77.25,485.15 C82.37,485.07 84.41,481.23 87.07,478.94 C89.72,476.65 91.49,471.99 93.15,471.43 C94.81,470.87 95.75,473.55 97.04,475.57 C98.32,477.60 99.09,480.41 100.85,483.60 C102.61,486.79 105.16,492.06 107.59,494.73 C110.02,497.41 111.73,497.19 115.43,499.65 C119.14,502.11 124.34,506.60 129.81,509.49 C135.28,512.38 142.97,514.49 148.25,517.00 C153.52,519.50 156.66,521.48 161.46,524.50 C166.26,527.52 171.82,532.05 177.02,535.12 C182.22,538.18 188.06,541.42 192.68,542.88 C197.30,544.35 202.74,543.75 204.75,543.92" fill="none" stroke="#d81e3a" stroke-width="1.35" stroke-linejoin="round" stroke-linecap="round"/>
<path d="M34.50,480.49 C38.14,480.41 49.21,479.15 56.33,479.97 C63.46,480.79 72.12,485.50 77.25,485.41 C82.37,485.32 84.41,481.74 87.07,479.46 C89.72,477.17 91.49,472.29 93.15,471.69 C94.81,471.09 95.75,473.80 97.04,475.83 C98.32,477.86 99.09,480.79 100.85,483.86 C102.61,486.92 105.16,491.88 107.59,494.21 C110.02,496.54 111.73,495.59 115.43,497.84 C119.14,500.08 124.34,504.48 129.81,507.68 C135.28,510.87 142.97,514.06 148.25,517.00 C153.52,519.93 156.66,521.96 161.46,525.28 C166.26,528.60 171.82,533.56 177.02,536.93 C182.22,540.30 188.06,543.88 192.68,545.47 C197.30,547.07 202.74,546.34 204.75,546.51" fill="none" stroke="#1414f0" stroke-opacity="0.2" stroke-width="2.16" stroke-linejoin="round" stroke-linecap="round"/>
<path d="M34.50,480.49 C38.14,480.41 49.21,479.15 56.33,479.97 C63.46,480.79 72.12,485.50 77.25,485.41 C82.37,485.32 84.41,481.74 87.07,479.46 C89.72,477.17 91.49,472.29 93.15,471.69 C94.81,471.09 95.75,473.80 97.04,475.83 C98.32,477.86 99.09,480.79 100.85,483.86 C102.61,486.92 105.16,491.88 107.59,494.21 C110.02,496.54 111.73,495.59 115.43,497.84 C119.14,500.08 124.34,504.48 129.81,507.68 C135.28,510.87 142.97,514.06 148.25,517.00 C153.52,519.93 156.66,521.96 161.46,525.28 C166.26,528.60 171.82,533.56 177.02,536.93 C182.22,540.30 188.06,543.88 192.68,545.47 C197.30,547.07 202.74,546.34 204.75,546.51" fill="none" stroke="#1414f0" stroke-width="1.35" stroke-linejoin="round" stroke-linecap="round"/>
<rect x="34.50" y="441.40" width="172.00" height="116.50" fill="none" stroke="#666" stroke-width="0.9"/>
<line x1="32.50" y1="441.40" x2="34.50" y2="441.40" stroke="#666" stroke-width="0.8"/>
<text x="31.5" y="444" font-size="7.3" fill="#1a1a1a" text-anchor="end" stroke="#1a1a1a" stroke-width="0.35">-20</text>
<line x1="32.50" y1="454.34" x2="34.50" y2="454.34" stroke="#666" stroke-width="0.8"/>
<text x="31.5" y="456.94" font-size="7.3" fill="#1a1a1a" text-anchor="end" stroke="#1a1a1a" stroke-width="0.35">-25</text>
<line x1="32.50" y1="467.29" x2="34.50" y2="467.29" stroke="#666" stroke-width="0.8"/>
<text x="31.5" y="469.89" font-size="7.3" fill="#1a1a1a" text-anchor="end" stroke="#1a1a1a" stroke-width="0.35">-30</text>
<line x1="32.50" y1="480.23" x2="34.50" y2="480.23" stroke="#666" stroke-width="0.8"/>
<text x="31.5" y="482.83" font-size="7.3" fill="#1a1a1a" text-anchor="end" stroke="#1a1a1a" stroke-width="0.35">-35</text>
<line x1="32.50" y1="493.18" x2="34.50" y2="493.18" stroke="#666" stroke-width="0.8"/>
<text x="31.5" y="495.78" font-size="7.3" fill="#1a1a1a" text-anchor="end" stroke="#1a1a1a" stroke-width="0.35">-40</text>
<line x1="32.50" y1="506.12" x2="34.50" y2="506.12" stroke="#666" stroke-width="0.8"/>
<text x="31.5" y="508.72" font-size="7.3" fill="#1a1a1a" text-anchor="end" stroke="#1a1a1a" stroke-width="0.35">-45</text>
<line x1="32.50" y1="519.07" x2="34.50" y2="519.07" stroke="#666" stroke-width="0.8"/>
<text x="31.5" y="521.67" font-size="7.3" fill="#1a1a1a" text-anchor="end" stroke="#1a1a1a" stroke-width="0.35">-50</text>
<line x1="32.50" y1="532.01" x2="34.50" y2="532.01" stroke="#666" stroke-width="0.8"/>
<text x="31.5" y="534.61" font-size="7.3" fill="#1a1a1a" text-anchor="end" stroke="#1a1a1a" stroke-width="0.35">-55</text>
<line x1="32.50" y1="544.96" x2="34.50" y2="544.96" stroke="#666" stroke-width="0.8"/>
<text x="31.5" y="547.56" font-size="7.3" fill="#1a1a1a" text-anchor="end" stroke="#1a1a1a" stroke-width="0.35">-60</text>
<line x1="32.50" y1="557.90" x2="34.50" y2="557.90" stroke="#666" stroke-width="0.8"/>
<text x="31.5" y="560.5" font-size="7.3" fill="#1a1a1a" text-anchor="end" stroke="#1a1a1a" stroke-width="0.35">-65</text>
<line x1="34.50" y1="557.90" x2="34.50" y2="560.10" stroke="#666" stroke-width="0.7"/>
<line x1="55.87" y1="557.90" x2="55.87" y2="559.10" stroke="#666" stroke-width="0.7"/>
<line x1="68.38" y1="557.90" x2="68.38" y2="559.10" stroke="#666" stroke-width="0.7"/>
<line x1="77.25" y1="557.90" x2="77.25" y2="559.10" stroke="#666" stroke-width="0.7"/>
<line x1="84.13" y1="557.90" x2="84.13" y2="559.10" stroke="#666" stroke-width="0.7"/>
<line x1="89.75" y1="557.90" x2="89.75" y2="559.10" stroke="#666" stroke-width="0.7"/>
<line x1="94.50" y1="557.90" x2="94.50" y2="559.10" stroke="#666" stroke-width="0.7"/>
<line x1="98.62" y1="557.90" x2="98.62" y2="559.10" stroke="#666" stroke-width="0.7"/>
<line x1="102.25" y1="557.90" x2="102.25" y2="559.10" stroke="#666" stroke-width="0.7"/>
<text x="34.5" y="568.5" font-size="7.5" fill="#1a1a1a" text-anchor="middle" stroke="#1a1a1a" stroke-width="0.35">1</text>
<line x1="105.50" y1="557.90" x2="105.50" y2="560.10" stroke="#666" stroke-width="0.7"/>
<line x1="126.87" y1="557.90" x2="126.87" y2="559.10" stroke="#666" stroke-width="0.7"/>
<line x1="139.38" y1="557.90" x2="139.38" y2="559.10" stroke="#666" stroke-width="0.7"/>
<line x1="148.25" y1="557.90" x2="148.25" y2="559.10" stroke="#666" stroke-width="0.7"/>
<line x1="155.13" y1="557.90" x2="155.13" y2="559.10" stroke="#666" stroke-width="0.7"/>
<line x1="160.75" y1="557.90" x2="160.75" y2="559.10" stroke="#666" stroke-width="0.7"/>
<line x1="165.50" y1="557.90" x2="165.50" y2="559.10" stroke="#666" stroke-width="0.7"/>
<line x1="169.62" y1="557.90" x2="169.62" y2="559.10" stroke="#666" stroke-width="0.7"/>
<line x1="173.25" y1="557.90" x2="173.25" y2="559.10" stroke="#666" stroke-width="0.7"/>
<text x="105.5" y="568.5" font-size="7.5" fill="#1a1a1a" text-anchor="middle" stroke="#1a1a1a" stroke-width="0.35">10</text>
<line x1="176.50" y1="557.90" x2="176.50" y2="560.10" stroke="#666" stroke-width="0.7"/>
<line x1="197.87" y1="557.90" x2="197.87" y2="559.10" stroke="#666" stroke-width="0.7"/>
<text x="176.5" y="568.5" font-size="7.5" fill="#1a1a1a" text-anchor="middle" stroke="#1a1a1a" stroke-width="0.35">100</text>
<line x1="107.40" y1="443.50" x2="149.00" y2="443.50" stroke="#000" stroke-width="2.3"/>
<line x1="160.40" y1="443.50" x2="206.50" y2="443.50" stroke="#000" stroke-width="2.3"/>
<text transform="translate(12.4,500.6) rotate(-90)" x="0" y="0" font-size="8.0" fill="#1a1a1a" text-anchor="middle" textLength="38.2" lengthAdjust="spacingAndGlyphs" stroke="#1a1a1a" stroke-width="0.35">Power [dB]</text>
<text x="85" y="575.9" font-size="7.8" fill="#1a1a1a" textLength="51.4" lengthAdjust="spacingAndGlyphs" stroke="#1a1a1a" stroke-width="0.35">Frequency [Hz]</text>
<text x="223.8" y="437.5" font-size="16.5" fill="#1a1a1a" font-family="'Liberation Serif', serif" stroke="#1a1a1a" stroke-width="0.40">I</text>
<path d="M248.80,468.10 C250.81,467.68 257.81,465.97 260.89,465.55 C263.97,465.12 265.74,465.20 267.27,465.55 C268.79,465.90 268.03,466.86 270.02,467.64 C272.01,468.41 275.48,468.88 279.20,470.19 C282.91,471.51 287.52,474.06 292.31,475.53 C297.09,477.00 302.65,477.27 307.91,479.02 C313.16,480.76 319.88,484.16 323.84,485.98 C327.80,487.80 328.40,487.88 331.68,489.93 C334.96,491.98 339.61,495.66 343.55,498.29 C347.48,500.92 350.69,502.74 355.28,505.72 C359.86,508.70 365.79,512.34 371.05,516.17 C376.31,520.00 381.57,525.07 386.86,528.71 C392.15,532.35 397.34,535.71 402.78,538.00 C408.23,540.28 416.75,541.67 419.54,542.41" fill="none" stroke="#d81e3a" stroke-opacity="0.2" stroke-width="2.88" stroke-linejoin="round" stroke-linecap="round"/>
<path d="M248.80,468.10 C250.81,467.68 257.81,465.97 260.89,465.55 C263.97,465.12 265.74,465.20 267.27,465.55 C268.79,465.90 268.03,466.86 270.02,467.64 C272.01,468.41 275.48,468.88 279.20,470.19 C282.91,471.51 287.52,474.06 292.31,475.53 C297.09,477.00 302.65,477.27 307.91,479.02 C313.16,480.76 319.88,484.16 323.84,485.98 C327.80,487.80 328.40,487.88 331.68,489.93 C334.96,491.98 339.61,495.66 343.55,498.29 C347.48,500.92 350.69,502.74 355.28,505.72 C359.86,508.70 365.79,512.34 371.05,516.17 C376.31,520.00 381.57,525.07 386.86,528.71 C392.15,532.35 397.34,535.71 402.78,538.00 C408.23,540.28 416.75,541.67 419.54,542.41" fill="none" stroke="#d81e3a" stroke-width="1.35" stroke-linejoin="round" stroke-linecap="round"/>
<path d="M248.80,461.83 C250.34,461.25 254.98,458.85 258.05,458.35 C261.13,457.85 261.56,457.27 267.27,458.81 C272.97,460.36 285.97,465.74 292.31,467.64 C298.65,469.53 300.05,468.53 305.31,470.19 C310.56,471.86 319.24,475.88 323.84,477.62 C328.44,479.36 329.63,477.93 332.91,480.64 C336.20,483.35 339.82,490.12 343.55,493.88 C347.27,497.63 350.69,499.45 355.28,503.17 C359.86,506.88 365.79,511.80 371.05,516.17 C376.31,520.54 381.57,525.46 386.86,529.40 C392.15,533.35 397.34,537.38 402.78,539.85 C408.23,542.33 416.75,543.53 419.54,544.26" fill="none" stroke="#1414f0" stroke-opacity="0.2" stroke-width="2.16" stroke-linejoin="round" stroke-linecap="round"/>
<path d="M248.80,461.83 C250.34,461.25 254.98,458.85 258.05,458.35 C261.13,457.85 261.56,457.27 267.27,458.81 C272.97,460.36 285.97,465.74 292.31,467.64 C298.65,469.53 300.05,468.53 305.31,470.19 C310.56,471.86 319.24,475.88 323.84,477.62 C328.44,479.36 329.63,477.93 332.91,480.64 C336.20,483.35 339.82,490.12 343.55,493.88 C347.27,497.63 350.69,499.45 355.28,503.17 C359.86,506.88 365.79,511.80 371.05,516.17 C376.31,520.54 381.57,525.46 386.86,529.40 C392.15,533.35 397.34,537.38 402.78,539.85 C408.23,542.33 416.75,543.53 419.54,544.26" fill="none" stroke="#1414f0" stroke-width="1.35" stroke-linejoin="round" stroke-linecap="round"/>
<rect x="248.80" y="441.40" width="171.70" height="116.10" fill="none" stroke="#666" stroke-width="0.9"/>
<line x1="246.80" y1="441.40" x2="248.80" y2="441.40" stroke="#666" stroke-width="0.8"/>
<text x="245.8" y="444" font-size="7.3" fill="#1a1a1a" text-anchor="end" stroke="#1a1a1a" stroke-width="0.35">-20</text>
<line x1="246.80" y1="464.62" x2="248.80" y2="464.62" stroke="#666" stroke-width="0.8"/>
<text x="245.8" y="467.22" font-size="7.3" fill="#1a1a1a" text-anchor="end" stroke="#1a1a1a" stroke-width="0.35">-30</text>
<line x1="246.80" y1="487.84" x2="248.80" y2="487.84" stroke="#666" stroke-width="0.8"/>
<text x="245.8" y="490.44" font-size="7.3" fill="#1a1a1a" text-anchor="end" stroke="#1a1a1a" stroke-width="0.35">-40</text>
<line x1="246.80" y1="511.06" x2="248.80" y2="511.06" stroke="#666" stroke-width="0.8"/>
<text x="245.8" y="513.66" font-size="7.3" fill="#1a1a1a" text-anchor="end" stroke="#1a1a1a" stroke-width="0.35">-50</text>
<line x1="246.80" y1="534.28" x2="248.80" y2="534.28" stroke="#666" stroke-width="0.8"/>
<text x="245.8" y="536.88" font-size="7.3" fill="#1a1a1a" text-anchor="end" stroke="#1a1a1a" stroke-width="0.35">-60</text>
<line x1="246.80" y1="557.50" x2="248.80" y2="557.50" stroke="#666" stroke-width="0.8"/>
<text x="245.8" y="560.1" font-size="7.3" fill="#1a1a1a" text-anchor="end" stroke="#1a1a1a" stroke-width="0.35">-70</text>
<line x1="248.80" y1="557.50" x2="248.80" y2="559.70" stroke="#666" stroke-width="0.7"/>
<line x1="270.17" y1="557.50" x2="270.17" y2="558.70" stroke="#666" stroke-width="0.7"/>
<line x1="282.68" y1="557.50" x2="282.68" y2="558.70" stroke="#666" stroke-width="0.7"/>
<line x1="291.55" y1="557.50" x2="291.55" y2="558.70" stroke="#666" stroke-width="0.7"/>
<line x1="298.43" y1="557.50" x2="298.43" y2="558.70" stroke="#666" stroke-width="0.7"/>
<line x1="304.05" y1="557.50" x2="304.05" y2="558.70" stroke="#666" stroke-width="0.7"/>
<line x1="308.80" y1="557.50" x2="308.80" y2="558.70" stroke="#666" stroke-width="0.7"/>
<line x1="312.92" y1="557.50" x2="312.92" y2="558.70" stroke="#666" stroke-width="0.7"/>
<line x1="316.55" y1="557.50" x2="316.55" y2="558.70" stroke="#666" stroke-width="0.7"/>
<text x="248.8" y="568.1" font-size="7.5" fill="#1a1a1a" text-anchor="middle" stroke="#1a1a1a" stroke-width="0.35">1</text>
<line x1="319.80" y1="557.50" x2="319.80" y2="559.70" stroke="#666" stroke-width="0.7"/>
<line x1="341.17" y1="557.50" x2="341.17" y2="558.70" stroke="#666" stroke-width="0.7"/>
<line x1="353.68" y1="557.50" x2="353.68" y2="558.70" stroke="#666" stroke-width="0.7"/>
<line x1="362.55" y1="557.50" x2="362.55" y2="558.70" stroke="#666" stroke-width="0.7"/>
<line x1="369.43" y1="557.50" x2="369.43" y2="558.70" stroke="#666" stroke-width="0.7"/>
<line x1="375.05" y1="557.50" x2="375.05" y2="558.70" stroke="#666" stroke-width="0.7"/>
<line x1="379.80" y1="557.50" x2="379.80" y2="558.70" stroke="#666" stroke-width="0.7"/>
<line x1="383.92" y1="557.50" x2="383.92" y2="558.70" stroke="#666" stroke-width="0.7"/>
<line x1="387.55" y1="557.50" x2="387.55" y2="558.70" stroke="#666" stroke-width="0.7"/>
<text x="319.8" y="568.1" font-size="7.5" fill="#1a1a1a" text-anchor="middle" stroke="#1a1a1a" stroke-width="0.35">10</text>
<line x1="390.80" y1="557.50" x2="390.80" y2="559.70" stroke="#666" stroke-width="0.7"/>
<line x1="412.17" y1="557.50" x2="412.17" y2="558.70" stroke="#666" stroke-width="0.7"/>
<text x="390.8" y="568.1" font-size="7.5" fill="#1a1a1a" text-anchor="middle" stroke="#1a1a1a" stroke-width="0.35">100</text>
<line x1="281.90" y1="443.50" x2="360.90" y2="443.50" stroke="#000" stroke-width="2.3"/>
<text transform="translate(227.9,499) rotate(-90)" x="0" y="0" font-size="8.0" fill="#1a1a1a" text-anchor="middle" textLength="38.2" lengthAdjust="spacingAndGlyphs" stroke="#1a1a1a" stroke-width="0.35">Power [dB]</text>
<text x="303.5" y="575.9" font-size="7.8" fill="#1a1a1a" textLength="51.4" lengthAdjust="spacingAndGlyphs" stroke="#1a1a1a" stroke-width="0.35">Frequency [Hz]</text>
<text x="429.8" y="439.6" font-size="17.0" fill="#1a1a1a" textLength="6.4" lengthAdjust="spacingAndGlyphs" stroke="#1a1a1a" stroke-width="0.40">J</text>
<rect x="561.20" y="441.50" width="117.40" height="107.70" fill="#d9d9d9"/>
<path d="M459.60,548.77 L469.82,545.54 L480.04,510.43 L490.26,490.83 L500.48,486.09 L510.70,491.90 L520.92,489.32 L531.14,489.97 L541.36,483.72 L551.58,480.49 L561.80,445.59 L572.02,443.22 L582.24,443.01 L592.46,461.75 L602.68,452.27 L612.90,463.04 L623.12,458.95 L633.34,463.47 L643.56,453.78 L653.78,457.44 L664.00,471.01 L674.22,469.72 L674.22,482.64 L664.00,483.93 L653.78,470.36 L643.56,466.70 L633.34,474.24 L623.12,469.72 L612.90,473.81 L602.68,465.19 L592.46,483.29 L582.24,462.39 L572.02,460.46 L561.80,462.82 L551.58,493.41 L541.36,496.64 L531.14,502.89 L520.92,502.24 L510.70,506.98 L500.48,503.32 L490.26,512.37 L480.04,527.66 L469.82,547.69 L459.60,549.20 Z" fill="rgba(200,70,80,0.2)" stroke="none"/>
<path d="M459.60,512.37 L469.82,486.95 L480.04,495.78 L490.26,498.80 L500.48,501.38 L510.70,499.87 L520.92,496.64 L531.14,491.90 L541.36,487.81 L551.58,475.96 L561.80,456.79 L572.02,435.90 L582.24,450.12 L592.46,446.24 L602.68,453.35 L612.90,464.12 L623.12,464.55 L633.34,466.70 L643.56,472.73 L653.78,468.21 L664.00,482.43 L674.22,489.53 L674.22,498.15 L664.00,491.04 L653.78,476.83 L643.56,481.35 L633.34,475.32 L623.12,473.16 L612.90,472.73 L602.68,464.12 L592.46,459.16 L582.24,463.04 L572.02,448.82 L561.80,469.72 L551.58,482.43 L541.36,494.27 L531.14,498.37 L520.92,503.10 L510.70,506.34 L500.48,507.84 L490.26,505.26 L480.04,502.24 L469.82,493.41 L459.60,518.83 Z" fill="rgba(70,70,235,0.2)" stroke="none"/>
<path d="M459.60,549.20 L469.82,546.62 L480.04,519.04 L490.26,501.60 L500.48,494.70 L510.70,499.44 L520.92,495.78 L531.14,496.43 L541.36,490.18 L551.58,486.95 L561.80,454.21 L572.02,451.84 L582.24,452.70 L592.46,472.52 L602.68,458.73 L612.90,468.43 L623.12,464.33 L633.34,468.86 L643.56,460.24 L653.78,463.90 L664.00,477.47 L674.22,476.18" fill="none" stroke="#d81e3a" stroke-width="1.4" stroke-linejoin="round"/>
<path d="M459.60,515.60 L469.82,490.18 L480.04,499.01 L490.26,502.03 L500.48,504.61 L510.70,503.10 L520.92,499.87 L531.14,495.13 L541.36,491.04 L551.58,479.19 L561.80,463.26 L572.02,442.36 L582.24,456.58 L592.46,452.70 L602.68,458.73 L612.90,468.43 L623.12,468.86 L633.34,471.01 L643.56,477.04 L653.78,472.52 L664.00,486.73 L674.22,493.84" fill="none" stroke="#1414f0" stroke-width="1.4" stroke-linejoin="round"/>
<rect x="454.40" y="441.50" width="224.20" height="107.70" fill="none" stroke="#666" stroke-width="0.9"/>
<line x1="452.40" y1="549.20" x2="454.40" y2="549.20" stroke="#666" stroke-width="0.8"/>
<text x="450.5" y="551.8" font-size="7.5" fill="#1a1a1a" text-anchor="end" stroke="#1a1a1a" stroke-width="0.35">0</text>
<line x1="452.40" y1="527.66" x2="454.40" y2="527.66" stroke="#666" stroke-width="0.8"/>
<text x="450.5" y="530.26" font-size="7.5" fill="#1a1a1a" text-anchor="end" stroke="#1a1a1a" stroke-width="0.35">1</text>
<line x1="452.40" y1="506.12" x2="454.40" y2="506.12" stroke="#666" stroke-width="0.8"/>
<text x="450.5" y="508.72" font-size="7.5" fill="#1a1a1a" text-anchor="end" stroke="#1a1a1a" stroke-width="0.35">2</text>
<line x1="452.40" y1="484.58" x2="454.40" y2="484.58" stroke="#666" stroke-width="0.8"/>
<text x="450.5" y="487.18" font-size="7.5" fill="#1a1a1a" text-anchor="end" stroke="#1a1a1a" stroke-width="0.35">3</text>
<line x1="452.40" y1="463.04" x2="454.40" y2="463.04" stroke="#666" stroke-width="0.8"/>
<text x="450.5" y="465.64" font-size="7.5" fill="#1a1a1a" text-anchor="end" stroke="#1a1a1a" stroke-width="0.35">4</text>
<line x1="452.40" y1="441.50" x2="454.40" y2="441.50" stroke="#666" stroke-width="0.8"/>
<text x="450.5" y="444.1" font-size="7.5" fill="#1a1a1a" text-anchor="end" stroke="#1a1a1a" stroke-width="0.35">5</text>
<line x1="459.60" y1="549.20" x2="459.60" y2="551.00" stroke="#666" stroke-width="0.7"/>
<line x1="469.82" y1="549.20" x2="469.82" y2="551.00" stroke="#666" stroke-width="0.7"/>
<line x1="480.04" y1="549.20" x2="480.04" y2="551.00" stroke="#666" stroke-width="0.7"/>
<line x1="490.26" y1="549.20" x2="490.26" y2="551.00" stroke="#666" stroke-width="0.7"/>
<line x1="500.48" y1="549.20" x2="500.48" y2="551.00" stroke="#666" stroke-width="0.7"/>
<line x1="510.70" y1="549.20" x2="510.70" y2="551.00" stroke="#666" stroke-width="0.7"/>
<line x1="520.92" y1="549.20" x2="520.92" y2="551.00" stroke="#666" stroke-width="0.7"/>
<line x1="531.14" y1="549.20" x2="531.14" y2="551.00" stroke="#666" stroke-width="0.7"/>
<line x1="541.36" y1="549.20" x2="541.36" y2="551.00" stroke="#666" stroke-width="0.7"/>
<line x1="551.58" y1="549.20" x2="551.58" y2="551.00" stroke="#666" stroke-width="0.7"/>
<line x1="561.80" y1="549.20" x2="561.80" y2="551.00" stroke="#666" stroke-width="0.7"/>
<line x1="572.02" y1="549.20" x2="572.02" y2="551.00" stroke="#666" stroke-width="0.7"/>
<line x1="582.24" y1="549.20" x2="582.24" y2="551.00" stroke="#666" stroke-width="0.7"/>
<line x1="592.46" y1="549.20" x2="592.46" y2="551.00" stroke="#666" stroke-width="0.7"/>
<line x1="602.68" y1="549.20" x2="602.68" y2="551.00" stroke="#666" stroke-width="0.7"/>
<line x1="612.90" y1="549.20" x2="612.90" y2="551.00" stroke="#666" stroke-width="0.7"/>
<line x1="623.12" y1="549.20" x2="623.12" y2="551.00" stroke="#666" stroke-width="0.7"/>
<line x1="633.34" y1="549.20" x2="633.34" y2="551.00" stroke="#666" stroke-width="0.7"/>
<line x1="643.56" y1="549.20" x2="643.56" y2="551.00" stroke="#666" stroke-width="0.7"/>
<line x1="653.78" y1="549.20" x2="653.78" y2="551.00" stroke="#666" stroke-width="0.7"/>
<line x1="664.00" y1="549.20" x2="664.00" y2="551.00" stroke="#666" stroke-width="0.7"/>
<line x1="674.22" y1="549.20" x2="674.22" y2="551.00" stroke="#666" stroke-width="0.7"/>
<text transform="translate(475.6,557.2) rotate(-45)" x="0" y="0" font-size="7.4" fill="#1a1a1a" text-anchor="end" stroke="#1a1a1a" stroke-width="0.35">12 am</text>
<text transform="translate(506.26,557.2) rotate(-45)" x="0" y="0" font-size="7.4" fill="#1a1a1a" text-anchor="end" stroke="#1a1a1a" stroke-width="0.35">3 pm</text>
<text transform="translate(536.92,557.2) rotate(-45)" x="0" y="0" font-size="7.4" fill="#1a1a1a" text-anchor="end" stroke="#1a1a1a" stroke-width="0.35">6 pm</text>
<text transform="translate(567.58,557.2) rotate(-45)" x="0" y="0" font-size="7.4" fill="#1a1a1a" text-anchor="end" stroke="#1a1a1a" stroke-width="0.35">9 pm</text>
<text transform="translate(598.24,557.2) rotate(-45)" x="0" y="0" font-size="7.4" fill="#1a1a1a" text-anchor="end" stroke="#1a1a1a" stroke-width="0.35">12 pm</text>
<text transform="translate(628.9,557.2) rotate(-45)" x="0" y="0" font-size="7.4" fill="#1a1a1a" text-anchor="end" stroke="#1a1a1a" stroke-width="0.35">3 am</text>
<text transform="translate(659.56,557.2) rotate(-45)" x="0" y="0" font-size="7.4" fill="#1a1a1a" text-anchor="end" stroke="#1a1a1a" stroke-width="0.35">6 am</text>
<line x1="458.80" y1="446.90" x2="481.00" y2="446.90" stroke="#000" stroke-width="2.3"/>
<text transform="translate(442.2,502.8) rotate(-90)" x="0" y="0" font-size="7.9" fill="#1a1a1a" text-anchor="middle" textLength="79.8" lengthAdjust="spacingAndGlyphs" stroke="#1a1a1a" stroke-width="0.35">Spindle density [1/min]</text>
<text x="535.9" y="580.6" font-size="7.8" fill="#1a1a1a" textLength="54.3" lengthAdjust="spacingAndGlyphs" stroke="#1a1a1a" stroke-width="0.35">Time of the day</text>
<text x="12.3" y="626.8" font-size="17.0" fill="#1a1a1a" stroke="#1a1a1a" stroke-width="0.40">K</text>
<text x="102.3" y="625" font-size="16" fill="#1a1a1a" textLength="37.2" lengthAdjust="spacingAndGlyphs" stroke="#1a1a1a" stroke-width="0.39">wake</text>
<g transform="translate(38.80,650.00)"><path d="M-9.8,53 C-6.5,57 -4.8,61 -4.6,69 Q0,69.8 4.3,69 C4.5,61 6.5,57 10,53 Z" fill="#e0b9b7" stroke="#d28d8b" stroke-width="0.7"/><path d="M-0.3,57 L-0.3,67" stroke="#ecd3d1" stroke-width="0.8"/><path d="M-17.5,42 C-19.5,47 -17,53.5 -9,55.5 C-4,56.5 4,56.5 9,55.5 C16.5,53.5 19.5,47 17.3,41 C15,36 -15,36 -17.5,42 Z" fill="#e0b9b7" stroke="#d28d8b" stroke-width="0.7"/><path d="M-13,42 C-10,48 -6,52 0,53 C6,52 10,48 13,42" fill="none" stroke="#d28d8b" stroke-width="0.5" opacity="0.7"/><path d="M-6,39 C-7,44 -3,46 0,45 C3,46 7,44 6,39" fill="none" stroke="#d28d8b" stroke-width="0.45" opacity="0.6"/><ellipse cx="-3.4" cy="5.2" rx="3.3" ry="5.2" fill="#e0b9b7" stroke="#d28d8b" stroke-width="0.6"/><ellipse cx="3.6" cy="5.2" rx="3.6" ry="5.2" fill="#e0b9b7" stroke="#d28d8b" stroke-width="0.6"/><path d="M-0.6,6.5 C-6,5 -12,9 -16.5,16.5 C-21,24 -22.6,31 -20.5,36 C-18.5,40.5 -11,41.5 -5,40 C-2,39 -0.6,37.5 -0.6,35 Z" fill="#e0b9b7" stroke="#d28d8b" stroke-width="0.8"/><path d="M0.4,6.5 C6,5 12,9 16.5,16.5 C21,24 22.6,31 20.5,36 C18.5,40.5 11,41.5 5,40 C2,39 0.4,37.5 0.4,35 Z" fill="#e0b9b7" stroke="#d28d8b" stroke-width="0.8"/><path d="M-2.5,14 L-2.5,24" stroke="#ecd0ce" stroke-width="0.6"/><path d="M2.5,10 L2.5,20" stroke="#ecd0ce" stroke-width="0.6"/></g>
<ellipse cx="32.20" cy="666.10" rx="2.1" ry="2.1" fill="#fff" stroke="#3535b5" stroke-width="1.2"/>
<text x="10" y="658.4" font-size="7.6" fill="#1a1a1a" textLength="24.4" lengthAdjust="spacingAndGlyphs" stroke="#1a1a1a" stroke-width="0.28">frontal</text>
<text x="10" y="668.1" font-size="7.6" fill="#1a1a1a" textLength="13.8" lengthAdjust="spacingAndGlyphs" stroke="#1a1a1a" stroke-width="0.28">EEG</text>
<text x="70" y="653.8" font-size="10.5" fill="#1a1a1a" textLength="35" lengthAdjust="spacingAndGlyphs" stroke="#1a1a1a" stroke-width="0.33">Vehicle</text>
<text x="70" y="695.8" font-size="10.5" fill="#1a1a1a" textLength="19.5" lengthAdjust="spacingAndGlyphs" stroke="#1a1a1a" stroke-width="0.33">DCZ</text>
<path d="M74.60,675.68 L75.30,674.22 L76.00,673.43 L76.70,673.18 L77.40,672.59 L78.10,669.53 L78.80,671.19 L79.50,669.71 L80.20,670.44 L80.90,670.31 L81.60,669.02 L82.30,669.47 L83.00,669.92 L83.70,671.91 L84.40,670.93 L85.10,670.51 L85.80,671.72 L86.50,671.61 L87.20,671.19 L87.90,673.92 L88.60,674.05 L89.30,671.65 L90.00,669.95 L90.70,673.51 L91.40,674.32 L92.10,673.57 L92.80,670.43 L93.50,670.19 L94.20,669.24 L94.90,670.59 L95.60,667.46 L96.30,667.85 L97.00,668.83 L97.70,668.66 L98.40,669.26 L99.10,670.56 L99.80,671.80 L100.50,672.17 L101.20,671.80 L101.90,672.75 L102.60,673.27 L103.30,672.98 L104.00,669.96 L104.70,673.69 L105.40,673.34 L106.10,673.32 L106.80,672.96 L107.50,674.93 L108.20,676.28 L108.90,674.04 L109.60,671.48 L110.30,672.35 L111.00,671.39 L111.70,672.57 L112.40,671.24 L113.10,674.03 L113.80,675.52 L114.50,673.81 L115.20,672.41 L115.90,671.00 L116.60,668.52 L117.30,667.37 L118.00,664.90 L118.70,666.07 L119.40,668.01 L120.10,666.63 L120.80,670.15 L121.50,672.08 L122.20,674.52 L122.90,673.91 L123.60,673.40 L124.30,675.51 L125.00,675.42 L125.70,671.71 L126.40,669.62 L127.10,670.28 L127.80,668.29 L128.50,671.46 L129.20,667.71 L129.90,671.42 L130.60,673.06 L131.30,674.52 L132.00,674.38 L132.70,675.53 L133.40,673.36 L134.10,670.64 L134.80,672.74 L135.50,670.81 L136.20,671.05 L136.90,671.12 L137.60,669.13 L138.30,670.45 L139.00,670.30 L139.70,669.70 L140.40,671.92 L141.10,669.76 L141.80,672.52 L142.50,670.94 L143.20,671.19 L143.90,672.85 L144.60,673.06 L145.30,669.97 L146.00,667.48 L146.70,667.36 L147.40,668.98 L148.10,671.06 L148.80,665.91 L149.50,668.43 L150.20,670.11 L150.90,668.63 L151.60,665.78 L152.30,665.87 L153.00,668.57 L153.70,668.51 L154.40,670.52 L155.10,669.47 L155.80,668.54 L156.50,667.94 L157.20,667.91 L157.90,670.23 L158.60,669.85 L159.30,670.87 L160.00,670.97 L160.70,670.35 L161.40,668.66 L162.10,669.79 L162.80,673.18 L163.50,677.48 L164.20,679.21 L164.90,677.81 L165.60,677.88 L166.30,676.48 L167.00,674.45 L167.70,673.22 L168.40,672.00 L169.10,668.52 L169.80,668.99 L170.50,671.51 L171.20,669.78 L171.90,670.88 L172.60,670.57 L173.30,672.13 L174.00,672.85 L174.70,673.69 L175.40,672.28 L176.10,673.05 L176.80,672.78 L177.50,670.18 L178.20,669.30 L178.90,670.09 L179.60,668.46 L180.30,671.78 L181.00,669.10 L181.70,672.81 L182.40,671.89 L183.10,673.05 L183.80,673.81 L184.50,673.08 L185.20,671.33 L185.90,672.40 L186.60,673.30 L187.30,672.27 L188.00,668.05 L188.70,673.10 L189.40,670.59 L190.10,671.81 L190.80,670.92 L191.50,670.63 L192.20,671.71 L192.90,670.76 L193.60,668.99 L194.30,671.06 L195.00,671.28 L195.70,670.14 L196.40,668.83 L197.10,668.77 L197.80,671.72 L198.50,672.34 L199.20,673.54 L199.90,674.22 L200.60,676.63 L201.30,673.83 L202.00,674.61 L202.70,675.78 L203.40,672.19 L204.10,673.57 L204.80,671.01 L205.50,672.81 L206.20,672.47" fill="none" stroke="#111111" stroke-width="1.10" stroke-linejoin="round"/>
<path d="M74.60,710.48 L75.30,713.13 L76.00,712.90 L76.70,711.79 L77.40,708.40 L78.10,705.73 L78.80,706.71 L79.50,708.85 L80.20,709.72 L80.90,711.12 L81.60,709.20 L82.30,708.03 L83.00,707.65 L83.70,710.50 L84.40,709.94 L85.10,713.84 L85.80,712.39 L86.50,714.82 L87.20,714.38 L87.90,714.61 L88.60,710.57 L89.30,711.29 L90.00,709.32 L90.70,708.29 L91.40,706.78 L92.10,708.30 L92.80,708.60 L93.50,710.24 L94.20,709.28 L94.90,711.83 L95.60,713.87 L96.30,710.22 L97.00,710.49 L97.70,710.82 L98.40,710.24 L99.10,708.06 L99.80,710.00 L100.50,709.24 L101.20,713.25 L101.90,708.67 L102.60,708.02 L103.30,705.06 L104.00,707.15 L104.70,707.79 L105.40,709.18 L106.10,709.03 L106.80,711.32 L107.50,711.48 L108.20,710.45 L108.90,713.84 L109.60,712.39 L110.30,707.71 L111.00,707.37 L111.70,707.02 L112.40,710.60 L113.10,709.83 L113.80,709.88 L114.50,703.69 L115.20,707.78 L115.90,707.91 L116.60,709.75 L117.30,714.76 L118.00,715.34 L118.70,716.03 L119.40,713.08 L120.10,711.72 L120.80,710.94 L121.50,708.60 L122.20,709.05 L122.90,713.50 L123.60,711.31 L124.30,713.09 L125.00,711.62 L125.70,708.45 L126.40,711.64 L127.10,709.92 L127.80,709.68 L128.50,711.37 L129.20,710.69 L129.90,712.40 L130.60,711.35 L131.30,710.82 L132.00,712.03 L132.70,709.31 L133.40,713.74 L134.10,713.03 L134.80,712.13 L135.50,714.81 L136.20,712.09 L136.90,710.18 L137.60,709.88 L138.30,708.38 L139.00,709.22 L139.70,710.93 L140.40,714.76 L141.10,713.21 L141.80,717.57 L142.50,718.52 L143.20,717.63 L143.90,716.87 L144.60,712.98 L145.30,710.30 L146.00,706.90 L146.70,707.12 L147.40,705.39 L148.10,708.53 L148.80,709.81 L149.50,710.15 L150.20,709.83 L150.90,713.44 L151.60,713.70 L152.30,711.85 L153.00,715.27 L153.70,713.79 L154.40,713.45 L155.10,712.07 L155.80,709.49 L156.50,709.28 L157.20,707.77 L157.90,705.18 L158.60,705.79 L159.30,708.28 L160.00,709.72 L160.70,711.39 L161.40,712.56 L162.10,711.48 L162.80,712.21 L163.50,712.92 L164.20,709.70 L164.90,707.21 L165.60,706.86 L166.30,708.05 L167.00,704.83 L167.70,704.17 L168.40,707.34 L169.10,706.38 L169.80,707.05 L170.50,706.91 L171.20,709.48 L171.90,707.50 L172.60,709.69 L173.30,709.10 L174.00,712.14 L174.70,713.35 L175.40,713.19 L176.10,712.76 L176.80,712.58 L177.50,711.42 L178.20,710.29 L178.90,708.58 L179.60,708.14 L180.30,706.41 L181.00,705.61 L181.70,706.97 L182.40,709.78 L183.10,707.81 L183.80,707.81 L184.50,707.60 L185.20,710.18 L185.90,710.99 L186.60,712.82 L187.30,711.54 L188.00,714.23 L188.70,711.49 L189.40,713.00 L190.10,714.70 L190.80,714.28 L191.50,714.86 L192.20,710.31 L192.90,711.12 L193.60,710.99 L194.30,710.16 L195.00,711.98 L195.70,712.61 L196.40,711.02 L197.10,709.89 L197.80,710.92 L198.50,711.35 L199.20,711.78 L199.90,713.68 L200.60,711.16 L201.30,708.07 L202.00,709.89 L202.70,709.77 L203.40,709.93 L204.10,711.03 L204.80,710.46 L205.50,709.55 L206.20,708.55" fill="none" stroke="#111111" stroke-width="1.10" stroke-linejoin="round"/>
<text x="224.9" y="625.2" font-size="17.0" fill="#1a1a1a" stroke="#1a1a1a" stroke-width="0.40">L</text>
<line x1="248.7" y1="630.5" x2="679" y2="630.5" stroke="#a3a3a3" stroke-width="2.6"/>
<text x="411.7" y="625.2" font-size="14.5" fill="#1a1a1a" textLength="86.6" lengthAdjust="spacingAndGlyphs" stroke="#1a1a1a" stroke-width="0.37">NREM sleep</text>
<rect x="290.00" y="639.20" width="45.60" height="56.10" fill="#e6f2f2"/>
<rect x="426.00" y="639.20" width="37.60" height="56.10" fill="#e6f2f2"/>
<rect x="499.30" y="639.20" width="31.50" height="56.10" fill="#e6f2f2"/>
<path d="M246.30,667.96 L247.00,666.69 L247.70,667.77 L248.40,668.83 L249.10,666.65 L249.80,665.83 L250.50,668.28 L251.20,666.43 L251.90,665.14 L252.60,665.07 L253.30,665.91 L254.00,667.70 L254.70,667.70 L255.40,667.26 L256.10,669.59 L256.80,668.90 L257.50,666.64 L258.20,668.10 L258.90,666.92 L259.60,665.70 L260.30,668.53 L261.00,667.17 L261.70,665.94 L262.40,671.14 L263.10,670.63 L263.80,669.68 L264.50,668.20 L265.20,665.33 L265.90,665.35 L266.60,665.44 L267.30,669.11 L268.00,670.48 L268.70,670.00 L269.40,674.42 L270.10,676.52 L270.80,678.56 L271.50,681.03 L272.20,680.78 L272.90,682.90 L273.60,681.24 L274.30,681.34 L275.00,682.45 L275.70,683.29 L276.40,682.01 L277.10,680.80 L277.80,680.28 L278.50,678.81 L279.20,678.21 L279.90,674.91 L280.60,672.52 L281.30,665.77 L282.00,664.26 L282.70,660.28 L283.40,660.30 L284.10,659.40 L284.80,658.46 L285.50,660.21 L286.20,663.25 L286.90,663.52 L287.60,664.81 L288.30,668.12 L289.00,667.41 L289.70,667.20 L290.40,663.68 L291.10,662.50 L291.80,661.63 L292.50,659.51 L293.20,662.70 L293.90,665.80 L294.60,667.48 L295.30,666.55 L296.00,666.27 L296.70,666.67 L297.40,661.46 L298.10,661.07 L298.80,662.82 L299.50,662.78 L300.20,667.23 L300.90,667.99 L301.60,670.45 L302.30,669.37 L303.00,667.51 L303.70,665.42 L304.40,663.53 L305.10,663.16 L305.80,661.68 L306.50,664.28 L307.20,669.28 L307.90,672.41 L308.60,676.85 L309.30,673.87 L310.00,673.01 L310.70,669.42 L311.40,666.83 L312.10,665.43 L312.80,667.68 L313.50,670.70 L314.20,672.56 L314.90,677.41 L315.60,677.20 L316.30,673.73 L317.00,672.27 L317.70,670.40 L318.40,668.28 L319.10,669.05 L319.80,671.51 L320.50,670.86 L321.20,672.05 L321.90,673.80 L322.60,675.03 L323.30,672.16 L324.00,671.81 L324.70,668.47 L325.40,667.02 L326.10,665.12 L326.80,663.77 L327.50,663.86 L328.20,663.91 L328.90,662.15 L329.60,663.37 L330.30,664.76 L331.00,671.68 L331.70,671.77 L332.40,674.19 L333.10,672.63 L333.80,672.81 L334.50,669.11 L335.20,669.88 L335.90,666.26 L336.60,665.51 L337.30,668.91 L338.00,667.91 L338.70,666.56 L339.40,665.81 L340.10,665.50 L340.80,665.63 L341.50,665.73 L342.20,667.20 L342.90,667.45 L343.60,665.57 L344.30,666.09 L345.00,664.88 L345.70,663.64 L346.40,665.70 L347.10,665.73 L347.80,665.02 L348.50,664.82 L349.20,664.33 L349.90,666.33 L350.60,668.29 L351.30,670.00 L352.00,672.00 L352.70,669.44 L353.40,669.61 L354.10,672.54 L354.80,670.74 L355.50,669.79 L356.20,669.35 L356.90,666.64 L357.60,666.57 L358.30,665.64 L359.00,666.27 L359.70,667.11 L360.40,665.54 L361.10,665.89 L361.80,665.92 L362.50,669.24 L363.20,666.61 L363.90,670.42 L364.60,669.63 L365.30,670.55 L366.00,671.44 L366.70,672.66 L367.40,673.03 L368.10,670.08 L368.80,671.20 L369.50,671.20 L370.20,671.23 L370.90,671.78 L371.60,670.60 L372.30,670.56 L373.00,672.22 L373.70,670.99 L374.40,667.53 L375.10,667.93 L375.80,668.37 L376.50,667.16 L377.20,670.30 L377.90,671.90 L378.60,668.72 L379.30,668.99 L380.00,668.79 L380.70,671.14 L381.40,672.41 L382.10,670.33 L382.80,669.82 L383.50,669.69 L384.20,671.52 L384.90,668.47 L385.60,666.32 L386.30,668.65 L387.00,667.56 L387.70,665.99 L388.40,666.02 L389.10,665.66 L389.80,669.72 L390.50,672.16 L391.20,673.74 L391.90,672.18 L392.60,672.13 L393.30,671.73 L394.00,674.94 L394.70,676.27 L395.40,679.84 L396.10,679.45 L396.80,680.09 L397.50,676.65 L398.20,678.63 L398.90,678.65 L399.60,675.44 L400.30,672.93 L401.00,671.41 L401.70,667.65 L402.40,668.49 L403.10,665.70 L403.80,661.89 L404.50,664.01 L405.20,664.94 L405.90,664.41 L406.60,666.10 L407.30,665.03 L408.00,666.17 L408.70,663.91 L409.40,665.73 L410.10,665.49 L410.80,661.53 L411.50,660.57 L412.20,659.16 L412.90,660.70 L413.60,662.78 L414.30,660.13 L415.00,664.00 L415.70,662.33 L416.40,664.32 L417.10,666.27 L417.80,666.74 L418.50,664.87 L419.20,666.33 L419.90,667.07 L420.60,667.82 L421.30,667.41 L422.00,667.02 L422.70,665.04 L423.40,665.70 L424.10,665.56 L424.80,666.97 L425.50,665.37 L426.20,668.61 L426.90,663.91 L427.60,663.36 L428.30,663.16 L429.00,667.65 L429.70,675.92 L430.40,678.20 L431.10,675.99 L431.80,667.54 L432.50,661.76 L433.20,662.66 L433.90,668.32 L434.60,674.24 L435.30,678.86 L436.00,678.91 L436.70,671.75 L437.40,664.48 L438.10,660.82 L438.80,663.18 L439.50,672.21 L440.20,680.43 L440.90,679.69 L441.60,673.82 L442.30,669.46 L443.00,666.00 L443.70,664.87 L444.40,674.55 L445.10,680.31 L445.80,678.53 L446.50,674.30 L447.20,667.42 L447.90,662.10 L448.60,665.31 L449.30,672.09 L450.00,677.29 L450.70,679.51 L451.40,678.03 L452.10,665.82 L452.80,661.95 L453.50,660.61 L454.20,665.18 L454.90,667.33 L455.60,677.23 L456.30,676.47 L457.00,670.51 L457.70,666.02 L458.40,663.96 L459.10,668.93 L459.80,676.86 L460.50,677.40 L461.20,673.92 L461.90,673.88 L462.60,670.74 L463.30,669.29 L464.00,670.05 L464.70,673.29 L465.40,674.46 L466.10,670.89 L466.80,672.32 L467.50,670.51 L468.20,672.14 L468.90,675.35 L469.60,672.09 L470.30,670.99 L471.00,674.56 L471.70,666.10 L472.40,669.65 L473.10,664.84 L473.80,662.92 L474.50,659.50 L475.20,659.67 L475.90,659.97 L476.60,663.96 L477.30,666.50 L478.00,667.58 L478.70,666.43 L479.40,667.64 L480.10,662.64 L480.80,661.74 L481.50,658.81 L482.20,661.25 L482.90,661.96 L483.60,664.14 L484.30,668.49 L485.00,667.43 L485.70,667.53 L486.40,666.57 L487.10,663.04 L487.80,665.79 L488.50,666.31 L489.20,666.74 L489.90,666.87 L490.60,669.58 L491.30,668.31 L492.00,669.11 L492.70,668.15 L493.40,666.10 L494.10,666.35 L494.80,667.19 L495.50,667.41 L496.20,667.99 L496.90,669.51 L497.60,669.32 L498.30,669.59 L499.00,672.62 L499.70,673.43 L500.40,667.16 L501.10,666.04 L501.80,661.85 L502.50,662.62 L503.20,671.50 L503.90,679.63 L504.60,678.93 L505.30,671.66 L506.00,667.68 L506.70,661.75 L507.40,661.44 L508.10,668.57 L508.80,679.16 L509.50,678.26 L510.20,676.39 L510.90,665.49 L511.60,660.82 L512.30,658.91 L513.00,665.85 L513.70,672.72 L514.40,679.15 L515.10,675.03 L515.80,669.61 L516.50,665.93 L517.20,664.55 L517.90,665.32 L518.60,670.73 L519.30,679.18 L520.00,677.41 L520.70,673.20 L521.40,668.56 L522.10,664.76 L522.80,665.43 L523.50,674.64 L524.20,679.45 L524.90,681.58 L525.60,673.22 L526.30,667.94 L527.00,663.93 L527.70,668.40 L528.40,671.41 L529.10,675.39 L529.80,677.99 L530.50,676.07 L531.20,677.02 L531.90,677.10 L532.60,676.72 L533.30,675.73 L534.00,672.40 L534.70,674.09 L535.40,670.53 L536.10,669.62 L536.80,670.81 L537.50,670.82 L538.20,666.70 L538.90,665.68 L539.60,667.18 L540.30,665.85 L541.00,664.34 L541.70,668.76 L542.40,669.21 L543.10,670.42 L543.80,666.53 L544.50,668.30 L545.20,664.67 L545.90,665.17 L546.60,665.06 L547.30,667.64 L548.00,669.55 L548.70,673.24 L549.40,673.61 L550.10,674.68 L550.80,676.14 L551.50,678.11 L552.20,679.04 L552.90,679.77 L553.60,673.34 L554.30,672.10 L555.00,671.59 L555.70,670.26 L556.40,665.65 L557.10,667.34 L557.80,661.51 L558.50,662.41 L559.20,662.56 L559.90,659.60 L560.60,661.14 L561.30,666.45 L562.00,664.66 L562.70,664.19 L563.40,663.65 L564.10,662.27 L564.80,663.81 L565.50,662.12 L566.20,662.67 L566.90,658.55 L567.60,660.30 L568.30,661.07 L569.00,659.31 L569.70,658.28 L570.40,662.16 L571.10,660.15 L571.80,660.93 L572.50,662.87 L573.20,663.81 L573.90,664.92 L574.60,665.86 L575.30,666.47 L576.00,666.04 L576.70,667.22 L577.40,665.03 L578.10,666.43 L578.80,666.01 L579.50,663.65 L580.20,668.20 L580.90,668.91 L581.60,671.24 L582.30,670.42 L583.00,670.89 L583.70,673.44 L584.40,679.32 L585.10,680.87 L585.80,678.26 L586.50,680.53 L587.20,682.85 L587.90,681.65 L588.60,678.88 L589.30,677.95 L590.00,675.02 L590.70,671.29 L591.40,669.31 L592.10,668.45 L592.80,664.95 L593.50,667.11 L594.20,668.46 L594.90,667.69 L595.60,667.38 L596.30,666.20 L597.00,667.37 L597.70,670.72 L598.40,670.26 L599.10,669.54 L599.80,670.25 L600.50,668.77 L601.20,668.05 L601.90,662.23 L602.60,658.94 L603.30,661.78 L604.00,664.69 L604.70,669.07 L605.40,670.34 L606.10,668.87 L606.80,670.98 L607.50,670.37 L608.20,673.49 L608.90,672.33 L609.60,673.99 L610.30,672.47 L611.00,668.99 L611.70,667.93 L612.40,665.03 L613.10,665.25 L613.80,673.03 L614.50,672.53 L615.20,677.00 L615.90,677.48 L616.60,678.03 L617.30,674.84 L618.00,672.56 L618.70,672.23 L619.40,669.60 L620.10,665.57 L620.80,665.28 L621.50,668.76 L622.20,666.34 L622.90,668.88 L623.60,670.86 L624.30,674.42 L625.00,674.30 L625.70,676.73 L626.40,677.15 L627.10,674.34 L627.80,674.60 L628.50,673.86 L629.20,676.63 L629.90,674.89 L630.60,676.14 L631.30,676.96 L632.00,675.91 L632.70,677.60 L633.40,674.08 L634.10,671.92 L634.80,669.64 L635.50,671.05 L636.20,670.48 L636.90,664.24 L637.60,662.97 L638.30,663.39 L639.00,667.58 L639.70,668.34 L640.40,672.35 L641.10,672.52 L641.80,675.19 L642.50,674.56 L643.20,670.80 L643.90,670.14 L644.60,670.07 L645.30,671.10 L646.00,670.60 L646.70,669.84 L647.40,671.82 L648.10,672.43 L648.80,673.23 L649.50,672.78 L650.20,672.20 L650.90,668.14 L651.60,666.47 L652.30,666.86 L653.00,668.42 L653.70,668.64 L654.40,668.80 L655.10,668.51 L655.80,669.65 L656.50,669.64 L657.20,670.75 L657.90,669.24 L658.60,670.26 L659.30,670.96 L660.00,670.62 L660.70,671.71 L661.40,671.89 L662.10,669.74 L662.80,671.63 L663.50,671.92 L664.20,670.41 L664.90,668.06 L665.60,669.56 L666.30,668.42 L667.00,666.88 L667.70,667.44 L668.40,667.74 L669.10,667.24 L669.80,666.84 L670.50,665.90 L671.20,665.07 L671.90,668.37 L672.60,664.26 L673.30,663.83 L674.00,665.01 L674.70,665.29 L675.40,663.33 L676.10,664.60 L676.80,663.89 L677.50,664.11 L678.20,663.75 L678.90,663.98 L679.60,665.31 L680.30,665.48 L681.00,665.00 L681.70,663.37 L682.40,663.87 L683.10,665.33 L683.80,665.34 L684.50,663.68" fill="none" stroke="#111111" stroke-width="1.00" stroke-linejoin="round"/>
<path d="M246.00,708.98 L246.70,707.49 L247.40,707.71 L248.10,707.09 L248.80,710.01 L249.50,709.27 L250.20,709.76 L250.90,708.43 L251.60,710.94 L252.30,709.60 L253.00,711.17 L253.70,711.70 L254.40,710.57 L255.10,710.51 L255.80,711.84 L256.50,711.40 L257.20,710.78 L257.90,709.96 L258.60,713.03 L259.30,713.40 L260.00,712.55 L260.70,713.30 L261.40,711.71 L262.10,709.64 L262.80,711.46 L263.50,708.94 L264.20,711.10 L264.90,709.99 L265.60,710.58 L266.30,710.43 L267.00,709.57 L267.70,709.48 L268.40,709.94 L269.10,708.52 L269.80,708.76 L270.50,708.46 L271.20,707.78 L271.90,709.11 L272.60,708.33 L273.30,707.31 L274.00,708.21 L274.70,709.47 L275.40,710.26 L276.10,711.25 L276.80,710.64 L277.50,711.39 L278.20,710.68 L278.90,711.88 L279.60,712.52 L280.30,713.95 L281.00,712.54 L281.70,714.44 L282.40,712.40 L283.10,712.71 L283.80,714.00 L284.50,711.44 L285.20,710.89 L285.90,710.41 L286.60,708.69 L287.30,708.35 L288.00,708.88 L288.70,708.72 L289.40,711.80 L290.10,712.60 L290.80,711.68 L291.50,711.37 L292.20,710.60 L292.90,710.38 L293.60,710.54 L294.30,710.72 L295.00,710.34 L295.70,711.20 L296.40,711.67 L297.10,709.67 L297.80,709.99 L298.50,708.25 L299.20,710.34 L299.90,710.57 L300.60,710.65 L301.30,710.13 L302.00,708.71 L302.70,710.71 L303.40,708.93 L304.10,709.16 L304.80,711.47 L305.50,711.20 L306.20,710.61 L306.90,710.15 L307.60,713.53 L308.30,714.79 L309.00,713.71 L309.70,718.13 L310.40,719.25 L311.10,718.94 L311.80,722.45 L312.50,723.26 L313.20,721.29 L313.90,717.31 L314.60,717.47 L315.30,713.68 L316.00,713.56 L316.70,709.20 L317.40,707.56 L318.10,706.40 L318.80,707.18 L319.50,706.46 L320.20,710.09 L320.90,709.75 L321.60,710.87 L322.30,711.15 L323.00,710.12 L323.70,710.22 L324.40,710.25 L325.10,710.00 L325.80,708.80 L326.50,711.06 L327.20,708.43 L327.90,709.04 L328.60,710.63 L329.30,708.22 L330.00,709.40 L330.70,710.62 L331.40,707.68 L332.10,708.92 L332.80,707.87 L333.50,710.35 L334.20,709.60 L334.90,710.48 L335.60,711.55 L336.30,712.07 L337.00,710.51 L337.70,710.85 L338.40,711.10 L339.10,711.27 L339.80,711.31 L340.50,711.11 L341.20,710.11 L341.90,708.99 L342.60,709.71 L343.30,710.87 L344.00,708.05 L344.70,708.66 L345.40,711.02 L346.10,713.96 L346.80,715.89 L347.50,715.77 L348.20,713.46 L348.90,713.24 L349.60,710.45 L350.30,706.67 L351.00,706.04 L351.70,706.29 L352.40,708.12 L353.10,709.59 L353.80,709.14 L354.50,709.93 L355.20,710.96 L355.90,712.90 L356.60,713.83 L357.30,714.94 L358.00,715.75 L358.70,717.99 L359.40,717.11 L360.10,715.49 L360.80,714.12 L361.50,710.41 L362.20,710.97 L362.90,708.63 L363.60,710.40 L364.30,711.86 L365.00,713.21 L365.70,713.52 L366.40,712.20 L367.10,711.44 L367.80,712.06 L368.50,711.41 L369.20,711.65 L369.90,713.72 L370.60,710.81 L371.30,709.57 L372.00,708.22 L372.70,711.77 L373.40,709.14 L374.10,710.36 L374.80,708.76 L375.50,710.63 L376.20,710.96 L376.90,711.50 L377.60,711.64 L378.30,709.08 L379.00,707.97 L379.70,711.58 L380.40,711.87 L381.10,712.70 L381.80,709.70 L382.50,711.77 L383.20,711.27 L383.90,712.01 L384.60,709.36 L385.30,708.47 L386.00,707.39 L386.70,705.30 L387.40,707.08 L388.10,705.42 L388.80,706.72 L389.50,707.32 L390.20,706.77 L390.90,710.27 L391.60,710.84 L392.30,709.56 L393.00,708.56 L393.70,708.22 L394.40,709.11 L395.10,708.18 L395.80,709.16 L396.50,709.85 L397.20,709.33 L397.90,710.88 L398.60,710.16 L399.30,709.94 L400.00,710.24 L400.70,709.71 L401.40,710.53 L402.10,710.23 L402.80,710.08 L403.50,711.79 L404.20,711.77 L404.90,711.57 L405.60,710.74 L406.30,707.87 L407.00,708.10 L407.70,709.89 L408.40,710.44 L409.10,708.20 L409.80,708.72 L410.50,709.11 L411.20,710.06 L411.90,711.89 L412.60,710.31 L413.30,710.87 L414.00,708.88 L414.70,707.31 L415.40,706.57 L416.10,707.95 L416.80,707.42 L417.50,710.67 L418.20,709.81 L418.90,712.16 L419.60,713.13 L420.30,712.40 L421.00,710.46 L421.70,710.53 L422.40,709.28 L423.10,711.91 L423.80,712.23 L424.50,711.39 L425.20,710.93 L425.90,710.51 L426.60,712.09 L427.30,709.64 L428.00,707.94 L428.70,706.47 L429.40,707.31 L430.10,707.89 L430.80,710.07 L431.50,710.68 L432.20,712.36 L432.90,711.26 L433.60,711.85 L434.30,712.19 L435.00,713.31 L435.70,715.60 L436.40,716.20 L437.10,717.80 L437.80,719.29 L438.50,717.28 L439.20,715.36 L439.90,716.96 L440.60,716.40 L441.30,715.35 L442.00,714.08 L442.70,712.33 L443.40,711.10 L444.10,710.60 L444.80,708.24 L445.50,709.71 L446.20,709.35 L446.90,707.20 L447.60,706.40 L448.30,704.95 L449.00,708.01 L449.70,708.64 L450.40,710.12 L451.10,706.90 L451.80,706.01 L452.50,707.85 L453.20,707.92 L453.90,707.74 L454.60,707.01 L455.30,709.44 L456.00,709.46 L456.70,709.90 L457.40,710.74 L458.10,710.60 L458.80,710.34 L459.50,708.28 L460.20,708.44 L460.90,709.83 L461.60,710.25 L462.30,708.44 L463.00,709.38 L463.70,709.09 L464.40,708.80 L465.10,708.17 L465.80,711.03 L466.50,709.97 L467.20,709.53 L467.90,710.28 L468.60,709.32 L469.30,709.18 L470.00,709.34 L470.70,709.98 L471.40,708.15 L472.10,705.97 L472.80,705.86 L473.50,707.57 L474.20,707.45 L474.90,707.01 L475.60,706.56 L476.30,709.35 L477.00,709.33 L477.70,711.64 L478.40,709.16 L479.10,709.42 L479.80,709.99 L480.50,708.85 L481.20,709.01 L481.90,707.97 L482.60,707.56 L483.30,708.16 L484.00,707.10 L484.70,707.28 L485.40,708.04 L486.10,708.22 L486.80,709.77 L487.50,708.22 L488.20,707.50 L488.90,706.89 L489.60,707.93 L490.30,711.47 L491.00,712.45 L491.70,708.55 L492.40,709.75 L493.10,709.55 L493.80,708.20 L494.50,707.54 L495.20,709.50 L495.90,709.90 L496.60,711.79 L497.30,710.61 L498.00,710.53 L498.70,708.62 L499.40,709.43 L500.10,707.19 L500.80,707.52 L501.50,707.28 L502.20,705.74 L502.90,708.99 L503.60,706.92 L504.30,706.10 L505.00,706.11 L505.70,709.05 L506.40,707.89 L507.10,706.95 L507.80,708.85 L508.50,707.72 L509.20,706.72 L509.90,706.86 L510.60,708.36 L511.30,704.78 L512.00,706.74 L512.70,708.61 L513.40,707.23 L514.10,707.50 L514.80,707.90 L515.50,709.55 L516.20,707.29 L516.90,709.02 L517.60,709.52 L518.30,707.70 L519.00,707.79 L519.70,709.06 L520.40,710.43 L521.10,711.46 L521.80,711.53 L522.50,710.15 L523.20,711.10 L523.90,707.99 L524.60,711.70 L525.30,710.29 L526.00,709.33 L526.70,707.89 L527.40,706.32 L528.10,706.59 L528.80,706.12 L529.50,707.94 L530.20,707.05 L530.90,709.07 L531.60,711.84 L532.30,710.45 L533.00,711.37 L533.70,709.62 L534.40,709.95 L535.10,707.95 L535.80,712.42 L536.50,713.17 L537.20,713.88 L537.90,713.36 L538.60,712.64 L539.30,714.61 L540.00,715.24 L540.70,715.74 L541.40,717.46 L542.10,719.94 L542.80,719.65 L543.50,718.49 L544.20,720.52 L544.90,720.54 L545.60,720.16 L546.30,718.46 L547.00,717.50 L547.70,716.36 L548.40,716.36 L549.10,714.71 L549.80,712.89 L550.50,711.30 L551.20,710.86 L551.90,710.26 L552.60,710.53 L553.30,709.39 L554.00,710.83 L554.70,714.13 L555.40,715.49 L556.10,715.33 L556.80,712.84 L557.50,712.00 L558.20,710.47 L558.90,709.58 L559.60,707.22 L560.30,707.23 L561.00,707.55 L561.70,709.58 L562.40,709.99 L563.10,709.07 L563.80,709.31 L564.50,711.21 L565.20,711.90 L565.90,711.58 L566.60,710.57 L567.30,711.72 L568.00,711.46 L568.70,710.73 L569.40,710.13 L570.10,707.86 L570.80,706.47 L571.50,707.77 L572.20,707.64 L572.90,708.41 L573.60,708.04 L574.30,710.53 L575.00,713.41 L575.70,719.98 L576.40,723.70 L577.10,723.11 L577.80,721.12 L578.50,720.94 L579.20,715.41 L579.90,713.83 L580.60,710.94 L581.30,707.43 L582.00,706.29 L582.70,704.94 L583.40,704.60 L584.10,705.05 L584.80,705.89 L585.50,708.20 L586.20,709.31 L586.90,712.37 L587.60,712.82 L588.30,710.96 L589.00,711.89 L589.70,710.19 L590.40,709.90 L591.10,707.56 L591.80,707.30 L592.50,708.77 L593.20,710.15 L593.90,708.69 L594.60,709.65 L595.30,711.69 L596.00,710.56 L596.70,711.64 L597.40,711.15 L598.10,712.54 L598.80,711.67 L599.50,711.72 L600.20,712.81 L600.90,710.85 L601.60,710.84 L602.30,712.82 L603.00,709.49 L603.70,711.51 L604.40,711.67 L605.10,709.70 L605.80,709.91 L606.50,712.34 L607.20,709.72 L607.90,709.80 L608.60,710.71 L609.30,711.79 L610.00,711.68 L610.70,708.78 L611.40,710.07 L612.10,710.54 L612.80,710.82 L613.50,710.47 L614.20,708.57 L614.90,708.07 L615.60,710.59 L616.30,710.47 L617.00,709.28 L617.70,711.92 L618.40,709.88 L619.10,711.35 L619.80,709.62 L620.50,709.76 L621.20,709.59 L621.90,709.64 L622.60,711.60 L623.30,711.08 L624.00,710.27 L624.70,710.12 L625.40,710.69 L626.10,711.82 L626.80,711.43 L627.50,712.19 L628.20,708.58 L628.90,710.20 L629.60,708.74 L630.30,709.65 L631.00,708.44 L631.70,708.26 L632.40,710.04 L633.10,709.75 L633.80,708.03 L634.50,707.89 L635.20,707.88 L635.90,707.36 L636.60,711.13 L637.30,711.09 L638.00,711.39 L638.70,711.78 L639.40,710.78 L640.10,710.64 L640.80,709.93 L641.50,709.25 L642.20,711.11 L642.90,711.01 L643.60,712.37 L644.30,710.43 L645.00,712.27 L645.70,710.46 L646.40,710.87 L647.10,710.50 L647.80,709.79 L648.50,710.84 L649.20,713.61 L649.90,711.11 L650.60,712.11 L651.30,711.88 L652.00,711.38 L652.70,711.38 L653.40,711.57 L654.10,713.12 L654.80,712.75 L655.50,713.69 L656.20,713.47 L656.90,712.11 L657.60,712.11 L658.30,711.26 L659.00,713.07 L659.70,712.36 L660.40,710.44 L661.10,712.51 L661.80,710.53 L662.50,712.51 L663.20,713.09 L663.90,711.52 L664.60,712.25 L665.30,710.41 L666.00,711.73 L666.70,712.05 L667.40,711.16 L668.10,712.89 L668.80,712.04 L669.50,712.62 L670.20,713.07 L670.90,712.12 L671.60,712.33 L672.30,711.95 L673.00,713.94 L673.70,714.12 L674.40,714.13 L675.10,715.18 L675.80,713.13 L676.50,712.27 L677.20,711.32 L677.90,711.03 L678.60,708.71 L679.30,707.34 L680.00,710.03 L680.70,709.45 L681.40,711.19 L682.10,709.41 L682.80,709.60 L683.50,710.44 L684.20,708.95 L684.90,711.50" fill="none" stroke="#111111" stroke-width="1.00" stroke-linejoin="round"/>
<path d="M646.00,694.50 L679.80,694.50 L679.80,679.50" fill="none" stroke="#111" stroke-width="1.6"/>
<text x="643.7" y="688.3" font-size="7.8" fill="#1a1a1a" textLength="25.0" lengthAdjust="spacingAndGlyphs" stroke="#1a1a1a" stroke-width="0.35">0.4 mV</text>
<text x="652.9" y="703.3" font-size="7.8" fill="#1a1a1a" textLength="16.9" lengthAdjust="spacingAndGlyphs" stroke="#1a1a1a" stroke-width="0.35">0.5 s</text>
<text x="11.9" y="731.6" font-size="17.0" fill="#1a1a1a" stroke="#1a1a1a" stroke-width="0.40">M</text>
<path d="M34.50,777.44 C37.26,777.44 46.54,777.74 51.04,777.44 C55.54,777.14 57.76,774.88 61.49,775.62 C65.23,776.36 69.53,780.52 73.48,781.86 C77.43,783.20 81.50,783.81 85.22,783.68 C88.94,783.55 93.40,780.78 95.80,781.08 C98.19,781.38 97.63,782.42 99.57,785.50 C101.51,788.58 104.58,796.46 107.44,799.54 C110.30,802.62 113.02,802.05 116.74,803.96 C120.47,805.87 125.02,809.16 129.81,810.98 C134.61,812.80 139.40,813.28 145.51,814.88 C151.61,816.48 160.53,818.09 166.46,820.60 C172.38,823.11 176.25,828.05 181.08,829.96 C185.90,831.87 191.44,831.74 195.39,832.04 C199.33,832.34 203.19,831.82 204.75,831.78" fill="none" stroke="#d81e3a" stroke-opacity="0.2" stroke-width="2.16" stroke-linejoin="round" stroke-linecap="round"/>
<path d="M34.50,777.44 C37.26,777.44 46.54,777.74 51.04,777.44 C55.54,777.14 57.76,774.88 61.49,775.62 C65.23,776.36 69.53,780.52 73.48,781.86 C77.43,783.20 81.50,783.81 85.22,783.68 C88.94,783.55 93.40,780.78 95.80,781.08 C98.19,781.38 97.63,782.42 99.57,785.50 C101.51,788.58 104.58,796.46 107.44,799.54 C110.30,802.62 113.02,802.05 116.74,803.96 C120.47,805.87 125.02,809.16 129.81,810.98 C134.61,812.80 139.40,813.28 145.51,814.88 C151.61,816.48 160.53,818.09 166.46,820.60 C172.38,823.11 176.25,828.05 181.08,829.96 C185.90,831.87 191.44,831.74 195.39,832.04 C199.33,832.34 203.19,831.82 204.75,831.78" fill="none" stroke="#d81e3a" stroke-width="1.35" stroke-linejoin="round" stroke-linecap="round"/>
<path d="M34.50,779.00 C37.69,778.96 48.69,778.18 53.64,778.74 C58.59,779.30 59.61,781.25 64.20,782.38 C68.79,783.51 76.79,785.50 81.15,785.50 C85.51,785.50 87.92,782.38 90.36,782.38 C92.80,782.38 93.59,783.20 95.80,785.50 C98.00,787.80 100.95,793.82 103.59,796.16 C106.23,798.50 108.12,797.46 111.63,799.54 C115.14,801.62 119.84,806.30 124.64,808.64 C129.43,810.98 135.15,811.37 140.39,813.58 C145.62,815.79 150.79,818.65 156.04,821.90 C161.28,825.15 167.03,830.00 171.85,833.08 C176.67,836.16 179.46,839.02 184.94,840.36 C190.43,841.70 201.45,841.01 204.75,841.14" fill="none" stroke="#1414f0" stroke-opacity="0.2" stroke-width="2.16" stroke-linejoin="round" stroke-linecap="round"/>
<path d="M34.50,779.00 C37.69,778.96 48.69,778.18 53.64,778.74 C58.59,779.30 59.61,781.25 64.20,782.38 C68.79,783.51 76.79,785.50 81.15,785.50 C85.51,785.50 87.92,782.38 90.36,782.38 C92.80,782.38 93.59,783.20 95.80,785.50 C98.00,787.80 100.95,793.82 103.59,796.16 C106.23,798.50 108.12,797.46 111.63,799.54 C115.14,801.62 119.84,806.30 124.64,808.64 C129.43,810.98 135.15,811.37 140.39,813.58 C145.62,815.79 150.79,818.65 156.04,821.90 C161.28,825.15 167.03,830.00 171.85,833.08 C176.67,836.16 179.46,839.02 184.94,840.36 C190.43,841.70 201.45,841.01 204.75,841.14" fill="none" stroke="#1414f0" stroke-width="1.35" stroke-linejoin="round" stroke-linecap="round"/>
<rect x="34.50" y="737.40" width="172.00" height="117.00" fill="none" stroke="#666" stroke-width="0.9"/>
<line x1="32.50" y1="737.40" x2="34.50" y2="737.40" stroke="#666" stroke-width="0.8"/>
<text x="31.5" y="740" font-size="7.3" fill="#1a1a1a" text-anchor="end" stroke="#1a1a1a" stroke-width="0.35">-20</text>
<line x1="32.50" y1="750.40" x2="34.50" y2="750.40" stroke="#666" stroke-width="0.8"/>
<text x="31.5" y="753" font-size="7.3" fill="#1a1a1a" text-anchor="end" stroke="#1a1a1a" stroke-width="0.35">-25</text>
<line x1="32.50" y1="763.40" x2="34.50" y2="763.40" stroke="#666" stroke-width="0.8"/>
<text x="31.5" y="766" font-size="7.3" fill="#1a1a1a" text-anchor="end" stroke="#1a1a1a" stroke-width="0.35">-30</text>
<line x1="32.50" y1="776.40" x2="34.50" y2="776.40" stroke="#666" stroke-width="0.8"/>
<text x="31.5" y="779" font-size="7.3" fill="#1a1a1a" text-anchor="end" stroke="#1a1a1a" stroke-width="0.35">-35</text>
<line x1="32.50" y1="789.40" x2="34.50" y2="789.40" stroke="#666" stroke-width="0.8"/>
<text x="31.5" y="792" font-size="7.3" fill="#1a1a1a" text-anchor="end" stroke="#1a1a1a" stroke-width="0.35">-40</text>
<line x1="32.50" y1="802.40" x2="34.50" y2="802.40" stroke="#666" stroke-width="0.8"/>
<text x="31.5" y="805" font-size="7.3" fill="#1a1a1a" text-anchor="end" stroke="#1a1a1a" stroke-width="0.35">-45</text>
<line x1="32.50" y1="815.40" x2="34.50" y2="815.40" stroke="#666" stroke-width="0.8"/>
<text x="31.5" y="818" font-size="7.3" fill="#1a1a1a" text-anchor="end" stroke="#1a1a1a" stroke-width="0.35">-50</text>
<line x1="32.50" y1="828.40" x2="34.50" y2="828.40" stroke="#666" stroke-width="0.8"/>
<text x="31.5" y="831" font-size="7.3" fill="#1a1a1a" text-anchor="end" stroke="#1a1a1a" stroke-width="0.35">-55</text>
<line x1="32.50" y1="841.40" x2="34.50" y2="841.40" stroke="#666" stroke-width="0.8"/>
<text x="31.5" y="844" font-size="7.3" fill="#1a1a1a" text-anchor="end" stroke="#1a1a1a" stroke-width="0.35">-60</text>
<line x1="32.50" y1="854.40" x2="34.50" y2="854.40" stroke="#666" stroke-width="0.8"/>
<text x="31.5" y="857" font-size="7.3" fill="#1a1a1a" text-anchor="end" stroke="#1a1a1a" stroke-width="0.35">-65</text>
<line x1="34.50" y1="854.40" x2="34.50" y2="856.60" stroke="#666" stroke-width="0.7"/>
<line x1="55.87" y1="854.40" x2="55.87" y2="855.60" stroke="#666" stroke-width="0.7"/>
<line x1="68.38" y1="854.40" x2="68.38" y2="855.60" stroke="#666" stroke-width="0.7"/>
<line x1="77.25" y1="854.40" x2="77.25" y2="855.60" stroke="#666" stroke-width="0.7"/>
<line x1="84.13" y1="854.40" x2="84.13" y2="855.60" stroke="#666" stroke-width="0.7"/>
<line x1="89.75" y1="854.40" x2="89.75" y2="855.60" stroke="#666" stroke-width="0.7"/>
<line x1="94.50" y1="854.40" x2="94.50" y2="855.60" stroke="#666" stroke-width="0.7"/>
<line x1="98.62" y1="854.40" x2="98.62" y2="855.60" stroke="#666" stroke-width="0.7"/>
<line x1="102.25" y1="854.40" x2="102.25" y2="855.60" stroke="#666" stroke-width="0.7"/>
<text x="34.5" y="865" font-size="7.5" fill="#1a1a1a" text-anchor="middle" stroke="#1a1a1a" stroke-width="0.35">1</text>
<line x1="105.50" y1="854.40" x2="105.50" y2="856.60" stroke="#666" stroke-width="0.7"/>
<line x1="126.87" y1="854.40" x2="126.87" y2="855.60" stroke="#666" stroke-width="0.7"/>
<line x1="139.38" y1="854.40" x2="139.38" y2="855.60" stroke="#666" stroke-width="0.7"/>
<line x1="148.25" y1="854.40" x2="148.25" y2="855.60" stroke="#666" stroke-width="0.7"/>
<line x1="155.13" y1="854.40" x2="155.13" y2="855.60" stroke="#666" stroke-width="0.7"/>
<line x1="160.75" y1="854.40" x2="160.75" y2="855.60" stroke="#666" stroke-width="0.7"/>
<line x1="165.50" y1="854.40" x2="165.50" y2="855.60" stroke="#666" stroke-width="0.7"/>
<line x1="169.62" y1="854.40" x2="169.62" y2="855.60" stroke="#666" stroke-width="0.7"/>
<line x1="173.25" y1="854.40" x2="173.25" y2="855.60" stroke="#666" stroke-width="0.7"/>
<text x="105.5" y="865" font-size="7.5" fill="#1a1a1a" text-anchor="middle" stroke="#1a1a1a" stroke-width="0.35">10</text>
<line x1="176.50" y1="854.40" x2="176.50" y2="856.60" stroke="#666" stroke-width="0.7"/>
<line x1="197.87" y1="854.40" x2="197.87" y2="855.60" stroke="#666" stroke-width="0.7"/>
<text x="176.5" y="865" font-size="7.5" fill="#1a1a1a" text-anchor="middle" stroke="#1a1a1a" stroke-width="0.35">100</text>
<line x1="54.20" y1="739.50" x2="84.70" y2="739.50" stroke="#000" stroke-width="2.3"/>
<line x1="143.00" y1="739.50" x2="206.50" y2="739.50" stroke="#000" stroke-width="2.3"/>
<text transform="translate(12.4,798) rotate(-90)" x="0" y="0" font-size="8.0" fill="#1a1a1a" text-anchor="middle" textLength="38.2" lengthAdjust="spacingAndGlyphs" stroke="#1a1a1a" stroke-width="0.35">Power [dB]</text>
<text x="85.7" y="874" font-size="7.8" fill="#1a1a1a" textLength="51.4" lengthAdjust="spacingAndGlyphs" stroke="#1a1a1a" stroke-width="0.35">Frequency [Hz]</text>
<text x="224.6" y="733.4" font-size="17.5" fill="#1a1a1a" stroke="#1a1a1a" stroke-width="0.41">N</text>
<path d="M249.50,766.93 C251.82,766.11 257.59,761.62 263.41,762.01 C269.22,762.40 277.61,767.52 284.39,769.28 C291.16,771.04 297.95,769.94 304.07,772.56 C310.19,775.18 316.50,782.01 321.11,784.98 C325.72,787.95 328.23,787.76 331.74,790.37 C335.26,792.99 337.83,797.29 342.18,800.69 C346.53,804.09 351.75,807.49 357.87,810.77 C363.99,814.05 373.23,816.59 378.92,820.38 C384.61,824.17 388.09,830.30 392.02,833.50 C395.95,836.71 397.91,838.15 402.53,839.60 C407.15,841.04 416.88,841.75 419.75,842.18" fill="none" stroke="#d81e3a" stroke-opacity="0.2" stroke-width="2.34" stroke-linejoin="round" stroke-linecap="round"/>
<path d="M249.50,766.93 C251.82,766.11 257.59,761.62 263.41,762.01 C269.22,762.40 277.61,767.52 284.39,769.28 C291.16,771.04 297.95,769.94 304.07,772.56 C310.19,775.18 316.50,782.01 321.11,784.98 C325.72,787.95 328.23,787.76 331.74,790.37 C335.26,792.99 337.83,797.29 342.18,800.69 C346.53,804.09 351.75,807.49 357.87,810.77 C363.99,814.05 373.23,816.59 378.92,820.38 C384.61,824.17 388.09,830.30 392.02,833.50 C395.95,836.71 397.91,838.15 402.53,839.60 C407.15,841.04 416.88,841.75 419.75,842.18" fill="none" stroke="#d81e3a" stroke-width="1.35" stroke-linejoin="round" stroke-linecap="round"/>
<path d="M249.50,767.87 C252.04,767.29 258.94,764.24 264.75,764.36 C270.57,764.47 277.83,767.21 284.39,768.58 C290.94,769.94 298.37,770.80 304.07,772.56 C309.77,774.32 314.43,777.37 318.59,779.12 C322.76,780.88 325.55,780.18 329.06,783.11 C332.57,786.04 335.25,792.44 339.64,796.70 C344.02,800.96 349.72,804.48 355.39,808.66 C361.05,812.84 368.38,817.96 373.62,821.78 C378.87,825.61 382.46,828.78 386.85,831.63 C391.24,834.48 394.46,837.14 399.94,838.90 C405.43,840.65 416.45,841.63 419.75,842.18" fill="none" stroke="#1414f0" stroke-opacity="0.2" stroke-width="2.34" stroke-linejoin="round" stroke-linecap="round"/>
<path d="M249.50,767.87 C252.04,767.29 258.94,764.24 264.75,764.36 C270.57,764.47 277.83,767.21 284.39,768.58 C290.94,769.94 298.37,770.80 304.07,772.56 C309.77,774.32 314.43,777.37 318.59,779.12 C322.76,780.88 325.55,780.18 329.06,783.11 C332.57,786.04 335.25,792.44 339.64,796.70 C344.02,800.96 349.72,804.48 355.39,808.66 C361.05,812.84 368.38,817.96 373.62,821.78 C378.87,825.61 382.46,828.78 386.85,831.63 C391.24,834.48 394.46,837.14 399.94,838.90 C405.43,840.65 416.45,841.63 419.75,842.18" fill="none" stroke="#1414f0" stroke-width="1.35" stroke-linejoin="round" stroke-linecap="round"/>
<rect x="249.50" y="737.40" width="171.00" height="117.20" fill="none" stroke="#666" stroke-width="0.9"/>
<line x1="247.50" y1="737.40" x2="249.50" y2="737.40" stroke="#666" stroke-width="0.8"/>
<text x="246.5" y="740" font-size="7.3" fill="#1a1a1a" text-anchor="end" stroke="#1a1a1a" stroke-width="0.35">-20</text>
<line x1="247.50" y1="760.84" x2="249.50" y2="760.84" stroke="#666" stroke-width="0.8"/>
<text x="246.5" y="763.44" font-size="7.3" fill="#1a1a1a" text-anchor="end" stroke="#1a1a1a" stroke-width="0.35">-30</text>
<line x1="247.50" y1="784.28" x2="249.50" y2="784.28" stroke="#666" stroke-width="0.8"/>
<text x="246.5" y="786.88" font-size="7.3" fill="#1a1a1a" text-anchor="end" stroke="#1a1a1a" stroke-width="0.35">-40</text>
<line x1="247.50" y1="807.72" x2="249.50" y2="807.72" stroke="#666" stroke-width="0.8"/>
<text x="246.5" y="810.32" font-size="7.3" fill="#1a1a1a" text-anchor="end" stroke="#1a1a1a" stroke-width="0.35">-50</text>
<line x1="247.50" y1="831.16" x2="249.50" y2="831.16" stroke="#666" stroke-width="0.8"/>
<text x="246.5" y="833.76" font-size="7.3" fill="#1a1a1a" text-anchor="end" stroke="#1a1a1a" stroke-width="0.35">-60</text>
<line x1="247.50" y1="854.60" x2="249.50" y2="854.60" stroke="#666" stroke-width="0.8"/>
<text x="246.5" y="857.2" font-size="7.3" fill="#1a1a1a" text-anchor="end" stroke="#1a1a1a" stroke-width="0.35">-70</text>
<line x1="249.50" y1="854.60" x2="249.50" y2="856.80" stroke="#666" stroke-width="0.7"/>
<line x1="270.87" y1="854.60" x2="270.87" y2="855.80" stroke="#666" stroke-width="0.7"/>
<line x1="283.38" y1="854.60" x2="283.38" y2="855.80" stroke="#666" stroke-width="0.7"/>
<line x1="292.25" y1="854.60" x2="292.25" y2="855.80" stroke="#666" stroke-width="0.7"/>
<line x1="299.13" y1="854.60" x2="299.13" y2="855.80" stroke="#666" stroke-width="0.7"/>
<line x1="304.75" y1="854.60" x2="304.75" y2="855.80" stroke="#666" stroke-width="0.7"/>
<line x1="309.50" y1="854.60" x2="309.50" y2="855.80" stroke="#666" stroke-width="0.7"/>
<line x1="313.62" y1="854.60" x2="313.62" y2="855.80" stroke="#666" stroke-width="0.7"/>
<line x1="317.25" y1="854.60" x2="317.25" y2="855.80" stroke="#666" stroke-width="0.7"/>
<text x="249.5" y="865.2" font-size="7.5" fill="#1a1a1a" text-anchor="middle" stroke="#1a1a1a" stroke-width="0.35">1</text>
<line x1="320.50" y1="854.60" x2="320.50" y2="856.80" stroke="#666" stroke-width="0.7"/>
<line x1="341.87" y1="854.60" x2="341.87" y2="855.80" stroke="#666" stroke-width="0.7"/>
<line x1="354.38" y1="854.60" x2="354.38" y2="855.80" stroke="#666" stroke-width="0.7"/>
<line x1="363.25" y1="854.60" x2="363.25" y2="855.80" stroke="#666" stroke-width="0.7"/>
<line x1="370.13" y1="854.60" x2="370.13" y2="855.80" stroke="#666" stroke-width="0.7"/>
<line x1="375.75" y1="854.60" x2="375.75" y2="855.80" stroke="#666" stroke-width="0.7"/>
<line x1="380.50" y1="854.60" x2="380.50" y2="855.80" stroke="#666" stroke-width="0.7"/>
<line x1="384.62" y1="854.60" x2="384.62" y2="855.80" stroke="#666" stroke-width="0.7"/>
<line x1="388.25" y1="854.60" x2="388.25" y2="855.80" stroke="#666" stroke-width="0.7"/>
<text x="320.5" y="865.2" font-size="7.5" fill="#1a1a1a" text-anchor="middle" stroke="#1a1a1a" stroke-width="0.35">10</text>
<line x1="391.50" y1="854.60" x2="391.50" y2="856.80" stroke="#666" stroke-width="0.7"/>
<line x1="412.87" y1="854.60" x2="412.87" y2="855.80" stroke="#666" stroke-width="0.7"/>
<text x="391.5" y="865.2" font-size="7.5" fill="#1a1a1a" text-anchor="middle" stroke="#1a1a1a" stroke-width="0.35">100</text>
<line x1="309.40" y1="739.50" x2="346.20" y2="739.50" stroke="#000" stroke-width="2.3"/>
<text transform="translate(229.5,796) rotate(-90)" x="0" y="0" font-size="8.0" fill="#1a1a1a" text-anchor="middle" textLength="38.2" lengthAdjust="spacingAndGlyphs" stroke="#1a1a1a" stroke-width="0.35">Power [dB]</text>
<text x="304.7" y="873.8" font-size="7.8" fill="#1a1a1a" textLength="51.4" lengthAdjust="spacingAndGlyphs" stroke="#1a1a1a" stroke-width="0.35">Frequency [Hz]</text>
<text x="431.9" y="734.4" font-size="17.0" fill="#1a1a1a" stroke="#1a1a1a" stroke-width="0.40">O</text>
<rect x="566.00" y="737.40" width="114.40" height="108.60" fill="#d9d9d9"/>
<path d="M461.70,845.13 L471.92,845.13 L482.14,834.05 L492.36,831.23 L502.58,831.88 L512.80,827.97 L523.02,822.33 L533.24,816.68 L543.46,811.03 L553.68,801.91 L563.90,773.24 L574.12,765.42 L584.34,759.99 L594.56,758.69 L604.78,763.90 L615.00,760.64 L625.22,763.90 L635.44,754.34 L645.66,754.99 L655.88,776.28 L666.10,779.10 L676.32,786.27 L676.32,794.96 L666.10,792.13 L655.88,789.31 L645.66,768.03 L635.44,767.37 L625.22,779.10 L615.00,775.84 L604.78,779.10 L594.56,771.72 L584.34,773.02 L574.12,778.45 L563.90,786.27 L553.68,810.60 L543.46,819.72 L533.24,823.19 L523.02,828.84 L512.80,834.49 L502.58,838.40 L492.36,837.75 L482.14,838.40 L471.92,846.00 L461.70,846.00 Z" fill="rgba(200,70,80,0.2)" stroke="none"/>
<path d="M461.70,829.28 L471.92,800.82 L482.14,802.78 L492.36,803.65 L502.58,803.21 L512.80,800.17 L523.02,798.00 L533.24,798.00 L543.46,793.87 L553.68,783.45 L563.90,752.82 L574.12,748.69 L584.34,753.04 L594.56,768.03 L604.78,757.82 L615.00,752.60 L625.22,760.86 L635.44,760.86 L645.66,757.17 L655.88,776.06 L666.10,769.33 L676.32,782.79 L676.32,795.83 L666.10,782.36 L655.88,789.09 L645.66,770.20 L635.44,773.89 L625.22,773.89 L615.00,765.64 L604.78,770.85 L594.56,781.06 L584.34,766.07 L574.12,761.73 L563.90,765.85 L553.68,792.13 L543.46,802.56 L533.24,806.69 L523.02,806.69 L512.80,808.86 L502.58,811.90 L492.36,812.33 L482.14,811.47 L471.92,809.51 L461.70,837.96 Z" fill="rgba(70,70,235,0.2)" stroke="none"/>
<path d="M461.70,845.57 L471.92,845.57 L482.14,836.23 L492.36,834.49 L502.58,835.14 L512.80,831.23 L523.02,825.58 L533.24,819.94 L543.46,815.37 L553.68,806.25 L563.90,779.75 L574.12,771.93 L584.34,766.50 L594.56,765.20 L604.78,771.50 L615.00,768.24 L625.22,771.50 L635.44,760.86 L645.66,761.51 L655.88,782.79 L666.10,785.62 L676.32,790.61" fill="none" stroke="#d81e3a" stroke-width="1.4" stroke-linejoin="round"/>
<path d="M461.70,833.62 L471.92,805.17 L482.14,807.12 L492.36,807.99 L502.58,807.56 L512.80,804.51 L523.02,802.34 L533.24,802.34 L543.46,798.22 L553.68,787.79 L563.90,759.34 L574.12,755.21 L584.34,759.55 L594.56,774.54 L604.78,764.33 L615.00,759.12 L625.22,767.37 L635.44,767.37 L645.66,763.68 L655.88,782.58 L666.10,775.84 L676.32,789.31" fill="none" stroke="#1414f0" stroke-width="1.4" stroke-linejoin="round"/>
<rect x="456.50" y="737.40" width="223.90" height="108.60" fill="none" stroke="#666" stroke-width="0.9"/>
<line x1="454.50" y1="846.00" x2="456.50" y2="846.00" stroke="#666" stroke-width="0.8"/>
<text x="452.6" y="848.6" font-size="7.5" fill="#1a1a1a" text-anchor="end" stroke="#1a1a1a" stroke-width="0.35">0</text>
<line x1="454.50" y1="824.28" x2="456.50" y2="824.28" stroke="#666" stroke-width="0.8"/>
<text x="452.6" y="826.88" font-size="7.5" fill="#1a1a1a" text-anchor="end" stroke="#1a1a1a" stroke-width="0.35">1</text>
<line x1="454.50" y1="802.56" x2="456.50" y2="802.56" stroke="#666" stroke-width="0.8"/>
<text x="452.6" y="805.16" font-size="7.5" fill="#1a1a1a" text-anchor="end" stroke="#1a1a1a" stroke-width="0.35">2</text>
<line x1="454.50" y1="780.84" x2="456.50" y2="780.84" stroke="#666" stroke-width="0.8"/>
<text x="452.6" y="783.44" font-size="7.5" fill="#1a1a1a" text-anchor="end" stroke="#1a1a1a" stroke-width="0.35">3</text>
<line x1="454.50" y1="759.12" x2="456.50" y2="759.12" stroke="#666" stroke-width="0.8"/>
<text x="452.6" y="761.72" font-size="7.5" fill="#1a1a1a" text-anchor="end" stroke="#1a1a1a" stroke-width="0.35">4</text>
<line x1="454.50" y1="737.40" x2="456.50" y2="737.40" stroke="#666" stroke-width="0.8"/>
<text x="452.6" y="740" font-size="7.5" fill="#1a1a1a" text-anchor="end" stroke="#1a1a1a" stroke-width="0.35">5</text>
<line x1="461.70" y1="846.00" x2="461.70" y2="847.80" stroke="#666" stroke-width="0.7"/>
<line x1="471.92" y1="846.00" x2="471.92" y2="847.80" stroke="#666" stroke-width="0.7"/>
<line x1="482.14" y1="846.00" x2="482.14" y2="847.80" stroke="#666" stroke-width="0.7"/>
<line x1="492.36" y1="846.00" x2="492.36" y2="847.80" stroke="#666" stroke-width="0.7"/>
<line x1="502.58" y1="846.00" x2="502.58" y2="847.80" stroke="#666" stroke-width="0.7"/>
<line x1="512.80" y1="846.00" x2="512.80" y2="847.80" stroke="#666" stroke-width="0.7"/>
<line x1="523.02" y1="846.00" x2="523.02" y2="847.80" stroke="#666" stroke-width="0.7"/>
<line x1="533.24" y1="846.00" x2="533.24" y2="847.80" stroke="#666" stroke-width="0.7"/>
<line x1="543.46" y1="846.00" x2="543.46" y2="847.80" stroke="#666" stroke-width="0.7"/>
<line x1="553.68" y1="846.00" x2="553.68" y2="847.80" stroke="#666" stroke-width="0.7"/>
<line x1="563.90" y1="846.00" x2="563.90" y2="847.80" stroke="#666" stroke-width="0.7"/>
<line x1="574.12" y1="846.00" x2="574.12" y2="847.80" stroke="#666" stroke-width="0.7"/>
<line x1="584.34" y1="846.00" x2="584.34" y2="847.80" stroke="#666" stroke-width="0.7"/>
<line x1="594.56" y1="846.00" x2="594.56" y2="847.80" stroke="#666" stroke-width="0.7"/>
<line x1="604.78" y1="846.00" x2="604.78" y2="847.80" stroke="#666" stroke-width="0.7"/>
<line x1="615.00" y1="846.00" x2="615.00" y2="847.80" stroke="#666" stroke-width="0.7"/>
<line x1="625.22" y1="846.00" x2="625.22" y2="847.80" stroke="#666" stroke-width="0.7"/>
<line x1="635.44" y1="846.00" x2="635.44" y2="847.80" stroke="#666" stroke-width="0.7"/>
<line x1="645.66" y1="846.00" x2="645.66" y2="847.80" stroke="#666" stroke-width="0.7"/>
<line x1="655.88" y1="846.00" x2="655.88" y2="847.80" stroke="#666" stroke-width="0.7"/>
<line x1="666.10" y1="846.00" x2="666.10" y2="847.80" stroke="#666" stroke-width="0.7"/>
<line x1="676.32" y1="846.00" x2="676.32" y2="847.80" stroke="#666" stroke-width="0.7"/>
<text transform="translate(477.7,854) rotate(-45)" x="0" y="0" font-size="7.4" fill="#1a1a1a" text-anchor="end" stroke="#1a1a1a" stroke-width="0.35">12 am</text>
<text transform="translate(508.36,854) rotate(-45)" x="0" y="0" font-size="7.4" fill="#1a1a1a" text-anchor="end" stroke="#1a1a1a" stroke-width="0.35">3 pm</text>
<text transform="translate(539.02,854) rotate(-45)" x="0" y="0" font-size="7.4" fill="#1a1a1a" text-anchor="end" stroke="#1a1a1a" stroke-width="0.35">6 pm</text>
<text transform="translate(569.68,854) rotate(-45)" x="0" y="0" font-size="7.4" fill="#1a1a1a" text-anchor="end" stroke="#1a1a1a" stroke-width="0.35">9 pm</text>
<text transform="translate(600.34,854) rotate(-45)" x="0" y="0" font-size="7.4" fill="#1a1a1a" text-anchor="end" stroke="#1a1a1a" stroke-width="0.35">12 pm</text>
<text transform="translate(631,854) rotate(-45)" x="0" y="0" font-size="7.4" fill="#1a1a1a" text-anchor="end" stroke="#1a1a1a" stroke-width="0.35">3 am</text>
<text transform="translate(661.66,854) rotate(-45)" x="0" y="0" font-size="7.4" fill="#1a1a1a" text-anchor="end" stroke="#1a1a1a" stroke-width="0.35">6 am</text>
<line x1="471.00" y1="742.80" x2="554.20" y2="742.80" stroke="#000" stroke-width="2.3"/>
<text transform="translate(442.5,800.3) rotate(-90)" x="0" y="0" font-size="7.9" fill="#1a1a1a" text-anchor="middle" textLength="79.8" lengthAdjust="spacingAndGlyphs" stroke="#1a1a1a" stroke-width="0.35">Spindle density [1/min]</text>
<text x="536.9" y="878.5" font-size="7.8" fill="#1a1a1a" textLength="54.3" lengthAdjust="spacingAndGlyphs" stroke="#1a1a1a" stroke-width="0.35">Time of the day</text>
<text x="12.3" y="927.3" font-size="17.0" fill="#1a1a1a" stroke="#1a1a1a" stroke-width="0.40">P</text>
<text x="98.8" y="923.8" font-size="16" fill="#1a1a1a" textLength="37.2" lengthAdjust="spacingAndGlyphs" stroke="#1a1a1a" stroke-width="0.39">wake</text>
<g transform="translate(34.20,947.10)"><path d="M-9.8,53 C-6.5,57 -4.8,61 -4.6,69 Q0,69.8 4.3,69 C4.5,61 6.5,57 10,53 Z" fill="#e0b9b7" stroke="#d28d8b" stroke-width="0.7"/><path d="M-0.3,57 L-0.3,67" stroke="#ecd3d1" stroke-width="0.8"/><path d="M-17.5,42 C-19.5,47 -17,53.5 -9,55.5 C-4,56.5 4,56.5 9,55.5 C16.5,53.5 19.5,47 17.3,41 C15,36 -15,36 -17.5,42 Z" fill="#e0b9b7" stroke="#d28d8b" stroke-width="0.7"/><path d="M-13,42 C-10,48 -6,52 0,53 C6,52 10,48 13,42" fill="none" stroke="#d28d8b" stroke-width="0.5" opacity="0.7"/><path d="M-6,39 C-7,44 -3,46 0,45 C3,46 7,44 6,39" fill="none" stroke="#d28d8b" stroke-width="0.45" opacity="0.6"/><ellipse cx="-3.4" cy="5.2" rx="3.3" ry="5.2" fill="#e0b9b7" stroke="#d28d8b" stroke-width="0.6"/><ellipse cx="3.6" cy="5.2" rx="3.6" ry="5.2" fill="#e0b9b7" stroke="#d28d8b" stroke-width="0.6"/><path d="M-0.6,6.5 C-6,5 -12,9 -16.5,16.5 C-21,24 -22.6,31 -20.5,36 C-18.5,40.5 -11,41.5 -5,40 C-2,39 -0.6,37.5 -0.6,35 Z" fill="#e0b9b7" stroke="#d28d8b" stroke-width="0.8"/><path d="M0.4,6.5 C6,5 12,9 16.5,16.5 C21,24 22.6,31 20.5,36 C18.5,40.5 11,41.5 5,40 C2,39 0.4,37.5 0.4,35 Z" fill="#e0b9b7" stroke="#d28d8b" stroke-width="0.8"/><path d="M-2.5,14 L-2.5,24" stroke="#ecd0ce" stroke-width="0.6"/><path d="M2.5,10 L2.5,20" stroke="#ecd0ce" stroke-width="0.6"/></g>
<ellipse cx="27.40" cy="962.80" rx="2.4" ry="1.6" fill="#fff" stroke="#3535b5" stroke-width="1.2"/>
<text x="5.6" y="955.4" font-size="7.6" fill="#1a1a1a" textLength="24.4" lengthAdjust="spacingAndGlyphs" stroke="#1a1a1a" stroke-width="0.28">frontal</text>
<text x="5.6" y="965.5" font-size="7.6" fill="#1a1a1a" textLength="13.8" lengthAdjust="spacingAndGlyphs" stroke="#1a1a1a" stroke-width="0.28">EEG</text>
<text x="69.4" y="948.3" font-size="10.5" fill="#1a1a1a" textLength="35" lengthAdjust="spacingAndGlyphs" stroke="#1a1a1a" stroke-width="0.33">Vehicle</text>
<text x="69" y="991" font-size="10.5" fill="#1a1a1a" textLength="19.5" lengthAdjust="spacingAndGlyphs" stroke="#1a1a1a" stroke-width="0.33">DCZ</text>
<path d="M68.30,966.28 L69.00,967.95 L69.70,963.37 L70.40,966.12 L71.10,961.86 L71.80,963.33 L72.50,962.19 L73.20,959.94 L73.90,959.64 L74.60,962.05 L75.30,963.25 L76.00,960.16 L76.70,960.90 L77.40,959.81 L78.10,959.65 L78.80,962.68 L79.50,958.09 L80.20,964.47 L80.90,966.02 L81.60,966.58 L82.30,964.08 L83.00,962.18 L83.70,964.04 L84.40,962.38 L85.10,963.49 L85.80,962.08 L86.50,958.28 L87.20,960.65 L87.90,962.43 L88.60,963.02 L89.30,964.29 L90.00,965.89 L90.70,964.30 L91.40,965.55 L92.10,963.95 L92.80,965.40 L93.50,967.87 L94.20,965.86 L94.90,963.14 L95.60,962.17 L96.30,963.90 L97.00,964.83 L97.70,963.76 L98.40,966.51 L99.10,968.96 L99.80,963.83 L100.50,963.25 L101.20,964.21 L101.90,964.77 L102.60,965.90 L103.30,963.06 L104.00,962.57 L104.70,966.22 L105.40,963.38 L106.10,959.47 L106.80,959.20 L107.50,961.45 L108.20,959.68 L108.90,965.11 L109.60,967.73 L110.30,967.77 L111.00,965.72 L111.70,964.12 L112.40,967.48 L113.10,963.84 L113.80,963.07 L114.50,966.21 L115.20,966.17 L115.90,965.75 L116.60,963.79 L117.30,963.79 L118.00,964.65 L118.70,961.50 L119.40,962.03 L120.10,960.24 L120.80,962.53 L121.50,963.72 L122.20,963.53 L122.90,962.87 L123.60,961.10 L124.30,963.91 L125.00,963.33 L125.70,961.14 L126.40,963.21 L127.10,965.25 L127.80,963.26 L128.50,965.76 L129.20,968.41 L129.90,966.99 L130.60,966.63 L131.30,966.48 L132.00,963.67 L132.70,965.34 L133.40,962.69 L134.10,962.54 L134.80,963.68 L135.50,959.30 L136.20,960.93 L136.90,961.65 L137.60,961.81 L138.30,964.87 L139.00,964.24 L139.70,962.72 L140.40,963.62 L141.10,964.65 L141.80,965.29 L142.50,963.58 L143.20,961.86 L143.90,962.69 L144.60,961.38 L145.30,963.75 L146.00,962.73 L146.70,963.81 L147.40,964.28 L148.10,963.23 L148.80,965.32 L149.50,963.69 L150.20,964.33 L150.90,964.24 L151.60,961.05 L152.30,960.36 L153.00,961.60 L153.70,963.10 L154.40,965.10 L155.10,965.52 L155.80,965.16 L156.50,963.94 L157.20,966.07 L157.90,967.44 L158.60,968.62 L159.30,966.36 L160.00,964.23 L160.70,965.81 L161.40,964.63 L162.10,968.78 L162.80,965.54 L163.50,962.98 L164.20,964.10 L164.90,964.74 L165.60,965.76 L166.30,962.30 L167.00,959.63 L167.70,962.82 L168.40,964.67 L169.10,965.42 L169.80,968.96 L170.50,967.90 L171.20,967.86 L171.90,965.24 L172.60,966.42 L173.30,963.69 L174.00,966.99 L174.70,964.04 L175.40,961.89 L176.10,964.01 L176.80,960.85 L177.50,962.50 L178.20,961.29 L178.90,961.28 L179.60,963.76 L180.30,965.19 L181.00,968.22 L181.70,969.63 L182.40,970.50 L183.10,964.37 L183.80,963.61 L184.50,963.47 L185.20,962.61 L185.90,965.65 L186.60,964.61 L187.30,964.57 L188.00,966.50 L188.70,962.89 L189.40,962.48 L190.10,962.25 L190.80,963.35 L191.50,964.07 L192.20,962.40 L192.90,964.72 L193.60,964.21 L194.30,962.90 L195.00,961.31 L195.70,959.30 L196.40,961.24 L197.10,962.78 L197.80,964.45 L198.50,962.22 L199.20,965.64 L199.90,965.87 L200.60,965.65 L201.30,964.44" fill="none" stroke="#111111" stroke-width="1.10" stroke-linejoin="round"/>
<path d="M59.60,1010.57 L60.30,1005.78 L61.00,1007.85 L61.70,1006.82 L62.40,1010.21 L63.10,1007.44 L63.80,1004.62 L64.50,1006.48 L65.20,1005.88 L65.90,1005.16 L66.60,1003.85 L67.30,1003.41 L68.00,1006.30 L68.70,1004.57 L69.40,1004.42 L70.10,1004.98 L70.80,1008.14 L71.50,1009.91 L72.20,1007.25 L72.90,1008.51 L73.60,1007.96 L74.30,1006.16 L75.00,1005.11 L75.70,1001.93 L76.40,1003.93 L77.10,1002.31 L77.80,999.92 L78.50,1002.47 L79.20,1003.34 L79.90,999.88 L80.60,1007.92 L81.30,1005.03 L82.00,1002.32 L82.70,1005.04 L83.40,1007.75 L84.10,1008.64 L84.80,1005.42 L85.50,1003.90 L86.20,1006.07 L86.90,1004.91 L87.60,1005.90 L88.30,1006.85 L89.00,1009.49 L89.70,1008.58 L90.40,1008.48 L91.10,1008.44 L91.80,1008.91 L92.50,1010.66 L93.20,1010.84 L93.90,1010.96 L94.60,1009.61 L95.30,1009.69 L96.00,1006.13 L96.70,1009.25 L97.40,1004.17 L98.10,1007.25 L98.80,1007.23 L99.50,1008.90 L100.20,1007.87 L100.90,1009.30 L101.60,1009.09 L102.30,1006.93 L103.00,1003.72 L103.70,1000.45 L104.40,1002.88 L105.10,1002.36 L105.80,1002.59 L106.50,1004.66 L107.20,1006.72 L107.90,1008.42 L108.60,1008.42 L109.30,1005.83 L110.00,1004.42 L110.70,1003.40 L111.40,1004.21 L112.10,1006.59 L112.80,1005.29 L113.50,1004.85 L114.20,1007.00 L114.90,1007.00 L115.60,1007.56 L116.30,1009.35 L117.00,1007.41 L117.70,1007.63 L118.40,1007.74 L119.10,1008.72 L119.80,1007.10 L120.50,1008.32 L121.20,1007.20 L121.90,1010.19 L122.60,1008.29 L123.30,1008.17 L124.00,1007.17 L124.70,1008.30 L125.40,1009.87 L126.10,1005.14 L126.80,1006.98 L127.50,1002.89 L128.20,1003.90 L128.90,1003.81 L129.60,1001.42 L130.30,1002.96 L131.00,1006.01 L131.70,1005.03 L132.40,1008.23 L133.10,1009.03 L133.80,1008.59 L134.50,1007.94 L135.20,1007.29 L135.90,1008.23 L136.60,1006.11 L137.30,1005.87 L138.00,1008.47 L138.70,1003.69 L139.40,1008.39 L140.10,1007.49 L140.80,1008.86 L141.50,1009.08 L142.20,1007.35 L142.90,1005.15 L143.60,1005.72 L144.30,1008.12 L145.00,1007.86 L145.70,1009.11 L146.40,1010.26 L147.10,1012.99 L147.80,1006.77 L148.50,1007.54 L149.20,1006.18 L149.90,1007.92 L150.60,1011.22 L151.30,1005.78 L152.00,1004.75 L152.70,1006.67 L153.40,1003.80 L154.10,1007.39 L154.80,1005.17 L155.50,1005.82 L156.20,1004.39 L156.90,1004.83 L157.60,1005.91 L158.30,1004.33 L159.00,1005.34 L159.70,1006.60 L160.40,1005.14 L161.10,1001.27 L161.80,1003.22 L162.50,1004.46 L163.20,1002.79 L163.90,1005.80 L164.60,1003.95 L165.30,1003.99 L166.00,1003.70 L166.70,1006.07 L167.40,1005.47 L168.10,1006.91 L168.80,1005.16 L169.50,1008.60 L170.20,1008.61 L170.90,1005.47 L171.60,1002.52 L172.30,1001.76 L173.00,1006.78 L173.70,1003.74 L174.40,1005.70 L175.10,1003.75 L175.80,1000.76 L176.50,1005.96 L177.20,1007.10 L177.90,1007.04 L178.60,1006.02 L179.30,1004.28 L180.00,1007.21 L180.70,1007.26 L181.40,1003.85 L182.10,1003.67 L182.80,1003.29 L183.50,1000.98 L184.20,1002.07 L184.90,1002.93 L185.60,1005.16 L186.30,1003.27 L187.00,1004.08 L187.70,1001.46 L188.40,1004.68 L189.10,1007.19 L189.80,1007.28 L190.50,1006.89 L191.20,1006.67 L191.90,1006.68 L192.60,1007.84 L193.30,1009.97 L194.00,1009.68 L194.70,1007.37 L195.40,1005.79 L196.10,1004.17 L196.80,1003.36 L197.50,1005.29 L198.20,1003.15 L198.90,1005.76 L199.60,1002.31 L200.30,1005.14 L201.00,1007.49 L201.70,1006.52 L202.40,1004.81" fill="none" stroke="#111111" stroke-width="1.10" stroke-linejoin="round"/>
<text x="224.9" y="928.3" font-size="17.0" fill="#1a1a1a" stroke="#1a1a1a" stroke-width="0.40">Q</text>
<line x1="244.5" y1="929" x2="676.3" y2="929" stroke="#a3a3a3" stroke-width="2.6"/>
<text x="407.5" y="923.7" font-size="14.5" fill="#1a1a1a" textLength="86.6" lengthAdjust="spacingAndGlyphs" stroke="#1a1a1a" stroke-width="0.37">NREM sleep</text>
<rect x="297.00" y="939.80" width="59.60" height="46.30" fill="#e6f2f2"/>
<rect x="494.80" y="939.80" width="79.20" height="45.70" fill="#e6f2f2"/>
<rect x="330.40" y="989.60" width="58.80" height="38.80" fill="#e6f2f2"/>
<rect x="514.00" y="989.60" width="79.00" height="41.90" fill="#e6f2f2"/>
<path d="M246.30,964.44 L247.00,964.47 L247.70,963.24 L248.40,963.25 L249.10,962.50 L249.80,964.05 L250.50,963.98 L251.20,961.91 L251.90,963.99 L252.60,963.35 L253.30,966.06 L254.00,965.19 L254.70,965.66 L255.40,965.65 L256.10,967.90 L256.80,964.34 L257.50,966.75 L258.20,964.65 L258.90,964.37 L259.60,962.02 L260.30,964.19 L261.00,964.98 L261.70,966.13 L262.40,966.72 L263.10,965.62 L263.80,962.99 L264.50,963.73 L265.20,962.30 L265.90,962.73 L266.60,966.19 L267.30,965.88 L268.00,966.92 L268.70,968.84 L269.40,964.62 L270.10,964.75 L270.80,962.97 L271.50,960.10 L272.20,962.51 L272.90,965.90 L273.60,966.70 L274.30,964.33 L275.00,964.05 L275.70,966.18 L276.40,969.52 L277.10,967.57 L277.80,964.23 L278.50,967.07 L279.20,967.04 L279.90,964.91 L280.60,965.08 L281.30,970.24 L282.00,966.00 L282.70,967.10 L283.40,966.02 L284.10,965.51 L284.80,968.11 L285.50,966.11 L286.20,968.73 L286.90,965.39 L287.60,967.18 L288.30,966.88 L289.00,965.22 L289.70,964.39 L290.40,964.42 L291.10,967.91 L291.80,969.13 L292.50,969.07 L293.20,967.56 L293.90,965.27 L294.60,961.77 L295.30,959.50 L296.00,958.38 L296.70,958.58 L297.40,958.74 L298.10,959.39 L298.80,959.32 L299.50,959.97 L300.20,963.87 L300.90,968.18 L301.60,972.27 L302.30,971.87 L303.00,966.96 L303.70,960.92 L304.40,956.58 L305.10,958.07 L305.80,960.70 L306.50,966.45 L307.20,968.25 L307.90,964.36 L308.60,960.89 L309.30,958.39 L310.00,961.09 L310.70,969.86 L311.40,974.71 L312.10,972.25 L312.80,966.01 L313.50,960.04 L314.20,958.17 L314.90,959.81 L315.60,961.66 L316.30,962.29 L317.00,962.63 L317.70,962.83 L318.40,962.51 L319.10,968.28 L319.80,971.22 L320.50,969.17 L321.20,962.91 L321.90,956.41 L322.60,956.83 L323.30,959.10 L324.00,962.88 L324.70,965.46 L325.40,965.57 L326.10,965.60 L326.80,966.78 L327.50,967.63 L328.20,973.40 L328.90,972.78 L329.60,965.63 L330.30,960.61 L331.00,956.37 L331.70,957.57 L332.40,965.31 L333.10,971.37 L333.80,973.51 L334.50,967.56 L335.20,965.76 L335.90,965.09 L336.60,962.81 L337.30,959.85 L338.00,957.59 L338.70,956.17 L339.40,956.77 L340.10,960.26 L340.80,970.82 L341.50,978.24 L342.20,970.36 L342.90,961.79 L343.60,957.26 L344.30,959.72 L345.00,967.07 L345.70,977.94 L346.40,974.20 L347.10,965.99 L347.80,954.61 L348.50,952.06 L349.20,951.01 L349.90,956.61 L350.60,966.99 L351.30,971.17 L352.00,966.45 L352.70,962.77 L353.40,959.40 L354.10,959.17 L354.80,961.30 L355.50,962.76 L356.20,966.07 L356.90,969.61 L357.60,976.11 L358.30,977.54 L359.00,972.68 L359.70,968.31 L360.40,967.45 L361.10,967.43 L361.80,968.10 L362.50,969.66 L363.20,969.65 L363.90,970.15 L364.60,968.41 L365.30,967.95 L366.00,967.00 L366.70,969.15 L367.40,970.13 L368.10,969.25 L368.80,967.85 L369.50,966.13 L370.20,964.70 L370.90,965.70 L371.60,963.03 L372.30,962.14 L373.00,961.31 L373.70,962.95 L374.40,963.01 L375.10,964.43 L375.80,965.38 L376.50,963.83 L377.20,965.12 L377.90,964.78 L378.60,964.34 L379.30,963.03 L380.00,964.76 L380.70,963.20 L381.40,961.42 L382.10,962.66 L382.80,964.17 L383.50,961.53 L384.20,963.42 L384.90,965.45 L385.60,962.68 L386.30,960.98 L387.00,961.85 L387.70,962.41 L388.40,963.65 L389.10,966.27 L389.80,964.97 L390.50,965.88 L391.20,964.42 L391.90,963.83 L392.60,965.96 L393.30,966.28 L394.00,966.68 L394.70,965.14 L395.40,962.50 L396.10,964.13 L396.80,963.61 L397.50,965.93 L398.20,962.83 L398.90,961.39 L399.60,963.66 L400.30,965.48 L401.00,965.25 L401.70,963.61 L402.40,963.21 L403.10,960.86 L403.80,963.86 L404.50,963.91 L405.20,964.44 L405.90,962.75 L406.60,964.54 L407.30,965.12 L408.00,967.33 L408.70,968.83 L409.40,971.29 L410.10,968.47 L410.80,966.30 L411.50,966.36 L412.20,965.36 L412.90,965.61 L413.60,964.68 L414.30,965.82 L415.00,966.37 L415.70,962.81 L416.40,961.31 L417.10,963.07 L417.80,963.25 L418.50,962.67 L419.20,964.76 L419.90,964.78 L420.60,963.87 L421.30,966.85 L422.00,966.34 L422.70,967.36 L423.40,967.48 L424.10,964.34 L424.80,962.41 L425.50,960.29 L426.20,960.79 L426.90,962.21 L427.60,964.03 L428.30,966.27 L429.00,969.64 L429.70,968.11 L430.40,966.61 L431.10,965.01 L431.80,962.84 L432.50,962.52 L433.20,961.14 L433.90,961.79 L434.60,963.56 L435.30,960.84 L436.00,961.59 L436.70,964.87 L437.40,967.34 L438.10,968.84 L438.80,971.59 L439.50,972.23 L440.20,970.65 L440.90,968.62 L441.60,972.81 L442.30,970.44 L443.00,970.62 L443.70,971.27 L444.40,969.75 L445.10,968.24 L445.80,967.99 L446.50,963.69 L447.20,967.12 L447.90,965.34 L448.60,964.49 L449.30,964.49 L450.00,965.49 L450.70,965.93 L451.40,968.30 L452.10,968.70 L452.80,968.90 L453.50,968.95 L454.20,970.94 L454.90,966.73 L455.60,966.11 L456.30,965.55 L457.00,965.35 L457.70,967.26 L458.40,968.83 L459.10,969.47 L459.80,968.08 L460.50,964.84 L461.20,966.07 L461.90,963.86 L462.60,967.58 L463.30,966.79 L464.00,967.29 L464.70,966.30 L465.40,967.60 L466.10,969.07 L466.80,965.84 L467.50,967.62 L468.20,966.75 L468.90,965.69 L469.60,968.46 L470.30,968.66 L471.00,968.52 L471.70,964.80 L472.40,965.51 L473.10,962.43 L473.80,961.65 L474.50,964.76 L475.20,966.62 L475.90,968.36 L476.60,968.82 L477.30,970.82 L478.00,967.26 L478.70,966.93 L479.40,967.24 L480.10,968.08 L480.80,964.58 L481.50,965.29 L482.20,965.92 L482.90,966.77 L483.60,966.62 L484.30,969.78 L485.00,968.06 L485.70,969.26 L486.40,968.63 L487.10,968.23 L487.80,965.32 L488.50,966.47 L489.20,966.51 L489.90,963.38 L490.60,971.93 L491.30,970.29 L492.00,968.38 L492.70,968.42 L493.40,968.87 L494.10,969.05 L494.80,967.40 L495.50,962.00 L496.20,958.14 L496.90,954.29 L497.60,955.79 L498.30,962.35 L499.00,961.19 L499.70,955.66 L500.40,953.55 L501.10,957.86 L501.80,963.03 L502.50,969.78 L503.20,971.21 L503.90,966.38 L504.60,962.37 L505.30,960.43 L506.00,959.25 L506.70,959.08 L507.40,957.08 L508.10,955.78 L508.80,957.50 L509.50,964.68 L510.20,965.90 L510.90,966.55 L511.60,966.97 L512.30,965.42 L513.00,964.65 L513.70,965.09 L514.40,970.68 L515.10,975.10 L515.80,977.47 L516.50,977.82 L517.20,970.59 L517.90,964.44 L518.60,959.60 L519.30,958.06 L520.00,964.00 L520.70,969.24 L521.40,968.78 L522.10,966.05 L522.80,962.22 L523.50,959.07 L524.20,956.98 L524.90,956.92 L525.60,960.24 L526.30,962.50 L527.00,963.74 L527.70,965.45 L528.40,968.44 L529.10,971.38 L529.80,967.40 L530.50,960.46 L531.20,960.08 L531.90,962.05 L532.60,963.77 L533.30,964.82 L534.00,966.77 L534.70,967.58 L535.40,967.33 L536.10,969.14 L536.80,969.60 L537.50,966.19 L538.20,962.14 L538.90,960.70 L539.60,960.88 L540.30,962.05 L541.00,966.54 L541.70,967.55 L542.40,964.28 L543.10,960.34 L543.80,963.08 L544.50,969.15 L545.20,971.73 L545.90,967.19 L546.60,962.22 L547.30,960.33 L548.00,959.82 L548.70,959.29 L549.40,962.35 L550.10,966.17 L550.80,973.04 L551.50,976.70 L552.20,971.88 L552.90,965.04 L553.60,962.75 L554.30,960.01 L555.00,960.62 L555.70,963.32 L556.40,966.25 L557.10,972.57 L557.80,974.91 L558.50,970.14 L559.20,963.97 L559.90,959.93 L560.60,956.58 L561.30,957.21 L562.00,960.35 L562.70,962.85 L563.40,965.77 L564.10,970.10 L564.80,972.97 L565.50,969.49 L566.20,963.78 L566.90,962.12 L567.60,960.26 L568.30,959.94 L569.00,961.35 L569.70,964.86 L570.40,973.30 L571.10,974.99 L571.80,968.89 L572.50,967.23 L573.20,967.75 L573.90,968.19 L574.60,968.15 L575.30,967.21 L576.00,965.63 L576.70,964.32 L577.40,961.04 L578.10,960.25 L578.80,960.77 L579.50,959.81 L580.20,960.69 L580.90,960.72 L581.60,962.90 L582.30,965.72 L583.00,964.52 L583.70,964.31 L584.40,967.90 L585.10,968.30 L585.80,967.14 L586.50,966.84 L587.20,962.27 L587.90,962.07 L588.60,963.16 L589.30,964.91 L590.00,963.30 L590.70,965.67 L591.40,964.17 L592.10,965.57 L592.80,965.25 L593.50,966.87 L594.20,967.26 L594.90,967.51 L595.60,966.82 L596.30,966.61 L597.00,967.17 L597.70,964.96 L598.40,963.68 L599.10,963.39 L599.80,965.12 L600.50,964.26 L601.20,965.97 L601.90,964.59 L602.60,967.46 L603.30,968.23 L604.00,968.27 L604.70,967.49 L605.40,969.52 L606.10,972.07 L606.80,970.66 L607.50,968.97 L608.20,966.82 L608.90,966.26 L609.60,964.71 L610.30,964.70 L611.00,967.76 L611.70,967.52 L612.40,967.63 L613.10,965.14 L613.80,966.75 L614.50,968.43 L615.20,969.71 L615.90,969.48 L616.60,966.58 L617.30,963.01 L618.00,965.55 L618.70,966.65 L619.40,966.08 L620.10,969.97 L620.80,967.26 L621.50,965.86 L622.20,964.20 L622.90,964.42 L623.60,964.15 L624.30,966.42 L625.00,966.16 L625.70,966.52 L626.40,966.12 L627.10,965.92 L627.80,970.58 L628.50,970.54 L629.20,969.67 L629.90,965.77 L630.60,965.25 L631.30,964.96 L632.00,964.20 L632.70,961.70 L633.40,966.80 L634.10,967.52 L634.80,969.06 L635.50,970.75 L636.20,969.12 L636.90,970.73 L637.60,969.87 L638.30,968.49 L639.00,971.78 L639.70,969.45 L640.40,967.61 L641.10,966.45 L641.80,964.00 L642.50,964.20 L643.20,965.44 L643.90,967.07 L644.60,966.32 L645.30,965.54 L646.00,965.25 L646.70,965.68 L647.40,967.14 L648.10,967.35 L648.80,967.76 L649.50,968.82 L650.20,970.58 L650.90,969.42 L651.60,967.86 L652.30,965.41 L653.00,965.43 L653.70,962.78 L654.40,960.89 L655.10,961.18 L655.80,962.25 L656.50,966.20 L657.20,966.44 L657.90,965.07 L658.60,966.11 L659.30,966.05 L660.00,966.75 L660.70,965.13 L661.40,965.36 L662.10,966.40 L662.80,963.62 L663.50,964.16 L664.20,964.06 L664.90,965.65 L665.60,962.66 L666.30,964.07 L667.00,963.71 L667.70,963.65 L668.40,961.03 L669.10,958.57 L669.80,960.19 L670.50,960.22 L671.20,960.47 L671.90,964.25 L672.60,963.41 L673.30,964.01 L674.00,963.81 L674.70,967.84 L675.40,968.31 L676.10,966.66 L676.80,968.74 L677.50,965.82 L678.20,965.92 L678.90,968.42 L679.60,966.88 L680.30,966.52 L681.00,967.29 L681.70,963.29 L682.40,965.00 L683.10,964.27 L683.80,966.03 L684.50,967.97" fill="none" stroke="#111111" stroke-width="1.00" stroke-linejoin="round"/>
<path d="M246.00,1005.20 L246.70,1005.91 L247.40,1006.10 L248.10,1006.62 L248.80,1006.57 L249.50,1007.53 L250.20,1007.86 L250.90,1009.57 L251.60,1010.35 L252.30,1010.46 L253.00,1010.70 L253.70,1012.33 L254.40,1013.77 L255.10,1016.73 L255.80,1016.99 L256.50,1019.40 L257.20,1020.94 L257.90,1023.15 L258.60,1022.60 L259.30,1019.82 L260.00,1020.01 L260.70,1019.24 L261.40,1019.17 L262.10,1018.02 L262.80,1016.48 L263.50,1014.37 L264.20,1013.91 L264.90,1013.02 L265.60,1012.31 L266.30,1012.14 L267.00,1011.79 L267.70,1012.68 L268.40,1010.67 L269.10,1010.97 L269.80,1009.86 L270.50,1009.83 L271.20,1008.39 L271.90,1010.27 L272.60,1009.85 L273.30,1011.93 L274.00,1012.79 L274.70,1013.85 L275.40,1013.27 L276.10,1014.92 L276.80,1012.75 L277.50,1010.76 L278.20,1010.19 L278.90,1007.47 L279.60,1006.93 L280.30,1005.94 L281.00,1004.60 L281.70,1005.15 L282.40,1004.32 L283.10,1003.77 L283.80,1002.99 L284.50,1003.43 L285.20,1002.19 L285.90,1002.71 L286.60,1002.84 L287.30,1005.24 L288.00,1005.64 L288.70,1006.52 L289.40,1007.11 L290.10,1007.78 L290.80,1006.82 L291.50,1008.20 L292.20,1011.10 L292.90,1010.47 L293.60,1009.40 L294.30,1009.89 L295.00,1011.97 L295.70,1011.58 L296.40,1010.98 L297.10,1011.38 L297.80,1010.76 L298.50,1008.81 L299.20,1008.19 L299.90,1007.68 L300.60,1006.46 L301.30,1006.14 L302.00,1005.90 L302.70,1005.40 L303.40,1004.42 L304.10,1003.47 L304.80,1003.24 L305.50,1004.21 L306.20,1004.03 L306.90,1004.34 L307.60,1004.68 L308.30,1006.13 L309.00,1006.68 L309.70,1005.73 L310.40,1008.03 L311.10,1009.08 L311.80,1009.72 L312.50,1010.94 L313.20,1012.59 L313.90,1014.15 L314.60,1015.44 L315.30,1017.60 L316.00,1016.70 L316.70,1015.81 L317.40,1014.75 L318.10,1016.47 L318.80,1015.80 L319.50,1014.58 L320.20,1013.15 L320.90,1010.40 L321.60,1010.83 L322.30,1009.98 L323.00,1006.71 L323.70,1008.85 L324.40,1007.49 L325.10,1005.88 L325.80,1004.79 L326.50,1005.10 L327.20,1006.53 L327.90,1008.36 L328.60,1010.02 L329.30,1008.91 L330.00,1010.54 L330.70,1018.08 L331.40,1022.65 L332.10,1019.61 L332.80,1014.38 L333.50,1009.19 L334.20,1005.62 L334.90,1001.56 L335.60,999.56 L336.30,996.18 L337.00,997.90 L337.70,1002.35 L338.40,1006.75 L339.10,1012.30 L339.80,1015.94 L340.50,1016.96 L341.20,1013.65 L341.90,1009.86 L342.60,1007.86 L343.30,1006.95 L344.00,1014.50 L344.70,1020.85 L345.40,1023.43 L346.10,1019.10 L346.80,1011.10 L347.50,1005.99 L348.20,1007.67 L348.90,1008.73 L349.60,1008.00 L350.30,1006.28 L351.00,1007.16 L351.70,1006.24 L352.40,1010.83 L353.10,1014.24 L353.80,1017.74 L354.50,1018.49 L355.20,1017.40 L355.90,1014.87 L356.60,1007.13 L357.30,1003.75 L358.00,1003.21 L358.70,1011.40 L359.40,1013.61 L360.10,1011.05 L360.80,1008.87 L361.50,1003.11 L362.20,1000.64 L362.90,1002.45 L363.60,1008.29 L364.30,1015.44 L365.00,1019.51 L365.70,1015.79 L366.40,1009.95 L367.10,1005.12 L367.80,1007.41 L368.50,1013.11 L369.20,1017.97 L369.90,1015.68 L370.60,1009.58 L371.30,1007.45 L372.00,1007.49 L372.70,1009.25 L373.40,1011.84 L374.10,1015.24 L374.80,1016.19 L375.50,1010.81 L376.20,1010.89 L376.90,1011.85 L377.60,1012.70 L378.30,1014.34 L379.00,1015.81 L379.70,1013.15 L380.40,1010.50 L381.10,1012.11 L381.80,1009.89 L382.50,1010.39 L383.20,1006.16 L383.90,1000.86 L384.60,997.83 L385.30,996.63 L386.00,1000.15 L386.70,1004.40 L387.40,1013.43 L388.10,1011.89 L388.80,1008.55 L389.50,1005.55 L390.20,1004.09 L390.90,1005.47 L391.60,1007.35 L392.30,1013.67 L393.00,1017.35 L393.70,1013.29 L394.40,1005.89 L395.10,1013.10 L395.80,1013.98 L396.50,1014.08 L397.20,1014.60 L397.90,1014.18 L398.60,1015.47 L399.30,1014.16 L400.00,1014.02 L400.70,1012.22 L401.40,1012.27 L402.10,1010.45 L402.80,1010.63 L403.50,1009.32 L404.20,1006.91 L404.90,1006.24 L405.60,1006.11 L406.30,1005.16 L407.00,1005.98 L407.70,1006.72 L408.40,1004.12 L409.10,1001.69 L409.80,999.32 L410.50,997.47 L411.20,998.12 L411.90,998.37 L412.60,998.15 L413.30,1000.69 L414.00,1000.94 L414.70,1000.13 L415.40,1000.69 L416.10,999.85 L416.80,999.84 L417.50,1000.55 L418.20,999.65 L418.90,1001.97 L419.60,1002.99 L420.30,1003.77 L421.00,1005.18 L421.70,1008.19 L422.40,1007.14 L423.10,1006.42 L423.80,1006.68 L424.50,1007.23 L425.20,1006.71 L425.90,1006.97 L426.60,1006.49 L427.30,1008.66 L428.00,1009.09 L428.70,1010.61 L429.40,1012.73 L430.10,1012.77 L430.80,1012.72 L431.50,1013.42 L432.20,1014.92 L432.90,1013.90 L433.60,1013.77 L434.30,1012.61 L435.00,1012.44 L435.70,1011.12 L436.40,1010.64 L437.10,1008.71 L437.80,1010.17 L438.50,1008.50 L439.20,1007.25 L439.90,1007.35 L440.60,1008.32 L441.30,1008.37 L442.00,1008.15 L442.70,1007.96 L443.40,1007.03 L444.10,1006.74 L444.80,1005.80 L445.50,1005.73 L446.20,1005.62 L446.90,1005.04 L447.60,1005.27 L448.30,1003.43 L449.00,1003.49 L449.70,1002.90 L450.40,1002.72 L451.10,1001.83 L451.80,1002.91 L452.50,1004.27 L453.20,1005.02 L453.90,1006.87 L454.60,1006.96 L455.30,1007.88 L456.00,1009.29 L456.70,1008.92 L457.40,1009.57 L458.10,1009.80 L458.80,1010.10 L459.50,1011.82 L460.20,1004.84 L460.90,1008.20 L461.60,1006.76 L462.30,1008.14 L463.00,1007.86 L463.70,1008.28 L464.40,1009.21 L465.10,1007.28 L465.80,1006.49 L466.50,1007.74 L467.20,1007.92 L467.90,1008.16 L468.60,1009.32 L469.30,1009.29 L470.00,1009.00 L470.70,1007.04 L471.40,1005.76 L472.10,1007.29 L472.80,1007.53 L473.50,1004.87 L474.20,1004.35 L474.90,1004.80 L475.60,1002.43 L476.30,1004.47 L477.00,1004.48 L477.70,1006.23 L478.40,1004.30 L479.10,1010.64 L479.80,1010.52 L480.50,1013.23 L481.20,1011.97 L481.90,1010.49 L482.60,1011.56 L483.30,1008.88 L484.00,1009.64 L484.70,1009.43 L485.40,1008.17 L486.10,1007.90 L486.80,1009.21 L487.50,1008.31 L488.20,1006.17 L488.90,1006.64 L489.60,1008.22 L490.30,1006.05 L491.00,1006.42 L491.70,1005.14 L492.40,1002.58 L493.10,1003.17 L493.80,1005.74 L494.50,1005.98 L495.20,1006.60 L495.90,1009.42 L496.60,1013.12 L497.30,1011.33 L498.00,1009.09 L498.70,1008.91 L499.40,1008.07 L500.10,1009.67 L500.80,1009.36 L501.50,1006.63 L502.20,1006.29 L502.90,1009.14 L503.60,1006.95 L504.30,1009.54 L505.00,1009.90 L505.70,1007.82 L506.40,1005.97 L507.10,1006.68 L507.80,1007.24 L508.50,1015.12 L509.20,1014.13 L509.90,1013.38 L510.60,1010.30 L511.30,1010.92 L512.00,1010.35 L512.70,1009.90 L513.40,1009.40 L514.10,1008.92 L514.80,1008.42 L515.50,1010.96 L516.20,1010.36 L516.90,1010.08 L517.60,1008.83 L518.30,1009.81 L519.00,1008.37 L519.70,1007.55 L520.40,1006.99 L521.10,1008.26 L521.80,1012.06 L522.50,1018.39 L523.20,1027.23 L523.90,1021.82 L524.60,1008.31 L525.30,1001.08 L526.00,1000.10 L526.70,1000.71 L527.40,1001.58 L528.10,1010.08 L528.80,1019.54 L529.50,1023.36 L530.20,1009.46 L530.90,1003.61 L531.60,1001.97 L532.30,1001.81 L533.00,1004.36 L533.70,1009.05 L534.40,1012.20 L535.10,1014.07 L535.80,1017.05 L536.50,1015.79 L537.20,1014.31 L537.90,1013.34 L538.60,1006.86 L539.30,1006.60 L540.00,1010.14 L540.70,1013.46 L541.40,1014.20 L542.10,1015.47 L542.80,1012.42 L543.50,1007.50 L544.20,1005.07 L544.90,1003.77 L545.60,1005.70 L546.30,1012.73 L547.00,1010.23 L547.70,1004.33 L548.40,1004.64 L549.10,1006.39 L549.80,1009.36 L550.50,1012.14 L551.20,1011.58 L551.90,1008.45 L552.60,1005.29 L553.30,1005.39 L554.00,1005.14 L554.70,1008.00 L555.40,1012.54 L556.10,1011.61 L556.80,1005.91 L557.50,1004.85 L558.20,1003.30 L558.90,1001.65 L559.60,1001.26 L560.30,1002.32 L561.00,1001.96 L561.70,1003.84 L562.40,1008.86 L563.10,1013.40 L563.80,1019.13 L564.50,1013.92 L565.20,1008.14 L565.90,1005.21 L566.60,1005.61 L567.30,1008.59 L568.00,1009.10 L568.70,1012.33 L569.40,1014.99 L570.10,1013.88 L570.80,1009.56 L571.50,1006.73 L572.20,1006.06 L572.90,1006.36 L573.60,1008.74 L574.30,1012.51 L575.00,1011.11 L575.70,1008.42 L576.40,1007.74 L577.10,1005.74 L577.80,1003.63 L578.50,1001.77 L579.20,998.96 L579.90,997.87 L580.60,999.42 L581.30,1004.30 L582.00,1008.19 L582.70,1014.15 L583.40,1012.81 L584.10,1008.04 L584.80,1004.98 L585.50,1003.76 L586.20,1006.27 L586.90,1011.71 L587.60,1013.23 L588.30,1015.10 L589.00,1014.32 L589.70,1013.17 L590.40,1008.84 L591.10,1006.06 L591.80,1005.99 L592.50,1003.02 L593.20,1001.75 L593.90,1002.79 L594.60,1005.61 L595.30,1007.30 L596.00,1006.80 L596.70,1007.73 L597.40,1009.86 L598.10,1011.70 L598.80,1010.38 L599.50,1005.49 L600.20,1007.62 L600.90,1007.06 L601.60,1008.16 L602.30,1009.15 L603.00,1006.93 L603.70,1008.04 L604.40,1011.51 L605.10,1010.33 L605.80,1010.30 L606.50,1007.14 L607.20,1006.94 L607.90,1004.46 L608.60,1004.88 L609.30,1003.24 L610.00,1003.50 L610.70,1002.05 L611.40,1003.23 L612.10,1002.74 L612.80,1002.47 L613.50,1005.43 L614.20,1009.69 L614.90,1014.17 L615.60,1012.96 L616.30,1009.57 L617.00,1008.99 L617.70,1010.70 L618.40,1010.99 L619.10,1008.43 L619.80,1006.60 L620.50,1001.24 L621.20,1000.98 L621.90,1002.82 L622.60,1000.74 L623.30,1005.50 L624.00,1006.84 L624.70,1007.68 L625.40,1007.96 L626.10,1009.37 L626.80,1009.38 L627.50,1010.49 L628.20,1009.08 L628.90,1009.33 L629.60,1011.73 L630.30,1011.42 L631.00,1013.74 L631.70,1011.10 L632.40,1012.02 L633.10,1012.43 L633.80,1012.48 L634.50,1012.92 L635.20,1008.97 L635.90,1008.62 L636.60,1009.39 L637.30,1009.04 L638.00,1008.35 L638.70,1010.20 L639.40,1010.06 L640.10,1009.98 L640.80,1007.78 L641.50,1008.77 L642.20,1010.77 L642.90,1011.25 L643.60,1008.87 L644.30,1011.28 L645.00,1012.89 L645.70,1009.45 L646.40,1012.93 L647.10,1015.88 L647.80,1013.34 L648.50,1010.82 L649.20,1008.81 L649.90,1006.86 L650.60,1005.38 L651.30,1007.02 L652.00,1011.49 L652.70,1011.27 L653.40,1006.71 L654.10,1012.13 L654.80,1006.31 L655.50,1004.13 L656.20,1005.55 L656.90,1006.97 L657.60,1008.27 L658.30,1010.11 L659.00,1008.80 L659.70,1011.60 L660.40,1010.01 L661.10,1009.27 L661.80,1012.50 L662.50,1011.10 L663.20,1008.29 L663.90,1010.28 L664.60,1008.97 L665.30,1007.97 L666.00,1005.29 L666.70,1002.30 L667.40,1001.96 L668.10,1004.07 L668.80,1006.74 L669.50,1004.99 L670.20,1008.13 L670.90,1008.29 L671.60,1009.86 L672.30,1009.80 L673.00,1010.66 L673.70,1008.85 L674.40,1009.27 L675.10,1008.90 L675.80,1008.34 L676.50,1008.00 L677.20,1005.58 L677.90,1009.56 L678.60,1009.36 L679.30,1010.62 L680.00,1009.96 L680.70,1009.69 L681.40,1009.73 L682.10,1006.02 L682.80,1005.98 L683.50,1006.32 L684.20,1007.49 L684.90,1007.73" fill="none" stroke="#111111" stroke-width="1.00" stroke-linejoin="round"/>
<path d="M650.00,990.30 L679.00,990.30 L679.00,977.30" fill="none" stroke="#111" stroke-width="1.6"/>
<text x="641.2" y="984.3" font-size="7.8" fill="#1a1a1a" textLength="29.8" lengthAdjust="spacingAndGlyphs" stroke="#1a1a1a" stroke-width="0.35">0.25 mV</text>
<text x="652.4" y="1000.1" font-size="7.8" fill="#1a1a1a" textLength="16.8" lengthAdjust="spacingAndGlyphs" stroke="#1a1a1a" stroke-width="0.35">0.5 s</text>
<text x="11.9" y="1033.6" font-size="17.0" fill="#1a1a1a" stroke="#1a1a1a" stroke-width="0.40">R</text>
<path d="M31.00,1081.51 C32.97,1081.20 39.14,1079.56 42.85,1079.69 C46.55,1079.82 48.20,1080.86 53.22,1082.29 C58.25,1083.71 68.39,1087.26 73.00,1088.26 C77.62,1089.25 78.61,1088.56 80.91,1088.26 C83.22,1087.95 85.10,1086.14 86.85,1086.44 C88.60,1086.74 89.12,1087.78 91.40,1090.07 C93.68,1092.37 97.92,1098.08 100.54,1100.20 C103.17,1102.32 103.65,1101.19 107.15,1102.79 C110.65,1104.39 114.32,1107.07 121.54,1109.80 C128.75,1112.52 142.51,1115.60 150.41,1119.14 C158.32,1122.69 163.22,1127.67 168.95,1131.08 C174.67,1134.50 179.31,1137.92 184.76,1139.65 C190.20,1141.38 198.81,1141.16 201.62,1141.46" fill="none" stroke="#d81e3a" stroke-opacity="0.2" stroke-width="2.16" stroke-linejoin="round" stroke-linecap="round"/>
<path d="M31.00,1081.51 C32.97,1081.20 39.14,1079.56 42.85,1079.69 C46.55,1079.82 48.20,1080.86 53.22,1082.29 C58.25,1083.71 68.39,1087.26 73.00,1088.26 C77.62,1089.25 78.61,1088.56 80.91,1088.26 C83.22,1087.95 85.10,1086.14 86.85,1086.44 C88.60,1086.74 89.12,1087.78 91.40,1090.07 C93.68,1092.37 97.92,1098.08 100.54,1100.20 C103.17,1102.32 103.65,1101.19 107.15,1102.79 C110.65,1104.39 114.32,1107.07 121.54,1109.80 C128.75,1112.52 142.51,1115.60 150.41,1119.14 C158.32,1122.69 163.22,1127.67 168.95,1131.08 C174.67,1134.50 179.31,1137.92 184.76,1139.65 C190.20,1141.38 198.81,1141.16 201.62,1141.46" fill="none" stroke="#d81e3a" stroke-width="1.35" stroke-linejoin="round" stroke-linecap="round"/>
<path d="M31.00,1081.51 C32.97,1081.20 39.14,1079.56 42.85,1079.69 C46.55,1079.82 48.20,1080.95 53.22,1082.29 C58.25,1083.63 68.39,1086.87 73.00,1087.74 C77.62,1088.60 78.61,1087.82 80.91,1087.48 C83.22,1087.13 85.10,1085.31 86.85,1085.66 C88.60,1086.01 89.12,1087.26 91.40,1089.55 C93.68,1091.85 97.92,1097.43 100.54,1099.42 C103.17,1101.41 103.65,1099.85 107.15,1101.49 C110.65,1103.14 114.32,1106.42 121.54,1109.28 C128.75,1112.14 142.51,1115.12 150.41,1118.62 C158.32,1122.13 163.22,1127.02 168.95,1130.30 C174.67,1133.59 179.31,1136.79 184.76,1138.35 C190.20,1139.91 198.81,1139.43 201.62,1139.65" fill="none" stroke="#1414f0" stroke-opacity="0.2" stroke-width="2.16" stroke-linejoin="round" stroke-linecap="round"/>
<path d="M31.00,1081.51 C32.97,1081.20 39.14,1079.56 42.85,1079.69 C46.55,1079.82 48.20,1080.95 53.22,1082.29 C58.25,1083.63 68.39,1086.87 73.00,1087.74 C77.62,1088.60 78.61,1087.82 80.91,1087.48 C83.22,1087.13 85.10,1085.31 86.85,1085.66 C88.60,1086.01 89.12,1087.26 91.40,1089.55 C93.68,1091.85 97.92,1097.43 100.54,1099.42 C103.17,1101.41 103.65,1099.85 107.15,1101.49 C110.65,1103.14 114.32,1106.42 121.54,1109.28 C128.75,1112.14 142.51,1115.12 150.41,1118.62 C158.32,1122.13 163.22,1127.02 168.95,1130.30 C174.67,1133.59 179.31,1136.79 184.76,1138.35 C190.20,1139.91 198.81,1139.43 201.62,1139.65" fill="none" stroke="#1414f0" stroke-width="1.35" stroke-linejoin="round" stroke-linecap="round"/>
<rect x="31.00" y="1039.20" width="171.80" height="116.80" fill="none" stroke="#666" stroke-width="0.9"/>
<line x1="29.00" y1="1039.20" x2="31.00" y2="1039.20" stroke="#666" stroke-width="0.8"/>
<text x="28" y="1041.8" font-size="7.3" fill="#1a1a1a" text-anchor="end" stroke="#1a1a1a" stroke-width="0.35">-20</text>
<line x1="29.00" y1="1052.18" x2="31.00" y2="1052.18" stroke="#666" stroke-width="0.8"/>
<text x="28" y="1054.78" font-size="7.3" fill="#1a1a1a" text-anchor="end" stroke="#1a1a1a" stroke-width="0.35">-25</text>
<line x1="29.00" y1="1065.16" x2="31.00" y2="1065.16" stroke="#666" stroke-width="0.8"/>
<text x="28" y="1067.76" font-size="7.3" fill="#1a1a1a" text-anchor="end" stroke="#1a1a1a" stroke-width="0.35">-30</text>
<line x1="29.00" y1="1078.13" x2="31.00" y2="1078.13" stroke="#666" stroke-width="0.8"/>
<text x="28" y="1080.73" font-size="7.3" fill="#1a1a1a" text-anchor="end" stroke="#1a1a1a" stroke-width="0.35">-35</text>
<line x1="29.00" y1="1091.11" x2="31.00" y2="1091.11" stroke="#666" stroke-width="0.8"/>
<text x="28" y="1093.71" font-size="7.3" fill="#1a1a1a" text-anchor="end" stroke="#1a1a1a" stroke-width="0.35">-40</text>
<line x1="29.00" y1="1104.09" x2="31.00" y2="1104.09" stroke="#666" stroke-width="0.8"/>
<text x="28" y="1106.69" font-size="7.3" fill="#1a1a1a" text-anchor="end" stroke="#1a1a1a" stroke-width="0.35">-45</text>
<line x1="29.00" y1="1117.07" x2="31.00" y2="1117.07" stroke="#666" stroke-width="0.8"/>
<text x="28" y="1119.67" font-size="7.3" fill="#1a1a1a" text-anchor="end" stroke="#1a1a1a" stroke-width="0.35">-50</text>
<line x1="29.00" y1="1130.04" x2="31.00" y2="1130.04" stroke="#666" stroke-width="0.8"/>
<text x="28" y="1132.64" font-size="7.3" fill="#1a1a1a" text-anchor="end" stroke="#1a1a1a" stroke-width="0.35">-55</text>
<line x1="29.00" y1="1143.02" x2="31.00" y2="1143.02" stroke="#666" stroke-width="0.8"/>
<text x="28" y="1145.62" font-size="7.3" fill="#1a1a1a" text-anchor="end" stroke="#1a1a1a" stroke-width="0.35">-60</text>
<line x1="29.00" y1="1156.00" x2="31.00" y2="1156.00" stroke="#666" stroke-width="0.8"/>
<text x="28" y="1158.6" font-size="7.3" fill="#1a1a1a" text-anchor="end" stroke="#1a1a1a" stroke-width="0.35">-65</text>
<line x1="31.00" y1="1156.00" x2="31.00" y2="1158.20" stroke="#666" stroke-width="0.7"/>
<line x1="52.31" y1="1156.00" x2="52.31" y2="1157.20" stroke="#666" stroke-width="0.7"/>
<line x1="64.78" y1="1156.00" x2="64.78" y2="1157.20" stroke="#666" stroke-width="0.7"/>
<line x1="73.63" y1="1156.00" x2="73.63" y2="1157.20" stroke="#666" stroke-width="0.7"/>
<line x1="80.49" y1="1156.00" x2="80.49" y2="1157.20" stroke="#666" stroke-width="0.7"/>
<line x1="86.09" y1="1156.00" x2="86.09" y2="1157.20" stroke="#666" stroke-width="0.7"/>
<line x1="90.83" y1="1156.00" x2="90.83" y2="1157.20" stroke="#666" stroke-width="0.7"/>
<line x1="94.94" y1="1156.00" x2="94.94" y2="1157.20" stroke="#666" stroke-width="0.7"/>
<line x1="98.56" y1="1156.00" x2="98.56" y2="1157.20" stroke="#666" stroke-width="0.7"/>
<text x="31" y="1166.6" font-size="7.5" fill="#1a1a1a" text-anchor="middle" stroke="#1a1a1a" stroke-width="0.35">1</text>
<line x1="101.80" y1="1156.00" x2="101.80" y2="1158.20" stroke="#666" stroke-width="0.7"/>
<line x1="123.11" y1="1156.00" x2="123.11" y2="1157.20" stroke="#666" stroke-width="0.7"/>
<line x1="135.58" y1="1156.00" x2="135.58" y2="1157.20" stroke="#666" stroke-width="0.7"/>
<line x1="144.43" y1="1156.00" x2="144.43" y2="1157.20" stroke="#666" stroke-width="0.7"/>
<line x1="151.29" y1="1156.00" x2="151.29" y2="1157.20" stroke="#666" stroke-width="0.7"/>
<line x1="156.89" y1="1156.00" x2="156.89" y2="1157.20" stroke="#666" stroke-width="0.7"/>
<line x1="161.63" y1="1156.00" x2="161.63" y2="1157.20" stroke="#666" stroke-width="0.7"/>
<line x1="165.74" y1="1156.00" x2="165.74" y2="1157.20" stroke="#666" stroke-width="0.7"/>
<line x1="169.36" y1="1156.00" x2="169.36" y2="1157.20" stroke="#666" stroke-width="0.7"/>
<text x="101.8" y="1166.6" font-size="7.5" fill="#1a1a1a" text-anchor="middle" stroke="#1a1a1a" stroke-width="0.35">10</text>
<line x1="172.60" y1="1156.00" x2="172.60" y2="1158.20" stroke="#666" stroke-width="0.7"/>
<line x1="193.91" y1="1156.00" x2="193.91" y2="1157.20" stroke="#666" stroke-width="0.7"/>
<text x="172.6" y="1166.6" font-size="7.5" fill="#1a1a1a" text-anchor="middle" stroke="#1a1a1a" stroke-width="0.35">100</text>
<text transform="translate(12.5,1100.6) rotate(-90)" x="0" y="0" font-size="8.0" fill="#1a1a1a" text-anchor="middle" textLength="38.2" lengthAdjust="spacingAndGlyphs" stroke="#1a1a1a" stroke-width="0.35">Power [dB]</text>
<text x="84.1" y="1177.2" font-size="7.8" fill="#1a1a1a" textLength="51.4" lengthAdjust="spacingAndGlyphs" stroke="#1a1a1a" stroke-width="0.35">Frequency [Hz]</text>
<text x="223.6" y="1033.8" font-size="17.5" fill="#1a1a1a" stroke="#1a1a1a" stroke-width="0.41">S</text>
<path d="M245.70,1069.62 C247.50,1069.23 250.54,1066.85 256.50,1067.28 C262.45,1067.71 273.31,1070.40 281.42,1072.19 C289.53,1073.99 299.47,1076.60 305.17,1078.04 C310.88,1079.49 312.41,1080.07 315.66,1080.85 C318.91,1081.63 321.20,1080.07 324.68,1082.72 C328.16,1085.38 332.35,1092.90 336.53,1096.76 C340.70,1100.62 344.87,1102.61 349.70,1105.89 C354.54,1109.17 360.71,1113.07 365.53,1116.42 C370.36,1119.77 373.84,1122.19 378.64,1126.01 C383.45,1129.84 388.03,1136.35 394.37,1139.35 C400.71,1142.36 412.97,1143.25 416.68,1144.03" fill="none" stroke="#d81e3a" stroke-opacity="0.2" stroke-width="2.16" stroke-linejoin="round" stroke-linecap="round"/>
<path d="M245.70,1069.62 C247.50,1069.23 250.54,1066.85 256.50,1067.28 C262.45,1067.71 273.31,1070.40 281.42,1072.19 C289.53,1073.99 299.47,1076.60 305.17,1078.04 C310.88,1079.49 312.41,1080.07 315.66,1080.85 C318.91,1081.63 321.20,1080.07 324.68,1082.72 C328.16,1085.38 332.35,1092.90 336.53,1096.76 C340.70,1100.62 344.87,1102.61 349.70,1105.89 C354.54,1109.17 360.71,1113.07 365.53,1116.42 C370.36,1119.77 373.84,1122.19 378.64,1126.01 C383.45,1129.84 388.03,1136.35 394.37,1139.35 C400.71,1142.36 412.97,1143.25 416.68,1144.03" fill="none" stroke="#d81e3a" stroke-width="1.35" stroke-linejoin="round" stroke-linecap="round"/>
<path d="M245.70,1070.09 C247.50,1069.78 250.54,1067.71 256.50,1068.22 C262.45,1068.72 273.31,1071.34 281.42,1073.13 C289.53,1074.92 299.47,1077.58 305.17,1078.98 C310.88,1080.38 312.41,1080.85 315.66,1081.55 C318.91,1082.26 321.20,1080.58 324.68,1083.19 C328.16,1085.81 332.35,1093.45 336.53,1097.23 C340.70,1101.01 344.87,1102.73 349.70,1105.89 C354.54,1109.05 360.71,1112.91 365.53,1116.19 C370.36,1119.46 373.84,1121.80 378.64,1125.55 C383.45,1129.29 388.03,1135.73 394.37,1138.65 C400.71,1141.58 412.97,1142.36 416.68,1143.10" fill="none" stroke="#1414f0" stroke-opacity="0.2" stroke-width="2.16" stroke-linejoin="round" stroke-linecap="round"/>
<path d="M245.70,1070.09 C247.50,1069.78 250.54,1067.71 256.50,1068.22 C262.45,1068.72 273.31,1071.34 281.42,1073.13 C289.53,1074.92 299.47,1077.58 305.17,1078.98 C310.88,1080.38 312.41,1080.85 315.66,1081.55 C318.91,1082.26 321.20,1080.58 324.68,1083.19 C328.16,1085.81 332.35,1093.45 336.53,1097.23 C340.70,1101.01 344.87,1102.73 349.70,1105.89 C354.54,1109.05 360.71,1112.91 365.53,1116.19 C370.36,1119.46 373.84,1121.80 378.64,1125.55 C383.45,1129.29 388.03,1135.73 394.37,1138.65 C400.71,1141.58 412.97,1142.36 416.68,1143.10" fill="none" stroke="#1414f0" stroke-width="1.35" stroke-linejoin="round" stroke-linecap="round"/>
<rect x="245.70" y="1039.20" width="171.80" height="117.00" fill="none" stroke="#666" stroke-width="0.9"/>
<line x1="243.70" y1="1039.20" x2="245.70" y2="1039.20" stroke="#666" stroke-width="0.8"/>
<text x="242.7" y="1041.8" font-size="7.3" fill="#1a1a1a" text-anchor="end" stroke="#1a1a1a" stroke-width="0.35">-20</text>
<line x1="243.70" y1="1062.60" x2="245.70" y2="1062.60" stroke="#666" stroke-width="0.8"/>
<text x="242.7" y="1065.2" font-size="7.3" fill="#1a1a1a" text-anchor="end" stroke="#1a1a1a" stroke-width="0.35">-30</text>
<line x1="243.70" y1="1086.00" x2="245.70" y2="1086.00" stroke="#666" stroke-width="0.8"/>
<text x="242.7" y="1088.6" font-size="7.3" fill="#1a1a1a" text-anchor="end" stroke="#1a1a1a" stroke-width="0.35">-40</text>
<line x1="243.70" y1="1109.40" x2="245.70" y2="1109.40" stroke="#666" stroke-width="0.8"/>
<text x="242.7" y="1112" font-size="7.3" fill="#1a1a1a" text-anchor="end" stroke="#1a1a1a" stroke-width="0.35">-50</text>
<line x1="243.70" y1="1132.80" x2="245.70" y2="1132.80" stroke="#666" stroke-width="0.8"/>
<text x="242.7" y="1135.4" font-size="7.3" fill="#1a1a1a" text-anchor="end" stroke="#1a1a1a" stroke-width="0.35">-60</text>
<line x1="243.70" y1="1156.20" x2="245.70" y2="1156.20" stroke="#666" stroke-width="0.8"/>
<text x="242.7" y="1158.8" font-size="7.3" fill="#1a1a1a" text-anchor="end" stroke="#1a1a1a" stroke-width="0.35">-70</text>
<line x1="245.70" y1="1156.20" x2="245.70" y2="1158.40" stroke="#666" stroke-width="0.7"/>
<line x1="267.04" y1="1156.20" x2="267.04" y2="1157.40" stroke="#666" stroke-width="0.7"/>
<line x1="279.53" y1="1156.20" x2="279.53" y2="1157.40" stroke="#666" stroke-width="0.7"/>
<line x1="288.39" y1="1156.20" x2="288.39" y2="1157.40" stroke="#666" stroke-width="0.7"/>
<line x1="295.26" y1="1156.20" x2="295.26" y2="1157.40" stroke="#666" stroke-width="0.7"/>
<line x1="300.87" y1="1156.20" x2="300.87" y2="1157.40" stroke="#666" stroke-width="0.7"/>
<line x1="305.62" y1="1156.20" x2="305.62" y2="1157.40" stroke="#666" stroke-width="0.7"/>
<line x1="309.73" y1="1156.20" x2="309.73" y2="1157.40" stroke="#666" stroke-width="0.7"/>
<line x1="313.36" y1="1156.20" x2="313.36" y2="1157.40" stroke="#666" stroke-width="0.7"/>
<text x="245.7" y="1166.8" font-size="7.5" fill="#1a1a1a" text-anchor="middle" stroke="#1a1a1a" stroke-width="0.35">1</text>
<line x1="316.60" y1="1156.20" x2="316.60" y2="1158.40" stroke="#666" stroke-width="0.7"/>
<line x1="337.94" y1="1156.20" x2="337.94" y2="1157.40" stroke="#666" stroke-width="0.7"/>
<line x1="350.43" y1="1156.20" x2="350.43" y2="1157.40" stroke="#666" stroke-width="0.7"/>
<line x1="359.29" y1="1156.20" x2="359.29" y2="1157.40" stroke="#666" stroke-width="0.7"/>
<line x1="366.16" y1="1156.20" x2="366.16" y2="1157.40" stroke="#666" stroke-width="0.7"/>
<line x1="371.77" y1="1156.20" x2="371.77" y2="1157.40" stroke="#666" stroke-width="0.7"/>
<line x1="376.52" y1="1156.20" x2="376.52" y2="1157.40" stroke="#666" stroke-width="0.7"/>
<line x1="380.63" y1="1156.20" x2="380.63" y2="1157.40" stroke="#666" stroke-width="0.7"/>
<line x1="384.26" y1="1156.20" x2="384.26" y2="1157.40" stroke="#666" stroke-width="0.7"/>
<text x="316.6" y="1166.8" font-size="7.5" fill="#1a1a1a" text-anchor="middle" stroke="#1a1a1a" stroke-width="0.35">10</text>
<line x1="387.50" y1="1156.20" x2="387.50" y2="1158.40" stroke="#666" stroke-width="0.7"/>
<line x1="408.84" y1="1156.20" x2="408.84" y2="1157.40" stroke="#666" stroke-width="0.7"/>
<text x="387.5" y="1166.8" font-size="7.5" fill="#1a1a1a" text-anchor="middle" stroke="#1a1a1a" stroke-width="0.35">100</text>
<text transform="translate(227.9,1098.9) rotate(-90)" x="0" y="0" font-size="8.0" fill="#1a1a1a" text-anchor="middle" textLength="38.2" lengthAdjust="spacingAndGlyphs" stroke="#1a1a1a" stroke-width="0.35">Power [dB]</text>
<text x="302.6" y="1177.2" font-size="7.8" fill="#1a1a1a" textLength="51.4" lengthAdjust="spacingAndGlyphs" stroke="#1a1a1a" stroke-width="0.35">Frequency [Hz]</text>
<text x="433.3" y="1033.5" font-size="17.0" fill="#1a1a1a" stroke="#1a1a1a" stroke-width="0.40">T</text>
<rect x="562.40" y="1039.70" width="116.50" height="107.30" fill="#d9d9d9"/>
<path d="M460.50,1135.20 L470.69,1115.45 L480.88,1107.30 L491.07,1104.51 L501.26,1098.71 L511.45,1095.93 L521.64,1092.06 L531.83,1090.77 L542.02,1090.13 L552.21,1069.31 L562.40,1053.22 L572.59,1069.10 L582.78,1077.04 L592.97,1075.32 L603.16,1075.75 L613.35,1078.76 L623.54,1079.83 L633.73,1080.90 L643.92,1084.12 L654.11,1088.20 L664.30,1097.43 L674.49,1115.24 L674.49,1121.68 L664.30,1103.87 L654.11,1094.64 L643.92,1090.56 L633.73,1087.34 L623.54,1088.41 L613.35,1087.34 L603.16,1084.34 L592.97,1083.91 L582.78,1085.62 L572.59,1079.83 L562.40,1061.80 L552.21,1077.90 L542.02,1096.57 L531.83,1097.21 L521.64,1100.65 L511.45,1104.51 L501.26,1107.30 L491.07,1110.95 L480.88,1115.88 L470.69,1124.04 L460.50,1139.49 Z" fill="rgba(200,70,80,0.2)" stroke="none"/>
<path d="M460.50,1135.63 L470.69,1102.15 L480.88,1099.36 L491.07,1108.37 L501.26,1104.29 L511.45,1099.79 L521.64,1099.14 L531.83,1090.77 L542.02,1090.77 L552.21,1063.95 L562.40,1066.10 L572.59,1076.18 L582.78,1078.33 L592.97,1090.56 L603.16,1085.20 L613.35,1084.12 L623.54,1077.47 L633.73,1080.47 L643.92,1085.20 L654.11,1084.12 L664.30,1096.78 L674.49,1121.25 L674.49,1129.83 L664.30,1105.37 L654.11,1092.71 L643.92,1093.78 L633.73,1089.06 L623.54,1086.05 L613.35,1092.71 L603.16,1095.93 L592.97,1107.73 L582.78,1089.06 L572.59,1089.06 L562.40,1081.12 L552.21,1078.97 L542.02,1097.21 L531.83,1097.21 L521.64,1105.58 L511.45,1106.23 L501.26,1110.73 L491.07,1114.81 L480.88,1110.09 L470.69,1112.88 L460.50,1139.92 Z" fill="rgba(70,70,235,0.2)" stroke="none"/>
<path d="M460.50,1137.34 L470.69,1119.75 L480.88,1111.59 L491.07,1107.73 L501.26,1103.01 L511.45,1100.22 L521.64,1096.35 L531.83,1093.99 L542.02,1093.35 L552.21,1073.61 L562.40,1057.51 L572.59,1074.47 L582.78,1081.33 L592.97,1079.62 L603.16,1080.04 L613.35,1083.05 L623.54,1084.12 L633.73,1084.12 L643.92,1087.34 L654.11,1091.42 L664.30,1100.65 L674.49,1118.46" fill="none" stroke="#d81e3a" stroke-width="1.4" stroke-linejoin="round"/>
<path d="M460.50,1137.77 L470.69,1107.51 L480.88,1104.72 L491.07,1111.59 L501.26,1107.51 L511.45,1103.01 L521.64,1102.36 L531.83,1093.99 L542.02,1093.99 L552.21,1071.46 L562.40,1073.61 L572.59,1082.62 L582.78,1083.69 L592.97,1099.14 L603.16,1090.56 L613.35,1088.41 L623.54,1081.76 L633.73,1084.77 L643.92,1089.49 L654.11,1088.41 L664.30,1101.08 L674.49,1125.54" fill="none" stroke="#1414f0" stroke-width="1.4" stroke-linejoin="round"/>
<rect x="455.20" y="1039.70" width="223.70" height="107.30" fill="none" stroke="#666" stroke-width="0.9"/>
<line x1="453.20" y1="1147.00" x2="455.20" y2="1147.00" stroke="#666" stroke-width="0.8"/>
<text x="451.3" y="1149.6" font-size="7.5" fill="#1a1a1a" text-anchor="end" stroke="#1a1a1a" stroke-width="0.35">0</text>
<line x1="453.20" y1="1125.54" x2="455.20" y2="1125.54" stroke="#666" stroke-width="0.8"/>
<text x="451.3" y="1128.14" font-size="7.5" fill="#1a1a1a" text-anchor="end" stroke="#1a1a1a" stroke-width="0.35">1</text>
<line x1="453.20" y1="1104.08" x2="455.20" y2="1104.08" stroke="#666" stroke-width="0.8"/>
<text x="451.3" y="1106.68" font-size="7.5" fill="#1a1a1a" text-anchor="end" stroke="#1a1a1a" stroke-width="0.35">2</text>
<line x1="453.20" y1="1082.62" x2="455.20" y2="1082.62" stroke="#666" stroke-width="0.8"/>
<text x="451.3" y="1085.22" font-size="7.5" fill="#1a1a1a" text-anchor="end" stroke="#1a1a1a" stroke-width="0.35">3</text>
<line x1="453.20" y1="1061.16" x2="455.20" y2="1061.16" stroke="#666" stroke-width="0.8"/>
<text x="451.3" y="1063.76" font-size="7.5" fill="#1a1a1a" text-anchor="end" stroke="#1a1a1a" stroke-width="0.35">4</text>
<line x1="453.20" y1="1039.70" x2="455.20" y2="1039.70" stroke="#666" stroke-width="0.8"/>
<text x="451.3" y="1042.3" font-size="7.5" fill="#1a1a1a" text-anchor="end" stroke="#1a1a1a" stroke-width="0.35">5</text>
<line x1="460.50" y1="1147.00" x2="460.50" y2="1148.80" stroke="#666" stroke-width="0.7"/>
<line x1="470.69" y1="1147.00" x2="470.69" y2="1148.80" stroke="#666" stroke-width="0.7"/>
<line x1="480.88" y1="1147.00" x2="480.88" y2="1148.80" stroke="#666" stroke-width="0.7"/>
<line x1="491.07" y1="1147.00" x2="491.07" y2="1148.80" stroke="#666" stroke-width="0.7"/>
<line x1="501.26" y1="1147.00" x2="501.26" y2="1148.80" stroke="#666" stroke-width="0.7"/>
<line x1="511.45" y1="1147.00" x2="511.45" y2="1148.80" stroke="#666" stroke-width="0.7"/>
<line x1="521.64" y1="1147.00" x2="521.64" y2="1148.80" stroke="#666" stroke-width="0.7"/>
<line x1="531.83" y1="1147.00" x2="531.83" y2="1148.80" stroke="#666" stroke-width="0.7"/>
<line x1="542.02" y1="1147.00" x2="542.02" y2="1148.80" stroke="#666" stroke-width="0.7"/>
<line x1="552.21" y1="1147.00" x2="552.21" y2="1148.80" stroke="#666" stroke-width="0.7"/>
<line x1="562.40" y1="1147.00" x2="562.40" y2="1148.80" stroke="#666" stroke-width="0.7"/>
<line x1="572.59" y1="1147.00" x2="572.59" y2="1148.80" stroke="#666" stroke-width="0.7"/>
<line x1="582.78" y1="1147.00" x2="582.78" y2="1148.80" stroke="#666" stroke-width="0.7"/>
<line x1="592.97" y1="1147.00" x2="592.97" y2="1148.80" stroke="#666" stroke-width="0.7"/>
<line x1="603.16" y1="1147.00" x2="603.16" y2="1148.80" stroke="#666" stroke-width="0.7"/>
<line x1="613.35" y1="1147.00" x2="613.35" y2="1148.80" stroke="#666" stroke-width="0.7"/>
<line x1="623.54" y1="1147.00" x2="623.54" y2="1148.80" stroke="#666" stroke-width="0.7"/>
<line x1="633.73" y1="1147.00" x2="633.73" y2="1148.80" stroke="#666" stroke-width="0.7"/>
<line x1="643.92" y1="1147.00" x2="643.92" y2="1148.80" stroke="#666" stroke-width="0.7"/>
<line x1="654.11" y1="1147.00" x2="654.11" y2="1148.80" stroke="#666" stroke-width="0.7"/>
<line x1="664.30" y1="1147.00" x2="664.30" y2="1148.80" stroke="#666" stroke-width="0.7"/>
<line x1="674.49" y1="1147.00" x2="674.49" y2="1148.80" stroke="#666" stroke-width="0.7"/>
<text transform="translate(476.5,1155) rotate(-45)" x="0" y="0" font-size="7.4" fill="#1a1a1a" text-anchor="end" stroke="#1a1a1a" stroke-width="0.35">12 am</text>
<text transform="translate(507.07,1155) rotate(-45)" x="0" y="0" font-size="7.4" fill="#1a1a1a" text-anchor="end" stroke="#1a1a1a" stroke-width="0.35">3 pm</text>
<text transform="translate(537.64,1155) rotate(-45)" x="0" y="0" font-size="7.4" fill="#1a1a1a" text-anchor="end" stroke="#1a1a1a" stroke-width="0.35">6 pm</text>
<text transform="translate(568.21,1155) rotate(-45)" x="0" y="0" font-size="7.4" fill="#1a1a1a" text-anchor="end" stroke="#1a1a1a" stroke-width="0.35">9 pm</text>
<text transform="translate(598.78,1155) rotate(-45)" x="0" y="0" font-size="7.4" fill="#1a1a1a" text-anchor="end" stroke="#1a1a1a" stroke-width="0.35">12 pm</text>
<text transform="translate(629.35,1155) rotate(-45)" x="0" y="0" font-size="7.4" fill="#1a1a1a" text-anchor="end" stroke="#1a1a1a" stroke-width="0.35">3 am</text>
<text transform="translate(659.92,1155) rotate(-45)" x="0" y="0" font-size="7.4" fill="#1a1a1a" text-anchor="end" stroke="#1a1a1a" stroke-width="0.35">6 am</text>
<text transform="translate(442,1103.3) rotate(-90)" x="0" y="0" font-size="7.9" fill="#1a1a1a" text-anchor="middle" textLength="79.8" lengthAdjust="spacingAndGlyphs" stroke="#1a1a1a" stroke-width="0.35">Spindle density [1/min]</text>
<text x="535.9" y="1180.8" font-size="7.8" fill="#1a1a1a" textLength="54.3" lengthAdjust="spacingAndGlyphs" stroke="#1a1a1a" stroke-width="0.35">Time of the day</text></svg>
</body></html>
